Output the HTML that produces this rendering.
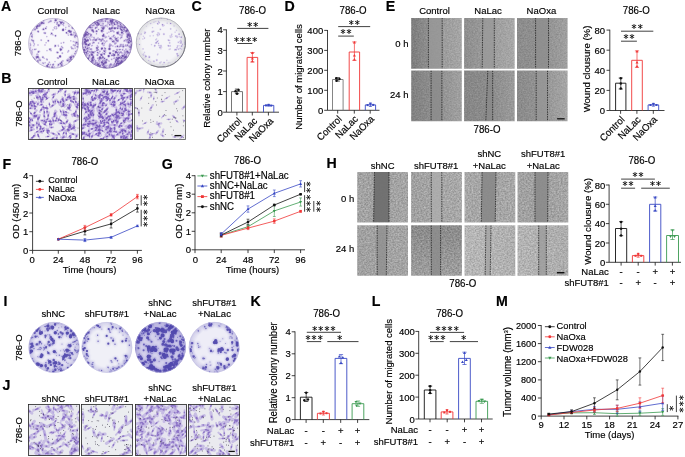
<!DOCTYPE html><html><head><meta charset="utf-8"><title>Figure</title><style>text{fill:#000;stroke:#000;stroke-width:.16px}html,body{margin:0;padding:0;background:#fff}svg{display:block}</style></head><body>
<svg width="685" height="457" viewBox="0 0 685 457" font-family='"Liberation Sans", sans-serif' font-size="9.5" fill="none" stroke="#111" stroke-width=".8">
<defs>
<filter id="b" x="-5%" y="-5%" width="110%" height="110%"><feGaussianBlur stdDeviation=".4"/></filter>
<filter id="b6" x="-5%" y="-5%" width="110%" height="110%"><feGaussianBlur stdDeviation=".6"/></filter>
<filter id="b8" x="-5%" y="-5%" width="110%" height="110%"><feGaussianBlur stdDeviation=".8"/></filter>
<filter id="b3" x="-30%" y="-30%" width="160%" height="160%"><feGaussianBlur stdDeviation="3"/></filter>
<filter id="gn" x="0" y="0" width="100%" height="100%" color-interpolation-filters="sRGB"><feTurbulence type="fractalNoise" baseFrequency=".61 .73" numOctaves="2" seed="4"/><feColorMatrix values="1 0 0 0 0 1 0 0 0 0 1 0 0 0 0 0 0 0 0 1" result="n"/><feComposite in="SourceGraphic" in2="n" operator="arithmetic" k1="0" k2="1" k3=".17" k4="-.085"/></filter>
<filter id="gn2" x="0" y="0" width="100%" height="100%" color-interpolation-filters="sRGB"><feTurbulence type="fractalNoise" baseFrequency=".57 .69" numOctaves="2" seed="9"/><feColorMatrix values="1 0 0 0 0 1 0 0 0 0 1 0 0 0 0 0 0 0 0 1" result="n"/><feComposite in="SourceGraphic" in2="n" operator="arithmetic" k1="0" k2="1" k3=".3" k4="-.15"/></filter>
</defs>
<rect width="685" height="457" fill="#fff" stroke="none"/>
<g>
<text transform="translate(1.1 11.3)scale(1 1.02)" font-weight="bold" font-size="14.2">A</text>
<text transform="translate(52.7 14.3)scale(1 1.04)" text-anchor="middle">Control</text>
<text transform="translate(106.3 14.3)scale(1 1.04)" text-anchor="middle">NaLac</text>
<text transform="translate(160.1 14.3)scale(1 1.04)" text-anchor="middle">NaOxa</text>
<text transform="translate(21.4 43)rotate(-90)scale(1 1.04)" text-anchor="middle">786-O</text>
<radialGradient id="pg11"><stop offset="0.75" stop-color="#f8f7fb"/><stop offset="1" stop-color="#ece8f4"/></radialGradient>
<clipPath id="pc11"><circle cx="53.5" cy="43.3" r="25.1"/></clipPath>
<circle cx="53.5" cy="43.3" r="25.1" fill="url(#pg11)" stroke="none"/>
<g clip-path="url(#pc11)" stroke-linecap="round">
<g filter="url(#b6)" stroke="#b9a6de" opacity="0.45">
<path d="M45.1 62.7h0M62.6 30.3h0M63.4 29.7h0M54.6 22.4h0M56.6 27h0M71.8 48.6h0M34.7 28.7h0M35.5 28.9h0M38 45h0M69.3 31.8h0M32.9 30.2h0M75.4 53.2h0M39.7 58.1h0M37.1 57.1h0M38.5 58.7h0M57.9 65.8h0M58.2 45.3h0M58.4 46.2h0M67.8 52h0M36.9 54.6h0M38.1 54.9h0M37.2 54h0M76.5 35.3h0M68.1 58.8h0M42.5 29.4h0M43.4 28.5h0M33.6 42.7h0M32.3 34.7h0M75 41.9h0M68.4 35.2h0M67.9 33.7h0M46.4 59.1h0M47.2 59.4h0M65.6 29.4h0M59.7 56.7h0M73.7 57.4h0M73 57.3h0M72.8 56.5h0M46.5 26.9h0M32.1 36.1h0M55 26.7h0M54.2 27.6h0M54.4 28.4h0M53 29.9h0M42.7 63h0M39.3 26.4h0M39.4 26h0M39.7 24.9h0M39.6 25.6h0M60.1 48.6h0M60.7 48.3h0M61 49.3h0M60.8 24.6h0M41 22.6h0M43.1 22.6h0M38.3 31.7h0M38.5 32h0M68.3 60.5h0M77.6 36.6h0M44.1 58.3h0M29.6 52.4h0M61.1 64.5h0M62 65.7h0M60.7 66.2h0M36.2 56.8h0M32.2 37.6h0M75.2 45.6h0M74.5 45.8h0M45.4 67.4h0M71.9 55.4h0M30.8 50.7h0M54.8 46.5h0M73.7 44.9h0M73.3 45.1h0M67.9 31.3h0M68.8 31.1h0M61.8 65.5h0M61.4 65.8h0M61.8 67.6h0M62.7 66.3h0M73.3 41.5h0M59.4 63.7h0M63.6 25.6h0M70.5 61.8h0M69.3 59.7h0M78.6 43.9h0M77.6 43.8h0M54.3 66.8h0M53.9 67.7h0M32.5 49.7h0M31.7 51h0M70.8 40.8h0M48.3 63.9h0M62 61.7h0M62.3 62.9h0M45.2 33.1h0M73.2 28.6h0M71.3 59h0M70.8 60.2h0M52.3 66.8h0M52.7 67.1h0M69 62.4h0M72.6 48.4h0M73.2 48.7h0M75.1 48.1h0M77.3 43.9h0M75.7 43.7h0M75.9 43.7h0M74.9 36.1h0M75.1 37.4h0M74.5 37.1h0M77.2 46.4h0M37.1 56.2h0M51 34.4h0M52.3 34.2h0M53 34.8h0M68.3 23.7h0M56.7 28.3h0M56.1 28.8h0M52.5 65.1h0M53.6 64.1h0M74.7 53.7h0M39.6 51.4h0M55.7 19.2h0M57.2 18.9h0M36.4 26.9h0M55 61.6h0M33.9 45.7h0M34.4 44.1h0M34.3 43.9h0M62.6 64.1h0M62.5 65.4h0M65.8 27.5h0M30.7 45h0M46.8 36.6h0M30.4 45.7h0M30.6 44.6h0M30.2 43.4h0M76.8 50.4h0M75.8 51.6h0M75.7 51.5h0M75.8 51.5h0M61 22.2h0M41 24.4h0M41.5 23.7h0M40.5 23.8h0M69.2 60.2h0M76.9 46.6h0M55.2 20.4h0M31.6 39.8h0M35.2 59.5h0M34.5 59.4h0M33.7 59.2h0M30.4 47.9h0M30 49.3h0M29.2 49.6h0M51.8 67.3h0M57.4 57.6h0M47 50.6h0M60.3 64.3h0M70.3 60.5h0M36 49.2h0M33 29.7h0M70.9 56.7h0M69.9 57.7h0M38.9 60.6h0M38.1 62.2h0M38.3 62.3h0M39.5 65.7h0M73.8 34.1h0M75.1 32.9h0M76 33.5h0M45 45h0M46.1 42.7h0M61.2 43.2h0M61.7 49.6h0M62.8 47.8h0M48.5 22.4h0" stroke-width="1.8"/>
<path d="M51 50.6h0M50.2 49.8h0M50.8 49h0M56.9 24.2h0M57 22.8h0M63.3 29.2h0M58.7 26.3h0M71.9 48.3h0M69.8 32.1h0M69 61.7h0M37.1 61.3h0M39.3 59.8h0M38.3 57.3h0M37 57.4h0M66.5 32.8h0M68.6 50.9h0M43.7 20.8h0M43.4 20.7h0M67.9 60h0M69 26.2h0M32 36.4h0M31.5 36.3h0M32 36.1h0M69.5 57.3h0M47.1 59.7h0M36.8 26.6h0M75.7 34.4h0M43.4 63.3h0M60.4 50.4h0M49.3 62.3h0M36.3 26.4h0M31.9 53.9h0M40.6 23.8h0M40.2 25.6h0M61.7 64.7h0M77.7 46.7h0M78.3 46.7h0M79.2 47.8h0M36.3 56.5h0M37.8 56.9h0M74 32.6h0M75.1 45.2h0M48.9 66.6h0M32 52.2h0M55.4 46h0M70.8 31h0M39.1 25.8h0M36.4 58.2h0M36.3 57.6h0M41.2 40.2h0M72.9 35h0M63 24.5h0M69.4 62.1h0M69.4 61.6h0M68.9 60h0M40 24.8h0M61.5 65.7h0M61.5 64.7h0M50.3 64.7h0M62.9 60.9h0M44.2 32.9h0M63.7 42.6h0M72.7 27.5h0M72 27.7h0M57.4 22.4h0M57.4 23.8h0M70.7 61.4h0M52.8 67.5h0M52.7 67.3h0M71.3 47.2h0M33.4 57.5h0M33.9 58.8h0M39.5 25.8h0M38.5 51.6h0M56.9 52.4h0M55.9 20.5h0M61.7 46.7h0M60.7 21.6h0M67.1 60.1h0M59.4 21.5h0M32 40.1h0M32.3 40.5h0M58.4 58.1h0M57.8 58.1h0M74.9 53.7h0M61.7 61.7h0M49.2 67.2h0M78.1 44.5h0M62.3 53.2h0M70.3 59.7h0M35.1 49.5h0M34.7 49.4h0M62.3 47.7h0M49.5 21.8h0M36.5 57.4h0" stroke-width="2.2"/>
<path d="M49.8 49.3h0M35 29.6h0M69.8 31.8h0M37.8 60.9h0M43.7 23.2h0M66.5 32.8h0M75.4 35.6h0M43.6 29.4h0M45.7 28.4h0M37.1 28h0M55.5 35.8h0M71.8 59.7h0M60.6 22.8h0M42.2 22.6h0M38.1 31.4h0M77 36h0M36.6 27h0M42.9 57.2h0M58.5 64.7h0M63.6 23.1h0M39.1 24.1h0M78 46.9h0M50.8 21.1h0M48.3 40.8h0M55.3 45.7h0M73.3 56.2h0M31.2 32.9h0M77 42.5h0M36.5 28.1h0M40.2 60.1h0M48.2 64.4h0M45.1 33.1h0M72.7 28h0M70.8 58.4h0M76.3 42.5h0M74.9 36.1h0M51.6 33.4h0M53.1 64.8h0M38.4 51.9h0M57.7 52.5h0M67.4 60.6h0M52 67.3h0M61.4 62.8h0M62.2 22.3h0M33.3 40.9h0M34.2 59.3h0M70.5 58.7h0M60.5 63.5h0" stroke-width="2.7"/>
<path d="M63.1 29.9h0M58.8 25.3h0M70.6 31.7h0M60.1 56.4h0M71 57.3h0M71.2 34.5h0M41.9 23h0M37.7 57h0M47.2 66.1h0M69.1 31h0M30.5 33.4h0M37.8 26h0M55.7 20.3h0M61.2 22.8h0M60.8 49.5h0" stroke-width="3.4"/>
</g><g filter="url(#b)" stroke="#58379c" opacity="0.8">
<path d="M45.1 62.7h0M62.6 30.3h0M63.4 29.7h0M54.6 22.4h0M56.6 27h0M71.8 48.6h0M34.7 28.7h0M35.5 28.9h0M38 45h0M69.3 31.8h0M32.9 30.2h0M75.4 53.2h0M39.7 58.1h0M37.1 57.1h0M38.5 58.7h0M57.9 65.8h0M58.2 45.3h0M58.4 46.2h0M67.8 52h0M36.9 54.6h0M38.1 54.9h0M37.2 54h0M76.5 35.3h0M68.1 58.8h0M42.5 29.4h0M43.4 28.5h0M33.6 42.7h0M32.3 34.7h0M75 41.9h0M68.4 35.2h0M67.9 33.7h0M46.4 59.1h0M47.2 59.4h0M65.6 29.4h0M59.7 56.7h0M73.7 57.4h0M73 57.3h0M72.8 56.5h0M46.5 26.9h0M32.1 36.1h0M55 26.7h0M54.2 27.6h0M54.4 28.4h0M53 29.9h0M42.7 63h0M39.3 26.4h0M39.4 26h0M39.7 24.9h0M39.6 25.6h0M60.1 48.6h0M60.7 48.3h0M61 49.3h0M60.8 24.6h0M41 22.6h0M43.1 22.6h0M38.3 31.7h0M38.5 32h0M68.3 60.5h0M77.6 36.6h0M44.1 58.3h0M29.6 52.4h0M61.1 64.5h0M62 65.7h0M60.7 66.2h0M36.2 56.8h0M32.2 37.6h0M75.2 45.6h0M74.5 45.8h0M45.4 67.4h0M71.9 55.4h0M30.8 50.7h0M54.8 46.5h0M73.7 44.9h0M73.3 45.1h0M67.9 31.3h0M68.8 31.1h0M61.8 65.5h0M61.4 65.8h0M61.8 67.6h0M62.7 66.3h0M73.3 41.5h0M59.4 63.7h0M63.6 25.6h0M70.5 61.8h0M69.3 59.7h0M78.6 43.9h0M77.6 43.8h0M54.3 66.8h0M53.9 67.7h0M32.5 49.7h0M31.7 51h0M70.8 40.8h0M48.3 63.9h0M62 61.7h0M62.3 62.9h0M45.2 33.1h0M73.2 28.6h0M71.3 59h0M70.8 60.2h0M52.3 66.8h0M52.7 67.1h0M69 62.4h0M72.6 48.4h0M73.2 48.7h0M75.1 48.1h0M77.3 43.9h0M75.7 43.7h0M75.9 43.7h0M74.9 36.1h0M75.1 37.4h0M74.5 37.1h0M77.2 46.4h0M37.1 56.2h0M51 34.4h0M52.3 34.2h0M53 34.8h0M68.3 23.7h0M56.7 28.3h0M56.1 28.8h0M52.5 65.1h0M53.6 64.1h0M74.7 53.7h0M39.6 51.4h0M55.7 19.2h0M57.2 18.9h0M36.4 26.9h0M55 61.6h0M33.9 45.7h0M34.4 44.1h0M34.3 43.9h0M62.6 64.1h0M62.5 65.4h0M65.8 27.5h0M30.7 45h0M46.8 36.6h0M30.4 45.7h0M30.6 44.6h0M30.2 43.4h0M76.8 50.4h0M75.8 51.6h0M75.7 51.5h0M75.8 51.5h0M61 22.2h0M41 24.4h0M41.5 23.7h0M40.5 23.8h0M69.2 60.2h0M76.9 46.6h0M55.2 20.4h0M31.6 39.8h0M35.2 59.5h0M34.5 59.4h0M33.7 59.2h0M30.4 47.9h0M30 49.3h0M29.2 49.6h0M51.8 67.3h0M57.4 57.6h0M47 50.6h0M60.3 64.3h0M70.3 60.5h0M36 49.2h0M33 29.7h0M70.9 56.7h0M69.9 57.7h0M38.9 60.6h0M38.1 62.2h0M38.3 62.3h0M39.5 65.7h0M73.8 34.1h0M75.1 32.9h0M76 33.5h0M45 45h0M46.1 42.7h0M61.2 43.2h0M61.7 49.6h0M62.8 47.8h0M48.5 22.4h0" stroke-width="0.5" stroke-opacity="0.7"/>
<path d="M51 50.6h0M50.2 49.8h0M50.8 49h0M56.9 24.2h0M57 22.8h0M63.3 29.2h0M58.7 26.3h0M71.9 48.3h0M69.8 32.1h0M69 61.7h0M37.1 61.3h0M39.3 59.8h0M38.3 57.3h0M37 57.4h0M66.5 32.8h0M68.6 50.9h0M43.7 20.8h0M43.4 20.7h0M67.9 60h0M69 26.2h0M32 36.4h0M31.5 36.3h0M32 36.1h0M69.5 57.3h0M47.1 59.7h0M36.8 26.6h0M75.7 34.4h0M43.4 63.3h0M60.4 50.4h0M49.3 62.3h0M36.3 26.4h0M31.9 53.9h0M40.6 23.8h0M40.2 25.6h0M61.7 64.7h0M77.7 46.7h0M78.3 46.7h0M79.2 47.8h0M36.3 56.5h0M37.8 56.9h0M74 32.6h0M75.1 45.2h0M48.9 66.6h0M32 52.2h0M55.4 46h0M70.8 31h0M39.1 25.8h0M36.4 58.2h0M36.3 57.6h0M41.2 40.2h0M72.9 35h0M63 24.5h0M69.4 62.1h0M69.4 61.6h0M68.9 60h0M40 24.8h0M61.5 65.7h0M61.5 64.7h0M50.3 64.7h0M62.9 60.9h0M44.2 32.9h0M63.7 42.6h0M72.7 27.5h0M72 27.7h0M57.4 22.4h0M57.4 23.8h0M70.7 61.4h0M52.8 67.5h0M52.7 67.3h0M71.3 47.2h0M33.4 57.5h0M33.9 58.8h0M39.5 25.8h0M38.5 51.6h0M56.9 52.4h0M55.9 20.5h0M61.7 46.7h0M60.7 21.6h0M67.1 60.1h0M59.4 21.5h0M32 40.1h0M32.3 40.5h0M58.4 58.1h0M57.8 58.1h0M74.9 53.7h0M61.7 61.7h0M49.2 67.2h0M78.1 44.5h0M62.3 53.2h0M70.3 59.7h0M35.1 49.5h0M34.7 49.4h0M62.3 47.7h0M49.5 21.8h0M36.5 57.4h0" stroke-width="0.9" stroke-opacity="0.7"/>
<path d="M49.8 49.3h0M35 29.6h0M69.8 31.8h0M37.8 60.9h0M43.7 23.2h0M66.5 32.8h0M75.4 35.6h0M43.6 29.4h0M45.7 28.4h0M37.1 28h0M55.5 35.8h0M71.8 59.7h0M60.6 22.8h0M42.2 22.6h0M38.1 31.4h0M77 36h0M36.6 27h0M42.9 57.2h0M58.5 64.7h0M63.6 23.1h0M39.1 24.1h0M78 46.9h0M50.8 21.1h0M48.3 40.8h0M55.3 45.7h0M73.3 56.2h0M31.2 32.9h0M77 42.5h0M36.5 28.1h0M40.2 60.1h0M48.2 64.4h0M45.1 33.1h0M72.7 28h0M70.8 58.4h0M76.3 42.5h0M74.9 36.1h0M51.6 33.4h0M53.1 64.8h0M38.4 51.9h0M57.7 52.5h0M67.4 60.6h0M52 67.3h0M61.4 62.8h0M62.2 22.3h0M33.3 40.9h0M34.2 59.3h0M70.5 58.7h0M60.5 63.5h0" stroke-width="1.4" stroke-opacity="0.9"/>
<path d="M63.1 29.9h0M58.8 25.3h0M70.6 31.7h0M60.1 56.4h0M71 57.3h0M71.2 34.5h0M41.9 23h0M37.7 57h0M47.2 66.1h0M69.1 31h0M30.5 33.4h0M37.8 26h0M55.7 20.3h0M61.2 22.8h0M60.8 49.5h0" stroke-width="2.1" stroke-opacity="1"/>
</g></g>
<circle cx="53.5" cy="43.3" r="24.9" stroke="#a79dc2" stroke-width="0.6"/>
<radialGradient id="pg12"><stop offset="0.75" stop-color="#f3f0f9"/><stop offset="1" stop-color="#dcd3ec"/></radialGradient>
<clipPath id="pc12"><circle cx="107.1" cy="43.3" r="25.1"/></clipPath>
<circle cx="107.1" cy="43.3" r="25.1" fill="url(#pg12)" stroke="none"/>
<g clip-path="url(#pc12)" stroke-linecap="round">
<g filter="url(#b6)" stroke="#b9a6de" opacity="0.45">
<path d="M96.9 25.7h0M98.3 20.8h0M99.8 21.9h0M100.9 20.2h0M126.1 57.2h0M125.9 56.7h0M126.1 56.4h0M101.4 57.8h0M129.4 46.9h0M83.6 49.4h0M82.7 46.2h0M123.4 33.7h0M122 34.9h0M82.5 42.7h0M105.5 63.1h0M105.8 63.6h0M98.3 23.2h0M100 39.7h0M119.7 52.3h0M87 37.9h0M94 60h0M102.1 40h0M103 39.8h0M87.7 46.8h0M99.4 63.9h0M119.2 46.9h0M130.5 48.2h0M129.8 49.7h0M110.1 38.3h0M101.9 19.7h0M97.6 64.9h0M98.1 65h0M97.3 65h0M116.6 57.8h0M115.4 46.7h0M93.9 25.1h0M127.8 41.7h0M105.5 52.4h0M125.3 51.1h0M95.6 23.4h0M96.7 24.3h0M93.3 56.5h0M104.6 50.2h0M105.8 50.8h0M122.9 60.6h0M122.6 59.2h0M121.1 58.9h0M91.9 29.7h0M93.1 30.3h0M92.7 29.6h0M86.4 40.6h0M86.7 40.7h0M125.2 60.7h0M128.6 37.3h0M128.9 37h0M87.3 50.6h0M86.5 52.4h0M86.6 52.1h0M90.3 36.4h0M90.5 35.5h0M90.5 35.3h0M110 43.8h0M130.6 42.8h0M86.9 45.9h0M120.1 19.9h0M121 20.4h0M121.3 52.4h0M105.1 37.8h0M105.5 37.5h0M106.6 37h0M126.7 33.9h0M127.1 34.2h0M106.9 41h0M83.5 52.9h0M91.7 59.3h0M96.8 62.7h0M85.2 46.2h0M117.1 24.1h0M110.9 39.4h0M123.3 61.8h0M131.7 44.2h0M131.1 45h0M131.2 45.3h0M111.1 19.8h0M90.6 27.3h0M92.3 45.4h0M113.5 58.4h0M122.6 49.8h0M120.7 27.7h0M91.7 53.7h0M91.9 54.3h0M129.7 46.5h0M129.1 45.7h0M128.6 46.3h0M129.8 47.3h0M130.3 36.3h0M112.2 39.6h0M103 44.7h0M103.3 45.6h0M104.3 45.1h0M96.9 64.9h0M107.7 26.8h0M119.1 21.8h0M119.4 21.7h0M119.8 23h0M121 57.2h0M107.7 22.1h0M118.5 27.1h0M130 34.4h0M112.3 23.8h0M113.5 23.2h0M115.9 40.5h0M116.2 40.8h0M116.2 65h0M101.3 21.5h0M112.1 30.8h0M111.7 29.5h0M120.2 45.6h0M121.6 44.5h0M122.6 45.1h0M92.5 62.2h0M90.3 62.1h0M96.6 30.8h0M127.1 42h0M97.6 58.5h0M97.9 58.1h0M118.7 31.5h0M91.3 59h0M96.1 64.2h0M95.7 63.9h0M96 63.3h0M94.9 65h0M101.1 21.6h0M101.4 20.1h0M101.7 19.4h0M93.9 52.8h0M93.6 51.8h0M129.1 52.8h0M129.9 52.7h0M99.6 56.8h0M100.6 57.2h0M129.7 38.4h0M94 22.2h0M87.9 28h0M87.5 28.3h0M115.2 62.1h0M89.3 27.5h0M103.8 62.5h0M104.5 63.4h0M104.5 62.9h0M118.6 65h0M99.9 65.4h0M100.4 66.2h0M110.6 21.5h0M111.3 21.9h0M131 37.9h0M132.7 37.8h0M132.5 38.8h0M119.8 57.7h0M120.5 56.3h0M118.3 65.1h0M118.6 65.1h0M110.7 31.3h0M117.7 54.5h0M117.3 55.2h0M110.5 46.1h0M111.5 39.9h0M85.7 46.4h0M115.3 39.4h0M116.4 41.1h0M89 26.6h0M117.6 65.9h0M103.1 63.5h0M102.8 62.4h0M103 65.2h0M127 45.8h0M96.9 22.3h0M95.8 23.1h0M94.6 22.2h0M121.9 25.6h0M118.9 25.8h0M95.7 40.4h0M110.2 23.2h0M105 60.6h0M105.7 61.7h0M123.3 47.6h0M110.7 44.9h0M109.4 45.1h0M107.2 33.2h0M108.9 32.2h0M122.8 26.7h0M121.4 25.5h0M113.5 28.4h0M95.9 62.9h0M96.2 64.1h0M122 45.2h0M123.3 44.5h0M101.5 31.6h0M84.5 41.5h0M86.2 40.6h0M85.2 41.2h0M88.2 41.7h0M121.7 37h0M95.4 24h0M95.1 23.7h0M95.2 61.7h0M95.8 62.7h0M102 61.8h0M100.3 41h0M104.8 50.5h0M104.2 50.7h0M103.6 51.3h0M103.6 50.5h0M115.3 37.2h0M96.5 48.8h0M116 43.3h0M114.8 43h0M114.7 43.4h0M115 44.3h0M92.4 53.8h0M109.1 29.3h0M117.6 55.6h0M87.4 58.1h0M89.1 57.4h0M119.5 26.7h0M119.9 26.1h0M118.6 23.2h0M109.1 61.2h0M106.1 66.7h0M103 28.8h0M107.1 25.1h0M108.4 23.1h0M111.3 21.6h0M90.9 53.7h0M93.6 60.5h0M130.4 52.4h0M114.2 35.4h0M106.9 65.5h0M98.6 24.9h0M95.8 60.9h0M114 65.9h0M114.6 64.9h0M108 23.7h0M103.5 53.7h0M102.7 52.9h0M112.2 36.7h0M125.5 57.1h0M126.4 57.4h0M118.7 32.7h0M117 32.5h0M90.4 28.7h0M90 49.1h0M125.1 27.5h0M129.2 36h0M128 35.4h0M130.4 34.6h0M117.2 27.9h0M129.3 33.7h0M99.3 57.8h0M119.8 62.5h0M120.7 27.9h0M90.5 51.7h0M90.2 52.5h0M120.8 62.7h0M97.3 45.6h0M121.7 60.2h0M86.3 39.8h0M87.4 33.1h0M125.8 40.4h0M125.7 39.5h0M122.4 33.1h0M122.8 31.7h0M114.2 37.4h0M91.6 49.8h0M90.7 48.8h0M126.5 54.6h0M120.5 61.3h0M118.8 62.2h0M117.9 63.7h0M92.5 27.5h0M131.5 47.3h0M120 63.3h0M91.8 28.1h0M85.6 44h0M85.5 44.2h0M96.3 27.6h0M121.7 27.1h0M121.8 26.7h0M119 25.7h0M108.8 36.3h0M92.2 62.1h0M106.7 68.3h0M120.4 38.5h0M124.3 58.2h0M123.6 25.1h0M124 25.6h0M123.7 24.5h0M98 37.9h0M100.6 25.5h0M100.8 25.5h0M102.2 26.2h0M127.9 33.7h0M127.8 34.4h0M95.1 22.3h0M107.3 18.3h0M116.4 22.5h0M117.9 23.9h0M117.5 23.7h0M117.2 22.8h0M84.7 53.5h0M92.2 57.5h0M130.6 41.5h0M120.3 34.9h0M118 37.5h0M117.4 38.7h0M121.7 56.6h0M100.1 62.1h0M99.1 61.5h0M104.5 43.4h0M105.5 42.1h0M104.2 41h0M104 40.7h0M126.8 50.6h0M117.1 23.2h0M117.4 24.1h0M106.2 59.6h0M108.1 60.6h0M113.3 67.8h0M105.3 50.7h0M120.9 25.1h0M97 23.2h0M127.9 36.7h0M123.9 27.2h0M118.6 51.9h0M121.8 60.4h0M124.2 60h0M115.1 53.1h0M115.5 53.2h0M116.7 51.8h0M109.8 20.1h0M105.9 18.7h0M106.8 18.9h0M113.1 50.8h0M114.5 50.9h0M113.6 50.7h0M96 31.6h0M110.7 31.1h0M111.1 31h0M97.2 26.7h0M97 27.7h0M100 60.4h0M118.4 61.3h0M130.6 36h0M131.3 35.6h0M91.6 29.9h0M117.2 57.1h0M117.3 58.6h0M103 56.6h0M85.3 43.9h0M104.1 66.6h0M104.5 68h0M83.2 37.5h0M82.8 36.9h0M82.3 35.9h0M90.5 25.3h0M108 19.5h0M117 52.8h0M113.6 40.6h0M106 26.2h0M96.5 33.7h0M96.4 33.8h0M122.1 33.9h0M97.8 49.6h0M119.2 64.7h0M126.3 53h0M116.2 58.3h0M115.9 58.3h0M116.6 64.2h0M116.2 66h0M116.3 38.5h0M99.7 23.7h0M118 21.9h0M85.3 38.9h0M87 52.5h0M86.7 53h0M82.8 41.6h0M93.7 58.1h0M112.8 46h0M102.9 57.8h0M129.6 37.6h0M129.7 38.1h0M103.9 25.9h0M84.2 34.7h0M103.9 61.4h0M87.8 45.5h0M85.5 49h0M91.8 22h0M103.5 31.1h0M88.3 37.2h0M129.2 36.2h0M129.2 35.8h0M127.8 36.1h0M121.6 58.8h0M122.8 58.4h0M86.8 34.3h0M86.5 34.3h0M112.5 22h0M110.7 22.5h0M86.7 29.5h0M89.7 38.4h0M89.9 39.1h0M112.4 25.3h0M112.3 27.2h0M84.7 38.2h0M83.6 40h0M82 38.6h0M83.3 37.7h0M97.8 18.2h0M124.1 41.3h0M124.5 40.5h0M85.9 32.4h0M86.6 31.9h0M86.1 32.1h0M93.5 62.3h0M92.9 61.8h0M92.4 60.8h0M95.4 28.4h0M91.5 45.8h0M109.1 66.2h0M87.1 34.2h0M127.7 30.5h0M101.9 54.3h0M112.4 28.7h0M112.2 28h0M125.5 58.3h0M126 57h0M128.1 31.9h0M128.5 30h0M127.3 30.4h0M120.8 29.3h0M84.6 40.9h0M85.7 41h0M116 42.6h0M106.1 41.3h0M95 24h0M104.2 63.7h0M104.3 63.1h0M93.2 40.9h0M92.4 40h0M102.2 23.9h0M103.3 23.9h0M116.6 40.5h0M116.4 40.6h0M118.7 58.4h0M120.2 58.4h0M112.1 25.6h0M113.3 25.8h0M113.7 54.2h0M115.4 43.5h0M130 42.7h0M130.6 41.5h0M87.9 39.7h0M85.6 40.4h0M84.9 41.7h0M91.9 36.9h0M89.8 36.9h0M85.5 54.1h0M85.1 54.5h0M105.3 65.5h0M98.5 25.2h0M98.6 25h0M105.2 20.7h0M97 65.7h0M97.2 66.4h0M97.3 66.4h0M97.6 65.7h0M96.3 39.6h0M106.2 61.4h0M120 23h0M126.1 41h0M115.4 52h0M99.2 64.1h0M99.5 67.1h0M126.1 31.4h0M125.3 31.4h0M113.4 64.9h0M113.1 66.2h0M88.8 51.2h0M111.2 23.9h0M111.3 24.5h0M103.3 61.2h0M103.2 59.6h0M89.4 55.4h0M117.5 45.7h0M126.6 57.3h0M123.2 57.6h0M89.8 34h0M84.6 50.3h0M117.4 33.9h0M93 31.6h0M98.9 66h0M88.9 56.1h0M89 57.1h0M87.8 34.6h0M124.3 50.6h0M88.7 49.2h0M126.1 46.1h0M125.6 45.9h0M86.8 49.1h0" stroke-width="1.8"/>
<path d="M99.9 21.6h0M126.2 55h0M109.8 48.3h0M109.4 47.1h0M109.7 46.9h0M130.3 47.6h0M103 67.6h0M83.3 47.6h0M92.4 25.7h0M105.2 62.4h0M97.9 22.8h0M101.6 40.7h0M86.4 37.4h0M99.2 63.1h0M114.6 58.1h0M115 37.8h0M96.1 22.2h0M95.2 23.4h0M119.2 46.5h0M130.5 49.1h0M109.9 38.8h0M118.2 59.6h0M124.3 57.1h0M93.7 25.4h0M95 51.5h0M97.3 25.3h0M92.7 43.1h0M104.6 47.9h0M112.9 67.2h0M124.7 60.2h0M90.8 35.2h0M102.9 65.2h0M102.1 63.6h0M101.6 64.2h0M131.2 39.6h0M131 38.2h0M109.3 46.1h0M109.9 44.7h0M94.2 59.3h0M94 37.5h0M94.2 38.8h0M94.2 39.9h0M129.8 40.6h0M125.8 55.8h0M124.2 56.1h0M121 23h0M120.5 20.4h0M104.9 36.4h0M117.8 57.5h0M126 32.3h0M84.9 52h0M112 27.4h0M96.6 47.6h0M111.4 22.2h0M122.7 49.7h0M124.2 55.3h0M91.2 54.7h0M102.5 35.8h0M102.8 36.3h0M120.9 29.5h0M121.7 29.1h0M120.1 23.1h0M109.9 65.9h0M108 22.1h0M118 28.3h0M130.5 41.3h0M114.7 24.3h0M117.9 39.9h0M114.4 64.9h0M100 20.5h0M112.9 30.7h0M120.4 44.7h0M105.8 25.6h0M91.2 61.5h0M89.5 62.5h0M89.3 55.2h0M87 55h0M86.7 54.1h0M88 53.4h0M127.4 29.4h0M85.8 35h0M102.8 19.9h0M102.9 21.6h0M100.7 19.5h0M126.5 28.1h0M131.5 40.1h0M99.9 57h0M100.8 58.8h0M129.3 39.2h0M129.1 38.7h0M83.7 43.9h0M115.5 62.4h0M90.6 26.9h0M102.9 61.1h0M84.9 36.2h0M100 65h0M99.8 65.8h0M111.2 21.9h0M121 56.9h0M115.3 66.5h0M110.5 29.6h0M89.9 26.9h0M89.8 25.7h0M91.1 25h0M116.2 64h0M98.8 53.2h0M99.9 51.4h0M113.9 40.8h0M89.6 51.9h0M116.3 39.6h0M116.3 40.5h0M102.5 27.3h0M113.9 31.7h0M103.6 64.5h0M117.8 41.5h0M102 25.5h0M116.7 58.1h0M94.9 22.6h0M116.4 63.1h0M95.2 40.3h0M96.3 39.5h0M109.9 22h0M105.5 60.2h0M106.4 60h0M122.6 46.6h0M110 45.6h0M111.2 45.2h0M98.6 43.1h0M95.3 63.1h0M101.7 58.6h0M118.5 60.9h0M113.9 56h0M102.2 31.7h0M102.7 30.6h0M122 53.1h0M87 40.6h0M86.4 41.3h0M95.5 23.7h0M95.4 60.9h0M97.2 62.7h0M106.3 61.9h0M92.8 55.3h0M93.1 56.6h0M118 54.8h0M119 55.9h0M101.4 48.9h0M102.2 29h0M110 22.8h0M93 61.2h0M129 52.6h0M98.6 29.5h0M97.8 55h0M97.1 55.1h0M97.4 55.1h0M104.5 54.2h0M118.5 33.8h0M117.3 33.1h0M111.7 59.4h0M127.8 35.1h0M116 27.9h0M119.4 49.7h0M131.1 46.7h0M117.7 62.4h0M91.2 52.6h0M86.5 34.3h0M86.1 35.2h0M108.6 49h0M125 30.7h0M124.8 30.8h0M91.5 49h0M124.7 54.8h0M126.6 56h0M118.4 63.8h0M111.6 28.2h0M95.4 28.4h0M110.8 20.5h0M103.8 67.3h0M121.7 37.6h0M121 37.4h0M125 58h0M124.2 24.3h0M101.4 27.7h0M105.5 18.8h0M128.1 34.7h0M105.7 18.9h0M131.5 41.4h0M109.7 65.1h0M93.8 39.6h0M98.7 60.2h0M106.5 68.3h0M113.4 36.2h0M113.7 35.7h0M114.8 66.3h0M116.4 63.4h0M128.4 52.5h0M127.8 39.3h0M119.1 49.6h0M120.3 49.5h0M123.3 31.6h0M119.5 53.1h0M118.6 63.2h0M84.8 35.4h0M127.8 35.2h0M123.7 60h0M110.5 21.4h0M110.8 19.9h0M106.6 19.1h0M113.2 51.1h0M96.4 31.4h0M96.3 31.1h0M111 31.2h0M117.7 60.9h0M117.1 60.7h0M101.5 49.3h0M114.4 63.5h0M113.1 53.5h0M92.2 30.4h0M116.4 57.5h0M109.6 67.6h0M103.3 57.3h0M109.3 48.5h0M128.4 35.1h0M127.2 35h0M103.5 68.7h0M97.1 38.9h0M116.1 52.1h0M97.9 49.7h0M98.3 49.8h0M117.7 63.7h0M117.1 63.3h0M125.4 53.1h0M117 65.3h0M118.9 61.2h0M116.1 38.8h0M82.9 39.2h0M84.3 39.8h0M84.6 38.1h0M119.3 61.1h0M85.4 43.4h0M86.7 53.4h0M84.5 41.9h0M93.6 56h0M129 38.4h0M130 38.2h0M128.7 38.6h0M103.5 26.8h0M104.6 27h0M92.8 23.3h0M92.8 22.3h0M99.3 65.7h0M100.4 65.5h0M123.1 58.5h0M86.9 36h0M101.3 41h0M113.9 27.8h0M112.4 27.2h0M115.9 24.5h0M98.2 20.7h0M124.3 40.6h0M83.3 49.4h0M82.5 50.4h0M110 66.5h0M85.8 33.6h0M87.6 34.3h0M128 30.6h0M111.6 28.6h0M121.9 35.8h0M128 32.9h0M128.9 30.4h0M122.5 30.3h0M121.7 29.8h0M121.2 30h0M85.3 36.7h0M83.9 34.9h0M103.2 64.5h0M103.1 63.8h0M103.1 23.8h0M119.9 61h0M121 62.9h0M120.3 63.5h0M120.6 58.7h0M90.6 39.9h0M130.1 41.4h0M91.3 34.7h0M91.3 35.2h0M84 54.4h0M85.9 56h0M104.8 59.9h0M88.1 44.9h0M119.3 65.5h0M116.4 52.4h0M117.1 52.7h0M99.4 66.1h0M125.7 31h0M113.2 65.1h0M112 22.8h0M111.3 23.1h0M102.4 60.6h0M104.1 60.7h0M89.9 56.8h0M89.4 55.9h0M90 55.3h0M117.4 46.6h0M126.8 56.9h0M90.7 34.3h0M93.1 52.3h0M85.6 50.4h0M84.1 50.9h0M93.4 65.5h0M119.9 34.7h0M96.7 24.7h0M103.6 34.3h0M96.1 65.3h0M125.1 52.1h0M124.3 52.1h0M125.9 49.3h0M125.8 45.1h0M89.1 47.7h0M90.6 49.4h0" stroke-width="2.2"/>
<path d="M115.7 61.5h0M99.2 39.3h0M131.6 45.9h0M130.4 46.9h0M102.7 39.1h0M87.7 48.3h0M120.8 46.1h0M110.2 38.3h0M111 38.4h0M98.2 64.9h0M124 29.8h0M124.2 58.1h0M122.2 55.4h0M116 21.5h0M93.8 42.6h0M105.2 48.8h0M125.5 59.9h0M87.6 51.3h0M129.4 40.2h0M95.6 39.9h0M120.8 52.1h0M118.2 58.3h0M128.1 34.3h0M84.8 52.3h0M98.8 66.5h0M97.9 47.1h0M96.8 47.9h0M97.2 48.4h0M111.3 21.8h0M125.8 56.9h0M131.1 40.9h0M130 36.5h0M128.5 35.6h0M127.1 36.3h0M104.6 51.5h0M114.3 23.8h0M116.3 38.7h0M102.7 65.1h0M84.8 34.7h0M102.2 43.8h0M102.7 43.2h0M99.1 58.1h0M92.1 58.4h0M92.9 58h0M101.9 19.9h0M93.2 52.5h0M93.6 52.6h0M120.5 24.7h0M111.9 23.7h0M82 43.9h0M80.4 43.7h0M94.3 22.3h0M89.3 27h0M89.7 25.1h0M118.5 54.8h0M116.8 63.7h0M97.6 52.6h0M121.3 29.7h0M115.1 66.6h0M115.5 66.6h0M102 62.6h0M127.5 45.1h0M117.6 28.3h0M122 27h0M120.8 26.9h0M96.3 40.1h0M109.7 24.7h0M89.8 43.9h0M100.7 58.1h0M123.6 46.2h0M117.6 61.2h0M92.3 55.1h0M103.2 27.8h0M92 60.6h0M91.8 61.3h0M104.3 53.8h0M88.4 58.3h0M86 32.8h0M118 26h0M99.5 59h0M117.9 61.5h0M117.8 63h0M123 27.8h0M120.3 28.6h0M121.4 62.6h0M122.3 61.9h0M121.7 57.7h0M121.3 57.8h0M86.2 34.5h0M98.7 66.4h0M122 30.2h0M124.3 54.1h0M120.9 62.3h0M131.3 45h0M90.8 27.4h0M112 28.3h0M95.9 27.6h0M120.4 26.9h0M127.1 40h0M92 63h0M104.5 67.3h0M105.8 17.1h0M110.9 64.3h0M110.9 64.9h0M117.3 22.8h0M106.8 59.7h0M117.8 40.8h0M97.1 25h0M128.7 39.9h0M117 49.9h0M110.8 20.7h0M96.8 31.3h0M93.5 31.8h0M102.5 57h0M102.9 57.7h0M127.9 35.8h0M103.5 68.7h0M117.7 52.9h0M113.9 41.7h0M112.6 41.5h0M97 50.3h0M85.2 43.9h0M86.3 52.5h0M85.6 42.3h0M127.4 37.3h0M104 28h0M84.3 35.6h0M84.4 36.4h0M104.5 58.4h0M99.8 66.3h0M114.5 24.4h0M87.8 34.9h0M115.7 39h0M114 22.6h0M101 39.7h0M127.9 53.1h0M98.1 20.3h0M86 32h0M113.9 55h0M112.2 55.2h0M112 55.4h0M101.1 54.4h0M111.5 28.2h0M125.3 57.1h0M123.9 29.1h0M89 27.2h0M86.9 40.7h0M115.8 39h0M104.1 66h0M105.5 21.1h0M103.4 67.1h0M85.5 47.2h0M118.7 64.5h0M117.4 46.4h0M124.8 57.3h0M92.2 52.3h0M92 51.8h0M94.3 64.3h0M112.2 67.4h0M113.3 67.9h0M113.2 68.4h0M103.6 34.7h0M87.5 32.5h0M88.7 33.8h0M86.9 48.9h0" stroke-width="2.7"/>
<path d="M112.7 19.9h0M105.3 62.2h0M110 53.2h0M117.8 58.7h0M122.9 56.1h0M121.7 61.4h0M124.8 27.5h0M128.7 42.4h0M119.1 57.7h0M83.9 53h0M110.8 20.9h0M125.4 57.1h0M91.8 54.6h0M130.4 35.5h0M117.6 32.9h0M103.6 63.9h0M92.5 60h0M109.8 28.6h0M97.4 22.6h0M100.2 57.6h0M127.3 51.7h0M88.6 45h0M101.8 30.8h0M108.7 56.1h0M87.8 40.2h0M102 62.2h0M103.1 28.8h0M98.7 24.3h0M128.7 34.5h0M85.2 39.5h0M121.9 32.5h0M88 58.9h0M127.5 29.6h0M86.2 44.2h0M93.1 57.4h0M102 48.5h0M105 67.6h0M118.5 63.7h0M107 18.5h0M92.6 30.5h0M109.6 49h0M85.7 34h0M116.2 60h0M116.4 65.2h0M98 64.4h0M112.2 21.8h0M84.7 42.4h0M114.9 28.2h0M114.3 55h0M86.3 41h0M101.5 55h0M85.3 35h0M120.3 63h0M98.5 24.2h0M105.8 62.5h0M115.9 52.1h0M99.3 67.6h0M126.7 30.9h0M84.1 49.9h0M103.3 35.7h0" stroke-width="3.4"/>
</g><g filter="url(#b)" stroke="#58379c" opacity="0.8">
<path d="M96.9 25.7h0M98.3 20.8h0M99.8 21.9h0M100.9 20.2h0M126.1 57.2h0M125.9 56.7h0M126.1 56.4h0M101.4 57.8h0M129.4 46.9h0M83.6 49.4h0M82.7 46.2h0M123.4 33.7h0M122 34.9h0M82.5 42.7h0M105.5 63.1h0M105.8 63.6h0M98.3 23.2h0M100 39.7h0M119.7 52.3h0M87 37.9h0M94 60h0M102.1 40h0M103 39.8h0M87.7 46.8h0M99.4 63.9h0M119.2 46.9h0M130.5 48.2h0M129.8 49.7h0M110.1 38.3h0M101.9 19.7h0M97.6 64.9h0M98.1 65h0M97.3 65h0M116.6 57.8h0M115.4 46.7h0M93.9 25.1h0M127.8 41.7h0M105.5 52.4h0M125.3 51.1h0M95.6 23.4h0M96.7 24.3h0M93.3 56.5h0M104.6 50.2h0M105.8 50.8h0M122.9 60.6h0M122.6 59.2h0M121.1 58.9h0M91.9 29.7h0M93.1 30.3h0M92.7 29.6h0M86.4 40.6h0M86.7 40.7h0M125.2 60.7h0M128.6 37.3h0M128.9 37h0M87.3 50.6h0M86.5 52.4h0M86.6 52.1h0M90.3 36.4h0M90.5 35.5h0M90.5 35.3h0M110 43.8h0M130.6 42.8h0M86.9 45.9h0M120.1 19.9h0M121 20.4h0M121.3 52.4h0M105.1 37.8h0M105.5 37.5h0M106.6 37h0M126.7 33.9h0M127.1 34.2h0M106.9 41h0M83.5 52.9h0M91.7 59.3h0M96.8 62.7h0M85.2 46.2h0M117.1 24.1h0M110.9 39.4h0M123.3 61.8h0M131.7 44.2h0M131.1 45h0M131.2 45.3h0M111.1 19.8h0M90.6 27.3h0M92.3 45.4h0M113.5 58.4h0M122.6 49.8h0M120.7 27.7h0M91.7 53.7h0M91.9 54.3h0M129.7 46.5h0M129.1 45.7h0M128.6 46.3h0M129.8 47.3h0M130.3 36.3h0M112.2 39.6h0M103 44.7h0M103.3 45.6h0M104.3 45.1h0M96.9 64.9h0M107.7 26.8h0M119.1 21.8h0M119.4 21.7h0M119.8 23h0M121 57.2h0M107.7 22.1h0M118.5 27.1h0M130 34.4h0M112.3 23.8h0M113.5 23.2h0M115.9 40.5h0M116.2 40.8h0M116.2 65h0M101.3 21.5h0M112.1 30.8h0M111.7 29.5h0M120.2 45.6h0M121.6 44.5h0M122.6 45.1h0M92.5 62.2h0M90.3 62.1h0M96.6 30.8h0M127.1 42h0M97.6 58.5h0M97.9 58.1h0M118.7 31.5h0M91.3 59h0M96.1 64.2h0M95.7 63.9h0M96 63.3h0M94.9 65h0M101.1 21.6h0M101.4 20.1h0M101.7 19.4h0M93.9 52.8h0M93.6 51.8h0M129.1 52.8h0M129.9 52.7h0M99.6 56.8h0M100.6 57.2h0M129.7 38.4h0M94 22.2h0M87.9 28h0M87.5 28.3h0M115.2 62.1h0M89.3 27.5h0M103.8 62.5h0M104.5 63.4h0M104.5 62.9h0M118.6 65h0M99.9 65.4h0M100.4 66.2h0M110.6 21.5h0M111.3 21.9h0M131 37.9h0M132.7 37.8h0M132.5 38.8h0M119.8 57.7h0M120.5 56.3h0M118.3 65.1h0M118.6 65.1h0M110.7 31.3h0M117.7 54.5h0M117.3 55.2h0M110.5 46.1h0M111.5 39.9h0M85.7 46.4h0M115.3 39.4h0M116.4 41.1h0M89 26.6h0M117.6 65.9h0M103.1 63.5h0M102.8 62.4h0M103 65.2h0M127 45.8h0M96.9 22.3h0M95.8 23.1h0M94.6 22.2h0M121.9 25.6h0M118.9 25.8h0M95.7 40.4h0M110.2 23.2h0M105 60.6h0M105.7 61.7h0M123.3 47.6h0M110.7 44.9h0M109.4 45.1h0M107.2 33.2h0M108.9 32.2h0M122.8 26.7h0M121.4 25.5h0M113.5 28.4h0M95.9 62.9h0M96.2 64.1h0M122 45.2h0M123.3 44.5h0M101.5 31.6h0M84.5 41.5h0M86.2 40.6h0M85.2 41.2h0M88.2 41.7h0M121.7 37h0M95.4 24h0M95.1 23.7h0M95.2 61.7h0M95.8 62.7h0M102 61.8h0M100.3 41h0M104.8 50.5h0M104.2 50.7h0M103.6 51.3h0M103.6 50.5h0M115.3 37.2h0M96.5 48.8h0M116 43.3h0M114.8 43h0M114.7 43.4h0M115 44.3h0M92.4 53.8h0M109.1 29.3h0M117.6 55.6h0M87.4 58.1h0M89.1 57.4h0M119.5 26.7h0M119.9 26.1h0M118.6 23.2h0M109.1 61.2h0M106.1 66.7h0M103 28.8h0M107.1 25.1h0M108.4 23.1h0M111.3 21.6h0M90.9 53.7h0M93.6 60.5h0M130.4 52.4h0M114.2 35.4h0M106.9 65.5h0M98.6 24.9h0M95.8 60.9h0M114 65.9h0M114.6 64.9h0M108 23.7h0M103.5 53.7h0M102.7 52.9h0M112.2 36.7h0M125.5 57.1h0M126.4 57.4h0M118.7 32.7h0M117 32.5h0M90.4 28.7h0M90 49.1h0M125.1 27.5h0M129.2 36h0M128 35.4h0M130.4 34.6h0M117.2 27.9h0M129.3 33.7h0M99.3 57.8h0M119.8 62.5h0M120.7 27.9h0M90.5 51.7h0M90.2 52.5h0M120.8 62.7h0M97.3 45.6h0M121.7 60.2h0M86.3 39.8h0M87.4 33.1h0M125.8 40.4h0M125.7 39.5h0M122.4 33.1h0M122.8 31.7h0M114.2 37.4h0M91.6 49.8h0M90.7 48.8h0M126.5 54.6h0M120.5 61.3h0M118.8 62.2h0M117.9 63.7h0M92.5 27.5h0M131.5 47.3h0M120 63.3h0M91.8 28.1h0M85.6 44h0M85.5 44.2h0M96.3 27.6h0M121.7 27.1h0M121.8 26.7h0M119 25.7h0M108.8 36.3h0M92.2 62.1h0M106.7 68.3h0M120.4 38.5h0M124.3 58.2h0M123.6 25.1h0M124 25.6h0M123.7 24.5h0M98 37.9h0M100.6 25.5h0M100.8 25.5h0M102.2 26.2h0M127.9 33.7h0M127.8 34.4h0M95.1 22.3h0M107.3 18.3h0M116.4 22.5h0M117.9 23.9h0M117.5 23.7h0M117.2 22.8h0M84.7 53.5h0M92.2 57.5h0M130.6 41.5h0M120.3 34.9h0M118 37.5h0M117.4 38.7h0M121.7 56.6h0M100.1 62.1h0M99.1 61.5h0M104.5 43.4h0M105.5 42.1h0M104.2 41h0M104 40.7h0M126.8 50.6h0M117.1 23.2h0M117.4 24.1h0M106.2 59.6h0M108.1 60.6h0M113.3 67.8h0M105.3 50.7h0M120.9 25.1h0M97 23.2h0M127.9 36.7h0M123.9 27.2h0M118.6 51.9h0M121.8 60.4h0M124.2 60h0M115.1 53.1h0M115.5 53.2h0M116.7 51.8h0M109.8 20.1h0M105.9 18.7h0M106.8 18.9h0M113.1 50.8h0M114.5 50.9h0M113.6 50.7h0M96 31.6h0M110.7 31.1h0M111.1 31h0M97.2 26.7h0M97 27.7h0M100 60.4h0M118.4 61.3h0M130.6 36h0M131.3 35.6h0M91.6 29.9h0M117.2 57.1h0M117.3 58.6h0M103 56.6h0M85.3 43.9h0M104.1 66.6h0M104.5 68h0M83.2 37.5h0M82.8 36.9h0M82.3 35.9h0M90.5 25.3h0M108 19.5h0M117 52.8h0M113.6 40.6h0M106 26.2h0M96.5 33.7h0M96.4 33.8h0M122.1 33.9h0M97.8 49.6h0M119.2 64.7h0M126.3 53h0M116.2 58.3h0M115.9 58.3h0M116.6 64.2h0M116.2 66h0M116.3 38.5h0M99.7 23.7h0M118 21.9h0M85.3 38.9h0M87 52.5h0M86.7 53h0M82.8 41.6h0M93.7 58.1h0M112.8 46h0M102.9 57.8h0M129.6 37.6h0M129.7 38.1h0M103.9 25.9h0M84.2 34.7h0M103.9 61.4h0M87.8 45.5h0M85.5 49h0M91.8 22h0M103.5 31.1h0M88.3 37.2h0M129.2 36.2h0M129.2 35.8h0M127.8 36.1h0M121.6 58.8h0M122.8 58.4h0M86.8 34.3h0M86.5 34.3h0M112.5 22h0M110.7 22.5h0M86.7 29.5h0M89.7 38.4h0M89.9 39.1h0M112.4 25.3h0M112.3 27.2h0M84.7 38.2h0M83.6 40h0M82 38.6h0M83.3 37.7h0M97.8 18.2h0M124.1 41.3h0M124.5 40.5h0M85.9 32.4h0M86.6 31.9h0M86.1 32.1h0M93.5 62.3h0M92.9 61.8h0M92.4 60.8h0M95.4 28.4h0M91.5 45.8h0M109.1 66.2h0M87.1 34.2h0M127.7 30.5h0M101.9 54.3h0M112.4 28.7h0M112.2 28h0M125.5 58.3h0M126 57h0M128.1 31.9h0M128.5 30h0M127.3 30.4h0M120.8 29.3h0M84.6 40.9h0M85.7 41h0M116 42.6h0M106.1 41.3h0M95 24h0M104.2 63.7h0M104.3 63.1h0M93.2 40.9h0M92.4 40h0M102.2 23.9h0M103.3 23.9h0M116.6 40.5h0M116.4 40.6h0M118.7 58.4h0M120.2 58.4h0M112.1 25.6h0M113.3 25.8h0M113.7 54.2h0M115.4 43.5h0M130 42.7h0M130.6 41.5h0M87.9 39.7h0M85.6 40.4h0M84.9 41.7h0M91.9 36.9h0M89.8 36.9h0M85.5 54.1h0M85.1 54.5h0M105.3 65.5h0M98.5 25.2h0M98.6 25h0M105.2 20.7h0M97 65.7h0M97.2 66.4h0M97.3 66.4h0M97.6 65.7h0M96.3 39.6h0M106.2 61.4h0M120 23h0M126.1 41h0M115.4 52h0M99.2 64.1h0M99.5 67.1h0M126.1 31.4h0M125.3 31.4h0M113.4 64.9h0M113.1 66.2h0M88.8 51.2h0M111.2 23.9h0M111.3 24.5h0M103.3 61.2h0M103.2 59.6h0M89.4 55.4h0M117.5 45.7h0M126.6 57.3h0M123.2 57.6h0M89.8 34h0M84.6 50.3h0M117.4 33.9h0M93 31.6h0M98.9 66h0M88.9 56.1h0M89 57.1h0M87.8 34.6h0M124.3 50.6h0M88.7 49.2h0M126.1 46.1h0M125.6 45.9h0M86.8 49.1h0" stroke-width="0.5" stroke-opacity="0.7"/>
<path d="M99.9 21.6h0M126.2 55h0M109.8 48.3h0M109.4 47.1h0M109.7 46.9h0M130.3 47.6h0M103 67.6h0M83.3 47.6h0M92.4 25.7h0M105.2 62.4h0M97.9 22.8h0M101.6 40.7h0M86.4 37.4h0M99.2 63.1h0M114.6 58.1h0M115 37.8h0M96.1 22.2h0M95.2 23.4h0M119.2 46.5h0M130.5 49.1h0M109.9 38.8h0M118.2 59.6h0M124.3 57.1h0M93.7 25.4h0M95 51.5h0M97.3 25.3h0M92.7 43.1h0M104.6 47.9h0M112.9 67.2h0M124.7 60.2h0M90.8 35.2h0M102.9 65.2h0M102.1 63.6h0M101.6 64.2h0M131.2 39.6h0M131 38.2h0M109.3 46.1h0M109.9 44.7h0M94.2 59.3h0M94 37.5h0M94.2 38.8h0M94.2 39.9h0M129.8 40.6h0M125.8 55.8h0M124.2 56.1h0M121 23h0M120.5 20.4h0M104.9 36.4h0M117.8 57.5h0M126 32.3h0M84.9 52h0M112 27.4h0M96.6 47.6h0M111.4 22.2h0M122.7 49.7h0M124.2 55.3h0M91.2 54.7h0M102.5 35.8h0M102.8 36.3h0M120.9 29.5h0M121.7 29.1h0M120.1 23.1h0M109.9 65.9h0M108 22.1h0M118 28.3h0M130.5 41.3h0M114.7 24.3h0M117.9 39.9h0M114.4 64.9h0M100 20.5h0M112.9 30.7h0M120.4 44.7h0M105.8 25.6h0M91.2 61.5h0M89.5 62.5h0M89.3 55.2h0M87 55h0M86.7 54.1h0M88 53.4h0M127.4 29.4h0M85.8 35h0M102.8 19.9h0M102.9 21.6h0M100.7 19.5h0M126.5 28.1h0M131.5 40.1h0M99.9 57h0M100.8 58.8h0M129.3 39.2h0M129.1 38.7h0M83.7 43.9h0M115.5 62.4h0M90.6 26.9h0M102.9 61.1h0M84.9 36.2h0M100 65h0M99.8 65.8h0M111.2 21.9h0M121 56.9h0M115.3 66.5h0M110.5 29.6h0M89.9 26.9h0M89.8 25.7h0M91.1 25h0M116.2 64h0M98.8 53.2h0M99.9 51.4h0M113.9 40.8h0M89.6 51.9h0M116.3 39.6h0M116.3 40.5h0M102.5 27.3h0M113.9 31.7h0M103.6 64.5h0M117.8 41.5h0M102 25.5h0M116.7 58.1h0M94.9 22.6h0M116.4 63.1h0M95.2 40.3h0M96.3 39.5h0M109.9 22h0M105.5 60.2h0M106.4 60h0M122.6 46.6h0M110 45.6h0M111.2 45.2h0M98.6 43.1h0M95.3 63.1h0M101.7 58.6h0M118.5 60.9h0M113.9 56h0M102.2 31.7h0M102.7 30.6h0M122 53.1h0M87 40.6h0M86.4 41.3h0M95.5 23.7h0M95.4 60.9h0M97.2 62.7h0M106.3 61.9h0M92.8 55.3h0M93.1 56.6h0M118 54.8h0M119 55.9h0M101.4 48.9h0M102.2 29h0M110 22.8h0M93 61.2h0M129 52.6h0M98.6 29.5h0M97.8 55h0M97.1 55.1h0M97.4 55.1h0M104.5 54.2h0M118.5 33.8h0M117.3 33.1h0M111.7 59.4h0M127.8 35.1h0M116 27.9h0M119.4 49.7h0M131.1 46.7h0M117.7 62.4h0M91.2 52.6h0M86.5 34.3h0M86.1 35.2h0M108.6 49h0M125 30.7h0M124.8 30.8h0M91.5 49h0M124.7 54.8h0M126.6 56h0M118.4 63.8h0M111.6 28.2h0M95.4 28.4h0M110.8 20.5h0M103.8 67.3h0M121.7 37.6h0M121 37.4h0M125 58h0M124.2 24.3h0M101.4 27.7h0M105.5 18.8h0M128.1 34.7h0M105.7 18.9h0M131.5 41.4h0M109.7 65.1h0M93.8 39.6h0M98.7 60.2h0M106.5 68.3h0M113.4 36.2h0M113.7 35.7h0M114.8 66.3h0M116.4 63.4h0M128.4 52.5h0M127.8 39.3h0M119.1 49.6h0M120.3 49.5h0M123.3 31.6h0M119.5 53.1h0M118.6 63.2h0M84.8 35.4h0M127.8 35.2h0M123.7 60h0M110.5 21.4h0M110.8 19.9h0M106.6 19.1h0M113.2 51.1h0M96.4 31.4h0M96.3 31.1h0M111 31.2h0M117.7 60.9h0M117.1 60.7h0M101.5 49.3h0M114.4 63.5h0M113.1 53.5h0M92.2 30.4h0M116.4 57.5h0M109.6 67.6h0M103.3 57.3h0M109.3 48.5h0M128.4 35.1h0M127.2 35h0M103.5 68.7h0M97.1 38.9h0M116.1 52.1h0M97.9 49.7h0M98.3 49.8h0M117.7 63.7h0M117.1 63.3h0M125.4 53.1h0M117 65.3h0M118.9 61.2h0M116.1 38.8h0M82.9 39.2h0M84.3 39.8h0M84.6 38.1h0M119.3 61.1h0M85.4 43.4h0M86.7 53.4h0M84.5 41.9h0M93.6 56h0M129 38.4h0M130 38.2h0M128.7 38.6h0M103.5 26.8h0M104.6 27h0M92.8 23.3h0M92.8 22.3h0M99.3 65.7h0M100.4 65.5h0M123.1 58.5h0M86.9 36h0M101.3 41h0M113.9 27.8h0M112.4 27.2h0M115.9 24.5h0M98.2 20.7h0M124.3 40.6h0M83.3 49.4h0M82.5 50.4h0M110 66.5h0M85.8 33.6h0M87.6 34.3h0M128 30.6h0M111.6 28.6h0M121.9 35.8h0M128 32.9h0M128.9 30.4h0M122.5 30.3h0M121.7 29.8h0M121.2 30h0M85.3 36.7h0M83.9 34.9h0M103.2 64.5h0M103.1 63.8h0M103.1 23.8h0M119.9 61h0M121 62.9h0M120.3 63.5h0M120.6 58.7h0M90.6 39.9h0M130.1 41.4h0M91.3 34.7h0M91.3 35.2h0M84 54.4h0M85.9 56h0M104.8 59.9h0M88.1 44.9h0M119.3 65.5h0M116.4 52.4h0M117.1 52.7h0M99.4 66.1h0M125.7 31h0M113.2 65.1h0M112 22.8h0M111.3 23.1h0M102.4 60.6h0M104.1 60.7h0M89.9 56.8h0M89.4 55.9h0M90 55.3h0M117.4 46.6h0M126.8 56.9h0M90.7 34.3h0M93.1 52.3h0M85.6 50.4h0M84.1 50.9h0M93.4 65.5h0M119.9 34.7h0M96.7 24.7h0M103.6 34.3h0M96.1 65.3h0M125.1 52.1h0M124.3 52.1h0M125.9 49.3h0M125.8 45.1h0M89.1 47.7h0M90.6 49.4h0" stroke-width="0.9" stroke-opacity="0.7"/>
<path d="M115.7 61.5h0M99.2 39.3h0M131.6 45.9h0M130.4 46.9h0M102.7 39.1h0M87.7 48.3h0M120.8 46.1h0M110.2 38.3h0M111 38.4h0M98.2 64.9h0M124 29.8h0M124.2 58.1h0M122.2 55.4h0M116 21.5h0M93.8 42.6h0M105.2 48.8h0M125.5 59.9h0M87.6 51.3h0M129.4 40.2h0M95.6 39.9h0M120.8 52.1h0M118.2 58.3h0M128.1 34.3h0M84.8 52.3h0M98.8 66.5h0M97.9 47.1h0M96.8 47.9h0M97.2 48.4h0M111.3 21.8h0M125.8 56.9h0M131.1 40.9h0M130 36.5h0M128.5 35.6h0M127.1 36.3h0M104.6 51.5h0M114.3 23.8h0M116.3 38.7h0M102.7 65.1h0M84.8 34.7h0M102.2 43.8h0M102.7 43.2h0M99.1 58.1h0M92.1 58.4h0M92.9 58h0M101.9 19.9h0M93.2 52.5h0M93.6 52.6h0M120.5 24.7h0M111.9 23.7h0M82 43.9h0M80.4 43.7h0M94.3 22.3h0M89.3 27h0M89.7 25.1h0M118.5 54.8h0M116.8 63.7h0M97.6 52.6h0M121.3 29.7h0M115.1 66.6h0M115.5 66.6h0M102 62.6h0M127.5 45.1h0M117.6 28.3h0M122 27h0M120.8 26.9h0M96.3 40.1h0M109.7 24.7h0M89.8 43.9h0M100.7 58.1h0M123.6 46.2h0M117.6 61.2h0M92.3 55.1h0M103.2 27.8h0M92 60.6h0M91.8 61.3h0M104.3 53.8h0M88.4 58.3h0M86 32.8h0M118 26h0M99.5 59h0M117.9 61.5h0M117.8 63h0M123 27.8h0M120.3 28.6h0M121.4 62.6h0M122.3 61.9h0M121.7 57.7h0M121.3 57.8h0M86.2 34.5h0M98.7 66.4h0M122 30.2h0M124.3 54.1h0M120.9 62.3h0M131.3 45h0M90.8 27.4h0M112 28.3h0M95.9 27.6h0M120.4 26.9h0M127.1 40h0M92 63h0M104.5 67.3h0M105.8 17.1h0M110.9 64.3h0M110.9 64.9h0M117.3 22.8h0M106.8 59.7h0M117.8 40.8h0M97.1 25h0M128.7 39.9h0M117 49.9h0M110.8 20.7h0M96.8 31.3h0M93.5 31.8h0M102.5 57h0M102.9 57.7h0M127.9 35.8h0M103.5 68.7h0M117.7 52.9h0M113.9 41.7h0M112.6 41.5h0M97 50.3h0M85.2 43.9h0M86.3 52.5h0M85.6 42.3h0M127.4 37.3h0M104 28h0M84.3 35.6h0M84.4 36.4h0M104.5 58.4h0M99.8 66.3h0M114.5 24.4h0M87.8 34.9h0M115.7 39h0M114 22.6h0M101 39.7h0M127.9 53.1h0M98.1 20.3h0M86 32h0M113.9 55h0M112.2 55.2h0M112 55.4h0M101.1 54.4h0M111.5 28.2h0M125.3 57.1h0M123.9 29.1h0M89 27.2h0M86.9 40.7h0M115.8 39h0M104.1 66h0M105.5 21.1h0M103.4 67.1h0M85.5 47.2h0M118.7 64.5h0M117.4 46.4h0M124.8 57.3h0M92.2 52.3h0M92 51.8h0M94.3 64.3h0M112.2 67.4h0M113.3 67.9h0M113.2 68.4h0M103.6 34.7h0M87.5 32.5h0M88.7 33.8h0M86.9 48.9h0" stroke-width="1.4" stroke-opacity="0.9"/>
<path d="M112.7 19.9h0M105.3 62.2h0M110 53.2h0M117.8 58.7h0M122.9 56.1h0M121.7 61.4h0M124.8 27.5h0M128.7 42.4h0M119.1 57.7h0M83.9 53h0M110.8 20.9h0M125.4 57.1h0M91.8 54.6h0M130.4 35.5h0M117.6 32.9h0M103.6 63.9h0M92.5 60h0M109.8 28.6h0M97.4 22.6h0M100.2 57.6h0M127.3 51.7h0M88.6 45h0M101.8 30.8h0M108.7 56.1h0M87.8 40.2h0M102 62.2h0M103.1 28.8h0M98.7 24.3h0M128.7 34.5h0M85.2 39.5h0M121.9 32.5h0M88 58.9h0M127.5 29.6h0M86.2 44.2h0M93.1 57.4h0M102 48.5h0M105 67.6h0M118.5 63.7h0M107 18.5h0M92.6 30.5h0M109.6 49h0M85.7 34h0M116.2 60h0M116.4 65.2h0M98 64.4h0M112.2 21.8h0M84.7 42.4h0M114.9 28.2h0M114.3 55h0M86.3 41h0M101.5 55h0M85.3 35h0M120.3 63h0M98.5 24.2h0M105.8 62.5h0M115.9 52.1h0M99.3 67.6h0M126.7 30.9h0M84.1 49.9h0M103.3 35.7h0" stroke-width="2.1" stroke-opacity="1"/>
</g></g>
<circle cx="107.1" cy="43.3" r="24.8" stroke="#8572ae" stroke-width="0.7"/>
<radialGradient id="pg13"><stop offset="0.75" stop-color="#f5f5f8"/><stop offset="1" stop-color="#dcdce0"/></radialGradient>
<clipPath id="pc13"><circle cx="160.9" cy="42.6" r="24.9"/></clipPath>
<circle cx="160.9" cy="42.6" r="24.9" fill="url(#pg13)" stroke="none"/>
<g clip-path="url(#pc13)" stroke-linecap="round">
<g filter="url(#b6)" stroke="#b9a6de" opacity="0.25">
<path d="M174.3 24h0M164.1 62.7h0M180.3 41h0M179.8 41.4h0M180.8 40.2h0M181.1 40.9h0M162.9 64.7h0M145.3 55.5h0M143.5 55.2h0M159 22.4h0M148.8 57.4h0M149 56.3h0M153.9 22.1h0M154.9 21.5h0M137 39.3h0M134.6 39.3h0M152.6 27.6h0M150.1 35.9h0M184.3 48.3h0M180.2 43.1h0M175.4 62.1h0M152.3 65.2h0M151.7 65.9h0M148.6 60.6h0M148.8 61h0M168.3 63.1h0M156.6 38.9h0M156 39.6h0M155.8 39.8h0M159.3 33.4h0M153.9 60.9h0M154.3 61.5h0M153.6 61.4h0M177 37.6h0M142.1 54.6h0M162.6 25.7h0M185.3 43.4h0M181.3 46.1h0M182.1 46h0M181.6 45.6h0M155.7 42.9h0M151.5 44.6h0M163.7 25h0M164.1 25.4h0M163.1 26.1h0M145 57.6h0M155.8 21h0M160.9 48.7h0M138.5 38.2h0M138.9 38.1h0M139.1 38.4h0M139.2 38.9h0M168.9 46.1h0M177.4 54.6h0M177.7 55.7h0M180.5 57.1h0M180.6 57.1h0M180.6 57.6h0M158.7 45.2h0M159 45.7h0M161.1 46.5h0M161.7 47.1h0M167.2 23.2h0M174.7 50.2h0M181.5 49.2h0M143.4 36.3h0M175.1 32.2h0M177 48.9h0M176.2 36.1h0M177.3 37.3h0M160.4 46.2h0M159.7 45.9h0M161.1 61.9h0M149.6 62.7h0M150.1 63h0M148.7 64.3h0M153.3 35.7h0M138.4 33.8h0M137.2 33.9h0M176.3 49.9h0M137.9 44h0M135.7 44h0M179.2 36.7h0M144.5 32.2h0M183.7 43.8h0M152.4 32.1h0M152.3 31.3h0M169.7 40.4h0M170.2 49h0M169.2 49.4h0M172 36.6h0M170.9 37.3h0M170.2 37h0M170.1 35.9h0M176.4 30.4h0M147.3 22.5h0M157.6 35.7h0M158.1 35.6h0M142.9 39h0M144.6 52.3h0M143.7 54h0M171 22.8h0M157.5 54.8h0M157.9 54.1h0M185.6 43.4h0M171.6 34.3h0M171.9 34.3h0M171.6 35.5h0M166.9 60.3h0M174.1 25.9h0M158.2 40.6h0M154.6 46.3h0M182.8 45h0M143 48.9h0M143.1 48.9h0M169.9 63.1h0M179 45.7h0M146.4 25.9h0M143.7 60.2h0" stroke-width="1.8"/>
<path d="M164.1 62.5h0M181.2 41.7h0M178.3 42.3h0M167.5 19.3h0M141 34.1h0M139.4 33.6h0M138.7 33.2h0M158.6 21.1h0M159.1 22.8h0M157.6 23.5h0M153.3 21.5h0M159.2 18.9h0M151.9 65.9h0M169.7 42.9h0M159.2 34.6h0M158.1 33h0M157.9 24h0M181.5 46.3h0M158.6 43.4h0M155.8 42.9h0M181.3 56h0M182 57.3h0M163.7 66.8h0M163.5 66.3h0M170.1 45.9h0M168.6 45.9h0M168.2 45.6h0M160.3 29.4h0M180.1 48.4h0M177.3 53.8h0M176.9 53.8h0M183.3 48.9h0M170.7 28.9h0M178.5 49.2h0M177.1 47.6h0M177.6 46.1h0M175.7 36.1h0M177 36.3h0M161 45.6h0M160 62.8h0M150.3 62.3h0M177.8 56h0M178.5 56.1h0M138.2 33.6h0M138.2 33.8h0M139.5 44.5h0M134.9 44.1h0M144.8 33.4h0M145.3 32.4h0M152.2 31.9h0M153.7 31.3h0M150.7 23.3h0M157.2 34.6h0M144.4 38.1h0M179.3 56.6h0M178.1 55.5h0M175.1 49.5h0M171.1 22.8h0M175.6 62h0M168.3 40.1h0M168.9 40.5h0M184.3 44.3h0M156.4 42.9h0M156.4 42.6h0M161.3 18.2h0M154.8 45.7h0M154.9 45.6h0" stroke-width="2.2"/>
<path d="M149.5 57.1h0M181 42.8h0M163.9 34.1h0M162.5 24.7h0M179.1 34.2h0M181.3 37.2h0M160 47.6h0M145.9 56.4h0M175.9 49.7h0M156.8 60.1h0M170.6 23.3h0M185.3 41.9h0M184.7 42.9h0M157.3 41.6h0M183 44.3h0M142.9 59.1h0" stroke-width="2.6"/>
</g><g filter="url(#b)" stroke="#6a4ab6" opacity="0.6">
<path d="M174.3 24h0M164.1 62.7h0M180.3 41h0M179.8 41.4h0M180.8 40.2h0M181.1 40.9h0M162.9 64.7h0M145.3 55.5h0M143.5 55.2h0M159 22.4h0M148.8 57.4h0M149 56.3h0M153.9 22.1h0M154.9 21.5h0M137 39.3h0M134.6 39.3h0M152.6 27.6h0M150.1 35.9h0M184.3 48.3h0M180.2 43.1h0M175.4 62.1h0M152.3 65.2h0M151.7 65.9h0M148.6 60.6h0M148.8 61h0M168.3 63.1h0M156.6 38.9h0M156 39.6h0M155.8 39.8h0M159.3 33.4h0M153.9 60.9h0M154.3 61.5h0M153.6 61.4h0M177 37.6h0M142.1 54.6h0M162.6 25.7h0M185.3 43.4h0M181.3 46.1h0M182.1 46h0M181.6 45.6h0M155.7 42.9h0M151.5 44.6h0M163.7 25h0M164.1 25.4h0M163.1 26.1h0M145 57.6h0M155.8 21h0M160.9 48.7h0M138.5 38.2h0M138.9 38.1h0M139.1 38.4h0M139.2 38.9h0M168.9 46.1h0M177.4 54.6h0M177.7 55.7h0M180.5 57.1h0M180.6 57.1h0M180.6 57.6h0M158.7 45.2h0M159 45.7h0M161.1 46.5h0M161.7 47.1h0M167.2 23.2h0M174.7 50.2h0M181.5 49.2h0M143.4 36.3h0M175.1 32.2h0M177 48.9h0M176.2 36.1h0M177.3 37.3h0M160.4 46.2h0M159.7 45.9h0M161.1 61.9h0M149.6 62.7h0M150.1 63h0M148.7 64.3h0M153.3 35.7h0M138.4 33.8h0M137.2 33.9h0M176.3 49.9h0M137.9 44h0M135.7 44h0M179.2 36.7h0M144.5 32.2h0M183.7 43.8h0M152.4 32.1h0M152.3 31.3h0M169.7 40.4h0M170.2 49h0M169.2 49.4h0M172 36.6h0M170.9 37.3h0M170.2 37h0M170.1 35.9h0M176.4 30.4h0M147.3 22.5h0M157.6 35.7h0M158.1 35.6h0M142.9 39h0M144.6 52.3h0M143.7 54h0M171 22.8h0M157.5 54.8h0M157.9 54.1h0M185.6 43.4h0M171.6 34.3h0M171.9 34.3h0M171.6 35.5h0M166.9 60.3h0M174.1 25.9h0M158.2 40.6h0M154.6 46.3h0M182.8 45h0M143 48.9h0M143.1 48.9h0M169.9 63.1h0M179 45.7h0M146.4 25.9h0M143.7 60.2h0" stroke-width="0.5" stroke-opacity="0.7"/>
<path d="M164.1 62.5h0M181.2 41.7h0M178.3 42.3h0M167.5 19.3h0M141 34.1h0M139.4 33.6h0M138.7 33.2h0M158.6 21.1h0M159.1 22.8h0M157.6 23.5h0M153.3 21.5h0M159.2 18.9h0M151.9 65.9h0M169.7 42.9h0M159.2 34.6h0M158.1 33h0M157.9 24h0M181.5 46.3h0M158.6 43.4h0M155.8 42.9h0M181.3 56h0M182 57.3h0M163.7 66.8h0M163.5 66.3h0M170.1 45.9h0M168.6 45.9h0M168.2 45.6h0M160.3 29.4h0M180.1 48.4h0M177.3 53.8h0M176.9 53.8h0M183.3 48.9h0M170.7 28.9h0M178.5 49.2h0M177.1 47.6h0M177.6 46.1h0M175.7 36.1h0M177 36.3h0M161 45.6h0M160 62.8h0M150.3 62.3h0M177.8 56h0M178.5 56.1h0M138.2 33.6h0M138.2 33.8h0M139.5 44.5h0M134.9 44.1h0M144.8 33.4h0M145.3 32.4h0M152.2 31.9h0M153.7 31.3h0M150.7 23.3h0M157.2 34.6h0M144.4 38.1h0M179.3 56.6h0M178.1 55.5h0M175.1 49.5h0M171.1 22.8h0M175.6 62h0M168.3 40.1h0M168.9 40.5h0M184.3 44.3h0M156.4 42.9h0M156.4 42.6h0M161.3 18.2h0M154.8 45.7h0M154.9 45.6h0" stroke-width="0.9" stroke-opacity="0.9"/>
<path d="M149.5 57.1h0M181 42.8h0M163.9 34.1h0M162.5 24.7h0M179.1 34.2h0M181.3 37.2h0M160 47.6h0M145.9 56.4h0M175.9 49.7h0M156.8 60.1h0M170.6 23.3h0M185.3 41.9h0M184.7 42.9h0M157.3 41.6h0M183 44.3h0M142.9 59.1h0" stroke-width="1.3" stroke-opacity="1"/>
</g></g>
<circle cx="160.9" cy="42.6" r="24.6" stroke="#a8a8b0" stroke-width="0.7"/>
<circle cx="160.9" cy="42.6" r="22.9" stroke="#e2e2e6" stroke-width="1.4"/>
<path d="M182.5 30.8A24.6 24.6 0 0 1 150.7 65" stroke="#77777f" stroke-width="1"/>
<text transform="translate(1.2 82.8)scale(1 1.02)" font-weight="bold" font-size="14.2">B</text>
<text transform="translate(52.2 84.8)scale(1 1.04)" text-anchor="middle">Control</text>
<text transform="translate(105.8 84.8)scale(1 1.04)" text-anchor="middle">NaLac</text>
<text transform="translate(159.5 84.8)scale(1 1.04)" text-anchor="middle">NaOxa</text>
<text transform="translate(21.6 113.5)rotate(-90)scale(1 1.04)" text-anchor="middle">786-O</text>
<clipPath id="mc21"><rect x="28.5" y="88.5" width="51" height="51"/></clipPath>
<rect x="28.5" y="88.5" width="51" height="51" fill="#efeef3" stroke="none"/>
<g clip-path="url(#mc21)" stroke-linecap="round" filter="url(#b6)">
<path d="M55 115.9l-0.8 -3.3M57.4 93.5l1.9 -2.8M66.5 135.6l-0.6 -4.9M75.3 113.9l1 -4.6M36 92.3l4.1 -3.8M30 95.5l-0.2 -4.5M60.1 135.2l-3 -3.3M70.4 96.3l5.5 0.9M29.6 102.6l3.1 -1.9M29.9 104l4.3 3.4M79.5 117l-4.2 -3.4M33.9 117.6l2.1 -3.2M38 100l-2.1 -4.2M70.3 128.8l5.4 -1.5M60.4 91.8l-0.4 -4.6M40.5 93.1l-1 -4.1M70.4 127.4l-0.5 -4M76.4 94.7l2.5 -3.7M64.8 103.7l-3 -5.4M69.6 139.3l1.9 -3.2M35.3 118l1.2 -2.6M63.9 111.1l4.9 2M45.7 136.8l4.3 -0.7M67.8 137.9l4 -3.5M44.6 114.7l-0.7 -6M68.6 132l0.6 -3.2M32.4 137.8l2.8 -3.7M64 115l3.3 0.5M34.5 133.2l4.5 -2.7M46.1 94.6l1.7 -3.8M65.5 122.9l2.6 -2.3M41.4 128.5l-2.5 -5.2M62.7 135.1l2.3 -5M61.4 107.1l4.2 -2.9M30.4 127.8l-1.6 -4.6M78.1 109.5l-1.2 -3.8M61.8 113.9l-1.8 -4.2M51.9 99.3l3.2 -4.7M33.1 116.7l2.2 -2M45.5 124.9l0.7 -5.1M42.4 96l3.7 -3.5M49.1 134.6l-3 -4M45.2 99.9l3.7 -2.5M38.1 136.4l-0.1 -2.6M64.5 130.6l-2.8 -5.3M48.4 108.5l-6.3 -1.2M34.8 109.7l0.7 -3M49.8 126.3l2.9 -3M34.4 109.5l-0.1 -6.4M46.9 125.9l-4.9 -3.2M47 98.6l-2.3 -3.1M39.2 105.4l3.6 -1.1M68.8 126.4l1.4 -2.2M58.4 118.7l5.1 3.8M45.1 120.2l3.8 -1.6M49.7 106.2l-0.4 -3.5M33.3 116.9l2.2 -2.4M42 133.4l2.6 -4.4M73.8 95.9l1.8 -5.2M55.9 140.6l1.8 -5.3M49.5 126l0.8 -5.2M47.5 109.4l-1.1 -3.7M49.4 132.4l-1.3 -4.2M63.3 101.1l-1.1 -4.4M55.5 103.1l-0.5 -3.7M46.9 120.9l5.2 1M69.9 110.4l-3.5 -5M67.1 126.3l3.3 1.6M34.4 105.3l-2.7 -5.7M79.6 106.2l-2.9 -1.7M68 107.2l3 3.3M58 121.9l2.1 -5.8M71.6 102.8l-1.3 -3.7M60.7 91.8l2.3 -4.1M65.1 96.6l0.1 -2.6M54 123.7l-1.5 -5.7M40.1 139.2l-2.7 -5.3M36.9 106.8l-3.5 -1.1M67.4 98.4l5.8 -1.1M74.7 104l-3 -3.8M29.4 111.4l2.5 3.3M43.5 91.1l-1 -3.3M71.2 126.9l-2.4 -3.2M32.7 121.1l-1.2 -2.5M71.7 114.7l4.4 -2.3" stroke="#b5a2dc" stroke-width="1.3" opacity="0.65"/>
<path d="M37.2 125.3l-0.5 -3.3M52.4 95l2.9 -1.3M74.1 129.8l0 -5.6M32.8 115.2l3.9 -4.8M47.2 113.5l-0.1 -4M68.9 98.8l-4.5 2M38.8 98.8l-2.2 -3.2M31 90.9l5.4 1.9M61.5 122.1l3.7 1.8M69.3 129.8l3.9 -1.4M44.7 117.5l-1 -3.5M60.9 137.4l5.1 -0.5M39.9 111.8l3.5 -5.3M31.9 93.7l2.9 -0.9M30.3 128.4l2.9 -1.9M28.8 108.4l3.7 -0.1M52.4 118.3l3.4 -3.5M77 106.8l1.7 -5M30 130.8l3.5 -1.5M31.4 95l1.9 -5.4M75.1 130.5l-2.4 -4.6M59.5 123.1l3.5 0.4M40 132.3l3 -1.5M42.9 99l-0.1 -3.3M30.2 120.7l0.6 -2.4M38.9 132.1l2.2 -5.4M26.8 117.3l5.2 1.8M29.2 130.8l4.7 -1.5M68.7 107.5l1.3 -3.5M30 92.8l4.2 -1.8M39.7 92.1l5.1 -1.2M54.2 121.2l2.9 -1.4M77.4 116.9l-5.6 -2.4M75.7 138l1.8 -3.5M66.5 123l1 -3M70.7 99.4l5.6 -0.8M68.9 108.7l2.2 -3.5M61.6 100.5l1.6 -2.5M72.6 116.1l3.2 -2.8M54 103.3l-1.1 -2.4M68.8 128.7l1.2 -5.3M48.8 91.1l-0.5 -4.8M48.3 132.5l-1.7 -3.7M66.1 130.8l4.6 -3.6M43.9 122.3l0.6 -3M62.1 105.5l2.3 -3.8M35.4 92.9l0.5 -3M29.7 123.7l-0.5 -4.8M38.1 93l2.9 -4.1M38.7 125.9l0.4 -3.4M37.9 120.6l2 -5.4M29.5 105.8l-1.1 -3.8M51.4 132.8l5 2.4M73.1 92.1l5.3 1M28.8 104.6l4.8 -3M44.6 123.9l2.1 -2.7M66.1 117.9l-0.1 -4.9M50.6 107.2l4.7 -3.8M59.7 104.8l1.4 -4.7M70.2 133.3l5.6 1.5M62.2 114.7l4.2 0M50.2 127.5l2.9 -0.2M77.2 108l-1.9 -3.1M70.8 100l-2.6 -5.3M37.1 128.7l0 -2.9M43.2 101.9l-3.7 -4.6M77.5 91.6l3.6 2.4M37.9 123.1l0.3 -6.4M34.3 125.4l-3 -0.9M37.4 104.9l1.3 -2.5M64.7 106.6l-2.4 -4M76.9 104.3l-2.2 -4.7M41.7 104.5l-1 -5.9M32.5 104.8l3.8 -2.7M43.6 109.4l-0.4 -3.3M74 121.9l4.1 -2.6M62.2 139l1.8 -3.4M65.9 98.8l3.9 -2.9M30.4 139l4.8 -3.4M38.2 120.4l-0.4 -4.1M46.6 96.5l-1.8 -4.3M30.9 126.3l3.8 -1.4M59.4 131.2l5.1 -2.2M40.7 130.4l3.3 -2.6M33.6 117.9l4 -3.1M54 116.5l1.3 -6M42.5 100.6l0.1 -3.2M60 104.9l-3.5 -5.4M56.8 121.2l-0.3 -5.3M40.9 120.6l2.7 0M47.9 118l0.9 -5.6M62.6 130.1l2.6 -3.5M41.2 98.5l-3.2 -3.9M54.5 114.4l2 -2.9M42.3 92.2l-0.9 -3.3M44.2 97.6l0.6 -2.5M69.2 98.8l0.2 -4.6M51.2 122.9l-1 -2.9M31.4 107.1l1.1 -3M64.7 116l-1.6 -5.5M68.3 130.2l2.9 -5.2M50.5 139.6l4.3 -2.1M66.9 109.4l3.8 -3.6M28.2 122.7l2.6 -1.3M64.5 93.7l1.4 -3" stroke="#b5a2dc" stroke-width="2.1" opacity="0.65"/>
<path d="M36.9 123.6l-0.1 -0.5M54.7 114.7l-0.1 -0.5M58.5 91.8l0.3 -0.5M66.2 133.8l-0.1 -0.8M53.3 94.6l0.5 -0.2M75.7 112l0.2 -0.7M38.3 90.2l0.7 -0.6M74.1 127.1l0 -0.9M34.3 113.3l0.6 -0.8M47.1 112l0 -0.6M29.9 93.5l0 -0.7M66.9 99.7l-0.7 0.3M38 97.6l-0.4 -0.5M33.1 91.6l0.9 0.3M63.6 123.1l0.6 0.3M59.1 134.1l-0.5 -0.5M73.3 96.8l0.9 0.1M30.6 102l0.5 -0.3M31.4 105.2l0.7 0.6M78.1 115.9l-0.7 -0.5M71.3 129l0.6 -0.2M44.4 116.5l-0.2 -0.6M63.2 137.2l0.8 -0.1M40.9 110.2l0.6 -0.8M33.2 93.3l0.5 -0.1M34.6 116.5l0.3 -0.5M37 98l-0.3 -0.7M72.6 128.1l0.9 -0.2M31.3 127.7l0.5 -0.3M30.1 108.3l0.6 0M54.1 116.5l0.5 -0.6M77.7 104.6l0.3 -0.8M31.1 130.3l0.6 -0.2M32.2 92.8l0.3 -0.9M60.2 90l-0.1 -0.7M40 91.1l-0.2 -0.7M70.2 125.6l-0.1 -0.6M77.6 92.9l0.4 -0.6M74 128.3l-0.4 -0.7M63.5 101.3l-0.5 -0.9M70.4 138l0.3 -0.5M36 116.6l0.2 -0.4M65.7 111.8l0.8 0.3M60.8 123.2l0.6 0.1M41 131.8l0.5 -0.2M47.6 136.5l0.7 -0.1M42.8 98.1l0 -0.5M69.5 136.5l0.6 -0.6M30.4 120l0.1 -0.4M44.4 112.8l-0.1 -1M68.8 130.6l0.1 -0.5M40.1 129.2l0.4 -0.9M28.5 117.9l0.8 0.3M31.1 130.2l0.7 -0.2M69.4 105.6l0.2 -0.6M31.4 92.3l0.7 -0.3M41.3 91.7l0.8 -0.2M33.7 136.1l0.4 -0.6M65.2 115.2l0.5 0.1M55.4 120.7l0.5 -0.2M36.8 131.9l0.7 -0.4M75.2 116l-0.9 -0.4M76.4 136.4l0.3 -0.6M67 121.7l0.2 -0.5M73.7 99l0.9 -0.1M46.9 93l0.3 -0.6M69.6 107.8l0.4 -0.6M62.3 99.4l0.3 -0.4M74.2 114.7l0.5 -0.4M66.5 122l0.4 -0.4M53.5 102.2l-0.2 -0.4M69.3 126.7l0.2 -0.8M48.7 89.5l-0.1 -0.8M40.6 127l-0.4 -0.8M47.5 130.8l-0.3 -0.6M63.5 133.4l0.4 -0.8M67.4 129.7l0.7 -0.6M44.1 121.3l0.1 -0.5M62.9 104.2l0.4 -0.6M62.8 106.1l0.7 -0.5M35.7 91.5l0.1 -0.5M29.7 125.8l-0.3 -0.7M77.6 107.6l-0.2 -0.6M60.9 111.8l-0.3 -0.7M29.6 122.3l-0.1 -0.8M53.1 97.5l0.5 -0.8M39 91.6l0.5 -0.7M34.2 115.8l0.4 -0.3M38.8 124.9l0.1 -0.6M38.8 118.1l0.3 -0.9M29.2 104.8l-0.2 -0.6M53 133.5l0.8 0.4M74.8 92.4l0.8 0.2M45.9 122.3l0.1 -0.8M30.3 103.7l0.8 -0.5M43.6 94.8l0.6 -0.6M47.8 132.9l-0.5 -0.6M46.6 98.9l0.6 -0.4M38 135l0 -0.4M45.5 122.8l0.3 -0.4M66.1 115.6l0 -0.8M52.1 106l0.8 -0.6M63 127.5l-0.4 -0.9M45.9 108l-1 -0.2M60.4 102.4l0.2 -0.8M72.5 134l0.9 0.2M63.7 114.7l0.7 0M35 108.8l0.1 -0.5M51.3 127.5l0.5 0M51.2 124.8l0.5 -0.5M34.4 106.6l0 -1M45.1 124.7l-0.8 -0.5M76.7 107.2l-0.3 -0.5M46.4 97.7l-0.4 -0.5M69.6 97.6l-0.4 -0.8M37.1 127.7l0 -0.5M41.4 99.6l-0.6 -0.7M41.1 104.8l0.6 -0.2M79.3 92.8l0.6 0.4M38 119.6l0 -1M33.4 125.1l-0.5 -0.1M69.3 125.8l0.2 -0.4M60.6 120.4l0.8 0.6M47 119.4l0.6 -0.3M37.8 104.2l0.2 -0.4M49.5 104.7l-0.1 -0.6M34.1 116l0.4 -0.4M43.4 131.2l0.4 -0.7M63.6 104.7l-0.4 -0.6M76 102.3l-0.3 -0.8M74.5 93.7l0.3 -0.8M41.2 101.9l-0.2 -0.9M34.1 103.7l0.6 -0.4M56.6 138.5l0.3 -0.9M49.7 124.5l0.1 -0.8M43.4 107.5l-0.1 -0.5M75.1 121.2l0.7 -0.4M47.2 108.4l-0.2 -0.6M62.8 137.8l0.3 -0.5M67.7 97.4l0.6 -0.5M31.9 137.9l0.8 -0.5M49 131.1l-0.2 -0.7M38 118.9l-0.1 -0.7M63 99.8l-0.2 -0.7M45.8 94.7l-0.3 -0.7M33 125.5l0.6 -0.2M55.3 101.7l-0.1 -0.6M62 130.1l0.8 -0.4M49 121.3l0.8 0.2M42.5 128.9l0.5 -0.4M68.6 108.5l-0.6 -0.8M68.9 127.2l0.5 0.3M33.1 102.4l-0.4 -0.9M78.1 105.3l-0.5 -0.3M35.9 116.2l0.6 -0.5M54.4 114.6l0.2 -1M69 108.3l0.5 0.5M42.6 99.7l0 -0.5M58.6 120.2l0.3 -0.9M58.3 102.4l-0.6 -0.9M71.1 101.3l-0.2 -0.6M62 89.5l0.4 -0.7M56.7 118.8l0 -0.9M41.9 120.6l0.4 0M65.2 95.2l0 -0.4M48.2 116l0.1 -0.9M63.5 128.9l0.4 -0.6M53.3 121l-0.2 -0.9M40.2 97.2l-0.5 -0.6M55.2 113.5l0.3 -0.5M41.8 90.7l-0.1 -0.5M38.7 136.4l-0.4 -0.8M35.7 106.4l-0.6 -0.2M69.9 97.9l0.9 -0.2M73.3 102.2l-0.5 -0.6M44.5 96.5l0.1 -0.4M69.3 96.8l0 -0.7M50.8 121.6l-0.2 -0.5M30.8 113.2l0.4 0.5M43 89.5l-0.2 -0.5M31.8 105.9l0.2 -0.5M63.8 112.9l-0.3 -0.9M69.9 125.2l-0.4 -0.5M69.9 127.3l0.5 -0.8M52.3 138.7l0.7 -0.3M68.6 107.7l0.6 -0.6M29.1 122.2l0.4 -0.2M65.2 92l0.2 -0.5M32.4 120.4l-0.2 -0.4M73.8 113.6l0.7 -0.4" stroke="#6a4ab4" stroke-width="1.5" opacity="0.8"/>
</g>
<path d="M73.7 99.2h0M67.7 131.1h0M78.1 117.2h0M61.1 106.4h0M67.8 104.7h0M60.1 120.2h0M78 128.1h0M34.2 98.2h0" stroke="#2a2438" stroke-width="0.75" stroke-linecap="round" opacity=".8"/>
<rect x="28.5" y="88.5" width="51" height="51" stroke="#222" stroke-width=".8"/>
<clipPath id="mc22"><rect x="81.5" y="88.5" width="51" height="51"/></clipPath>
<rect x="81.5" y="88.5" width="51" height="51" fill="#e9e6f2" stroke="none"/>
<g clip-path="url(#mc22)" stroke-linecap="round" filter="url(#b6)">
<path d="M130.7 94.1l-0.7 3.2M112.6 138.7l-1 -5.2M128.5 116.6l0.4 -4.6M101.4 123.5l4.4 -1.4M90.9 124.9l1.8 -2M100.5 99.3l-3.2 -4.2M83.2 139.4l1 -3.2M89.6 103.6l2.1 -1.9M97.8 125.6l2.6 0.7M83.5 101.1l-0.7 -4.4M117.2 113.7l1.8 -3.1M87.3 135l4.5 -2.3M111.4 93.3l1.8 -5.3M121.5 136.2l1.9 -4.3M121.8 139.1l2.7 -1.8M120 109.8l0.7 -3.1M93.2 118.1l0.6 -6.3M122.2 132l0.8 -2.8M81.4 105.3l2.6 -1.3M90.8 115.7l-0.6 -5.7M124.7 138.7l3.1 -2.5M106.2 100.7l3 -2.2M131 131.2l2.4 -1.7M98.7 104.1l2.3 -2.1M100.4 117.7l2.8 -1.5M108.8 133.1l2.2 -5.2M114.2 116.5l4.2 2.5M101.6 130.5l-4.1 -2.6M121.1 96.7l0 -3.4M115.3 102.9l-1.4 -2.1M89.5 137.9l0.2 -2.9M89.4 94.8l2.2 -4M81.6 107.2l4.1 -2.3M126.4 114.7l4.6 -0.3M128.7 113.5l-0.6 -4M124.4 111.1l1.5 -5.5M111.4 90.6l5.8 0M84.5 114.1l2.3 -3.3M93.5 135.7l4.7 -2.8M121.6 115.8l2.4 -1M125.4 132.3l-0.2 -3M92.8 109l0.7 -5.1M104.2 112.4l3.8 -4.1M90.8 99.2l2.9 -5.5M105.5 117.1l1.7 2.4M81.6 127.4l-0.1 -4.4M89.6 116l-2.3 -2.5M111 91.8l0.1 -4M122.6 93.1l2.8 0.8M125.1 106.9l0.6 -3.5M105.4 141.1l2.5 -3.4M118 119.5l-0.9 -3.9M118.5 127.6l2.7 -4.5M125.1 111.2l1.3 -4.2M91.8 100.8l0.8 -2.7M129.9 128.8l2.1 -4M93 108.7l0.1 -3.7M89.7 110.8l-3.2 -3.3M114.2 130.6l1.4 -4.1M89.2 136.8l0.5 -5M115 140.6l-2 -5M114.4 131.3l0.1 -6.4M85.1 139.4l-2.6 -1.2M130.5 99.5l0.7 -5.2M122.1 93.8l3.8 -0.1M107 104.6l-5.5 -2.6M101.4 122.7l-1.2 -2.6M98.2 115.1l2.2 -4.3M129.8 139.4l4 -0.7M125.7 134.5l4.6 -0.8M126 128.8l5.6 -3.3M113.4 113.3l5.6 -1.9M121.7 104.4l-1.3 -2.1M116.7 115.4l-1.1 -2.9M116.1 93.1l3.5 -4.4M105.6 106.2l1.4 -2.3M126 141.3l-1.6 -4.9M117.4 101.1l3 -2.7M121.3 96.8l2.7 -2.5M131.5 104.7l1.9 -6.1M121.9 140.3l-1.7 -5.3M120.7 138.7l2.8 -4.6M109.8 125.3l-2.9 -4.5M91.5 116.9l-2.1 -5.1M92.7 100.7l2.7 -4.3M116.1 120.2l2.3 -6M128.9 115.1l5.3 -2.3M102.7 106.1l0 -4M93.1 126l-0.2 -2.8M128.4 91.4l-4.2 -2.8M89.3 107.5l1.9 -4.5M101.5 127.4l4.1 -2.9M86.8 108l1.2 -2.8M98.5 90.1l-4.2 -1.2M94.2 106.6l1.8 -2.8M101.4 135.2l-2.5 -3.7M110.7 99.8l1.9 -3.2M88 113.2l1.4 5.2M112.7 122.2l2.1 -2.9M81.7 95.7l3.5 -3.7M104.6 132.3l-3.4 -2.4M81.8 135.4l2.3 -3.1M122.6 111.4l6.2 -2M99.9 138.7l2.6 -0.1M97.4 127.7l5.8 -2.6M94.4 106.6l1.1 -3.8M88.7 110.1l-0.8 -5.2M128.5 126.8l3.8 -0.1M126.6 90.7l1.4 -2.9M102 140l3.5 -4.3M100.5 136.4l-4.6 -1.3M81.8 110.7l1.2 -5M100.9 95.2l2.8 0.8M83.4 125.7l4.5 -2.5M114.4 132l3.7 0.1M131.2 141.5l1.6 -5.1M131.3 104.9l-0.7 -3.3M104.9 96.9l3.2 -0.3M110.5 136l-2.5 -3.7M117 126.2l-0.3 -5.9M88.4 91.1l5.9 -0.6M90.8 120.1l5.8 0.3M114.7 136.8l4.5 -4M112.3 98.9l0.3 -3.7M111.4 132.3l5.3 -1.5M102.5 118.2l-1.8 -1.9M113.3 116l-1.7 -2.2M99.6 118.4l1.3 -3.3M122 102.1l1.6 -4.2M82.7 133.9l-0.8 -2.4M111 139.8l2.9 -5.3M128.8 92.4l-3.6 -2M112.8 123.8l-2.4 -4.4M80.7 105.8l1.9 -2.1M131.6 136.8l-0.9 -3M115.5 122.1l1 -4.1M107.2 132.2l5.4 -1.6M90 113.5l3.7 -5.1M95.8 92.7l1.7 -4.7M95.3 128.6l3.5 -3M93.7 92.3l1.1 -2.5M105.2 99.1l2.8 -2M105.9 95.8l3.5 -2.4M125.8 122.5l-1.5 -3M123 103.7l3.7 -4.5M108.3 127.7l0.4 -2.6M96.8 96.8l-2 -2.8M103.2 99.8l-3.4 -1.6M120.6 99.1l3.1 -2.4M111.9 139.3l2.8 -5M129.6 99.2l3.1 0.7M120.1 124l3.3 -1.8M103.1 90l1.6 -2.8M90.7 139.6l2.4 -6.1M88.6 105.8l-0.9 -3.2M98.4 96.2l2.1 -1.9M124.6 133l2.2 -4.7M124.3 89.3l3.3 -0.1M86 110.5l-3.5 -4.4M105.1 94.4l3.4 -0.9M127.6 117.2l2.7 -4.5M82.1 129.1l2.3 -2.3M89.2 126.4l-0.3 -4M99.1 116.4l1.4 -5.3M103.7 119.8l-1.9 -5.3M90.7 101.2l3.9 -1.8M84.8 136.3l5.5 -1.4M125.5 90.5l-0.7 -3.8M94 125.3l4.5 -0.1M97.5 115l2.9 3M110.1 117.9l-3.3 -3.4M109.4 102.2l1.2 -3.7M126.7 98.6l1.8 -2.8M120.5 127.9l-2.2 -1.9M106.5 130.9l2.8 -5.4M97.6 99.6l4.3 -4.9M105.8 121.1l2.2 -5.4" stroke="#b5a2dc" stroke-width="1.3" opacity="0.65"/>
<path d="M97.7 134.9l2.8 -2M113 105.1l-2.9 -1.4M126.7 128.1l5.3 -0.3M129.5 107.1l1.5 -5.4M88.4 131.9l0.7 -2.6M128.6 106l-0.8 -3.6M102.2 112.3l-5.2 -3.6M84.8 134.2l3.2 0M96.9 108.6l2.6 -3.8M126.5 113.1l4 -2.3M120.1 115.3l-1.3 -5.3M122.5 131.1l-2.1 -1.5M130.9 133.1l1.8 -2.9M97.9 134.3l2.2 -3.4M106.4 100.8l2.5 -5.3M126.5 119.9l-1.9 -1.8M104.9 137.2l4.7 -1.8M130.8 139.2l0.5 -5.4M114.2 106.1l1.1 -2.5M106.9 95.1l0.7 -6.1M111.2 92l4.8 -2M91.3 114.7l2.6 -4.3M127.6 120.8l1.7 -5M86.9 125.4l2.3 1.3M104.4 125.7l0.1 -3.2M87 94.9l1.5 -5.6M114.5 107l-2 -2.8M103.3 98l2.8 -2.2M112.3 106.3l2.8 -4.3M86.6 105.1l2.4 -3.1M83.1 103.6l4 0.9M89.7 93.7l-0.2 -4.7M87 121.3l1.9 -4.8M100.4 102.7l2 -3.1M94.1 128.2l2.5 -1.2M120.8 112l2.3 -5M123.3 115.6l-0.2 -4.6M101.5 115.6l-3.9 -4.9M114.6 118.7l3.5 -5.4M100 112.4l3.4 -5.1M89.7 93.4l-3.2 -1.9M129.6 128.9l2.4 -5.5M92.6 116.1l-2.2 -2.6M90.4 114.2l1 -5.6M113.9 122l3.9 -3.1M104.8 127.5l4.7 -1.5M84.5 90.4l3.4 -1.6M132.3 132.9l-1 -4.6M84.9 119.4l3.5 -3.9M103.5 99.5l-0.2 -4.5M103.1 122.7l2.3 -4M105.4 130.3l1.4 -2.2M129.1 121.5l5.3 -2.3M119.5 92.9l1.8 -4.7M105.7 134.4l3.2 -3.2M108.3 123.2l0.6 -5M98.6 107.7l2.9 -0.5M130.1 93.1l1.5 -2.4M121.5 98.4l5.9 -1.5M122.2 136.2l5.7 -0.6M125.8 90.8l3.6 0.6M121.9 105l6.3 -1.2M89.1 129.8l5.3 -1.7M108.3 118.6l3.7 0.8M109.4 116.4l2.6 -1.2M99.6 95.8l2 -3.1M106.6 127.6l3 -2.6M82.4 104.4l1 -2.9M80.1 129.4l4.5 -1.9M113.9 117l-0.8 -2.5M85.7 92l3.6 -3.4M85.2 124.2l1.2 -5.6M93.4 109.5l0.2 -5.1M127.1 125.7l5.1 -0.9M83.7 119.5l1.8 -2.7M123.8 123.8l-0.3 -6.1M89.5 125.1l-3.4 -2.6M118.2 134.8l3.7 -4.4M125.8 139.7l2.3 -1M99.2 133.4l0.7 -6.1M117.5 123.5l0.4 -3.6M101.6 104.6l-1.6 -5.2M116.6 113.3l-0.3 -6M104.8 116.3l3 -4.3M111.5 124.7l3.1 -5.4M86.7 111.6l-1.9 -4.7M122.4 132.6l-0.1 -2.5M131.7 128.8l0.8 -2.8M82.7 126.2l2.7 -4.1M130 92.5l3.2 -4.7M93.2 131.7l5 -3.2M126.7 132.3l-4.5 -3.6M86.1 123.1l-0.3 -5.5M106 111.6l1.7 -3.9M118.9 118.8l-0.3 -4M102.4 112.9l4.4 -1.9M86.9 112.1l5 -2.9M103.7 93.6l1.8 -4.7M87.5 122.1l3.3 -0.8M100 126.9l-0.4 -2.5M110.4 129.1l-0.7 -2.6M111.8 125.1l5.1 -0.3M105.8 123.4l2.3 -2.1M93.6 100.1l3.7 -3.3M86.1 106.2l-0.5 -2.9M92.2 108.4l-1.8 -5.9M82.7 93.1l6.3 0.8M102 118.9l2.2 -2.2M111.1 102.6l3.2 -1.1M123.5 91.5l2 -4.7M114.8 103.6l-0.7 -2.9M120.3 113.2l2.7 0M125.4 126.4l5.4 0.8M103.3 113.1l3.2 -3.9M107.4 129.6l6.1 -1.2M129.5 98.3l3 -3.3M105.5 96.8l4.8 2.6M123.6 112.8l0.7 -2.5M100.3 105.9l4.2 -1M99.1 118.5l2.9 -5.7M111.7 93.2l3.9 -4.3M124 138l2.6 -0.6M87.6 110.7l2.3 1.2M98.4 122.8l4.8 0.2M93.5 124.8l3.6 -3.2M129.9 96.6l3.5 -4.5M104.7 93.9l-3 -4.6M86.9 92.3l-1.3 -2.5M129.4 93.5l1.1 -6.3M113 100.6l3.4 -5.1M109.6 133.9l2.3 -4.5M83 132.4l3.3 0.4M119.2 132.4l5 -3.6M119.5 105.4l2.8 -3M81.1 131.6l4.4 3.1M97.4 131.4l3.1 -4.2M97.3 129.6l-2 -4.4M88 124.9l5.3 -3.6M116.7 118.7l4.5 -1.1M97.8 132.5l4.4 -4.2M123.7 118.5l6 -0.6M92.9 125.8l1 -3.7M116.4 114.6l-3.3 -0.3M93.9 125.5l2.1 -3.6M119.9 126.3l2.6 -0.6M96.1 124.1l-0.2 -2.7M101.6 122.6l1.8 -2.7M89.5 119.4l0.8 -4.3M129.7 134l-1.1 -2.9M120.5 105.5l3.5 -3.8M107.4 122.1l3.2 -4.7M86.4 94l-0.4 -2.5M130.9 90.2l3.1 1.6" stroke="#b5a2dc" stroke-width="2.1" opacity="0.65"/>
<path d="M130.4 95.5l-0.1 0.5M98.8 134.1l0.4 -0.3M112.1 135.9l-0.2 -0.8M111.7 104.4l-0.5 -0.2M128.5 128l0.8 -0.1M130.2 104.6l0.2 -0.9M88.6 131.2l0.1 -0.4M128.7 114.5l0.1 -0.7M128.3 104.4l-0.1 -0.6M103.9 122.7l0.7 -0.2M100.2 110.9l-0.8 -0.6M86 134.2l0.5 0M98.1 106.9l0.4 -0.6M91.8 123.8l0.3 -0.3M128.7 111.8l0.6 -0.4M119.6 113.3l-0.2 -0.8M121.6 130.4l-0.3 -0.2M99.4 97.9l-0.5 -0.7M83.7 137.7l0.2 -0.5M90.4 102.9l0.3 -0.3M99.1 126l0.4 0.1M83.2 98.9l-0.1 -0.7M118.1 112.3l0.3 -0.5M89.2 134l0.7 -0.4M112.2 90.9l0.3 -0.8M131.4 132.2l0.3 -0.5M98.6 133.2l0.3 -0.5M122.5 133.9l0.3 -0.7M107.6 98.2l0.4 -0.8M123.3 138.1l0.4 -0.3M120.3 108.6l0.1 -0.5M93.5 115.3l0.1 -1M125.6 119.1l-0.3 -0.3M122.5 131.1l0.1 -0.4M106.6 136.6l0.7 -0.3M131 136.5l0.1 -0.9M114.6 105.2l0.2 -0.4M82.4 104.8l0.4 -0.2M90.5 113.2l-0.1 -0.9M126.4 137.3l0.5 -0.4M107.1 100.1l0.5 -0.4M132.2 130.3l0.4 -0.3M107.2 92.6l0.1 -1M113.5 91l0.8 -0.3M99.9 103.1l0.4 -0.3M92 113.6l0.4 -0.7M128.2 119l0.3 -0.8M101.9 116.8l0.4 -0.2M109.7 130.8l0.4 -0.8M116 117.6l0.7 0.4M100 129.5l-0.7 -0.4M87.7 125.9l0.4 0.2M121.1 95.4l0 -0.5M114.6 101.8l-0.2 -0.3M89.5 136.7l0 -0.5M90.3 93.2l0.3 -0.6M104.5 124.8l0 -0.5M87.9 91.8l0.2 -0.9M113.7 105.9l-0.3 -0.4M83.8 105.9l0.7 -0.4M129 114.6l0.7 0M128.4 111.7l-0.1 -0.6M124.9 109.1l0.2 -0.9M114.4 90.6l0.9 0M104.7 96.9l0.4 -0.3M113.4 104.7l0.4 -0.7M85.8 112.3l0.4 -0.5M96 134.2l0.7 -0.5M122.4 115.4l0.4 -0.2M125.3 131.4l0 -0.5M93.2 106.3l0.1 -0.8M105.5 111l0.6 -0.6M87.4 104l0.4 -0.5M84.4 103.9l0.6 0.1M91.7 97.6l0.5 -0.9M106.3 118.3l0.3 0.4M81.6 125.5l0 -0.7M89 115.3l-0.4 -0.4M89.6 92.1l0 -0.8M87.8 119.3l0.3 -0.8M111.1 90.2l0 -0.6M124.1 93.5l0.5 0.1M101.5 101.1l0.3 -0.5M125.3 105.8l0.1 -0.6M95.6 127.5l0.4 -0.2M122 109.6l0.4 -0.8M106.3 139.8l0.4 -0.5M123.2 114.2l0 -0.7M99.8 113.5l-0.6 -0.8M116.2 116.2l0.6 -0.9M101.9 109.6l0.5 -0.8M117.6 117.7l-0.1 -0.6M119.5 125.9l0.4 -0.7M125.6 109.9l0.2 -0.7M92.2 99.5l0.1 -0.4M131 126.7l0.3 -0.6M88.5 92.7l-0.5 -0.3M130.8 126.1l0.4 -0.9M91.8 115.2l-0.3 -0.4M90.8 112.1l0.2 -0.9M93 107.3l0 -0.6M115.7 120.5l0.6 -0.5M88.4 109.4l-0.5 -0.5M114.6 129.4l0.2 -0.6M106.4 127l0.7 -0.2M85.8 89.8l0.5 -0.3M132 131.2l-0.2 -0.7M89.4 134.9l0.1 -0.8M86.2 117.9l0.6 -0.6M114.1 138.2l-0.3 -0.8M114.4 128.6l0 -1M83.9 138.9l-0.4 -0.2M103.4 97.9l0 -0.7M104.4 120.6l0.4 -0.6M130.8 96.8l0.1 -0.8M106 129.4l0.2 -0.4M123.6 93.8l0.6 0M131.9 120.3l0.9 -0.4M104.1 103.2l-0.9 -0.4M120 91.6l0.3 -0.8M100.7 121.3l-0.2 -0.4M99.1 113.4l0.4 -0.7M107.4 132.7l0.5 -0.5M108.6 120.5l0.1 -0.8M131 139.2l0.6 -0.1M127.2 134.2l0.7 -0.1M128.1 127.5l0.9 -0.5M99.6 107.5l0.5 -0.1M116.2 112.3l0.9 -0.3M121 103.4l-0.2 -0.3M130.9 91.9l0.2 -0.4M123.4 97.9l1 -0.2M123.7 136.1l0.9 -0.1M116.1 113.9l-0.2 -0.5M127.3 91.1l0.6 0.1M117.5 91.3l0.6 -0.7M106 105.5l0.2 -0.4M123.9 104.6l1 -0.2M125.4 139.6l-0.3 -0.8M118.5 100.1l0.5 -0.4M122 96.1l0.4 -0.4M91.6 129l0.9 -0.3M132.4 101.7l0.3 -1M121.1 137.8l-0.3 -0.8M121.6 137.3l0.4 -0.7M109.5 118.9l0.6 0.1M110.2 116l0.4 -0.2M108.5 123.4l-0.5 -0.7M90.6 114.8l-0.3 -0.8M94.1 98.5l0.4 -0.7M100.2 95l0.3 -0.5M117.3 117.1l0.4 -1M131.3 114l0.8 -0.4M107.5 126.8l0.5 -0.4M102.7 103.9l0 -0.6M82.9 103l0.2 -0.5M82.5 128.3l0.7 -0.3M93 124.5l0 -0.4M113.5 115.6l-0.1 -0.4M87.2 90.6l0.6 -0.5M85.8 121.3l0.2 -0.9M93.5 106.8l0 -0.8M128.9 125.4l0.8 -0.1M84.3 118.5l0.3 -0.4M126.6 90.2l-0.7 -0.4M123.7 121.4l-0.1 -1M88.4 124.2l-0.5 -0.4M119.9 132.8l0.6 -0.7M90.1 105.4l0.3 -0.7M126.8 139.2l0.4 -0.2M103.1 126.3l0.7 -0.5M99.5 130.8l0.1 -1M117.7 121.9l0.1 -0.6M87.2 107l0.2 -0.4M96.9 89.6l-0.7 -0.2M95.2 105.1l0.3 -0.4M100.1 133.3l-0.4 -0.6M111.5 98.4l0.3 -0.5M100.7 101.8l-0.3 -0.8M88.6 115.5l0.2 0.8M113.5 121.2l0.3 -0.5M83.4 93.9l0.6 -0.6M102.7 131l-0.6 -0.4M116.4 110.6l0 -1M82.5 134.3l0.4 -0.5M106.2 114.3l0.5 -0.7M125.4 110.6l1 -0.3M100.9 138.7l0.4 0M99 127l0.9 -0.4M113.2 121.7l0.5 -0.9M94.8 105.4l0.2 -0.6M88.4 108.3l-0.1 -0.8M85.7 109.4l-0.3 -0.8M122.3 131.6l0 -0.4M131.9 128l0.1 -0.4M83.5 125l0.4 -0.7M130.2 126.7l0.6 0M131 91.1l0.5 -0.8M127.2 89.4l0.2 -0.5M103 138.7l0.6 -0.7M95.4 130.3l0.8 -0.5M124.7 130.7l-0.7 -0.6M85.9 120.1l-0.1 -0.9M98.7 135.8l-0.7 -0.2M106.9 109.4l0.3 -0.6M118.7 116.6l0 -0.6M82.4 108l0.2 -0.8M101.9 95.4l0.4 0.1M85 124.8l0.7 -0.4M104 112.2l0.7 -0.3M115.9 132.1l0.6 0M131.7 139.8l0.3 -0.8M88.7 111l0.8 -0.5M104.4 91.9l0.3 -0.8M131 103.5l-0.1 -0.5M106 96.8l0.5 0M89.3 121.6l0.5 -0.1M99.8 125.6l-0.1 -0.4M109.6 134.7l-0.4 -0.6M110.3 128.4l-0.1 -0.4M114.2 125l0.8 0M116.9 122.9l0 -0.9M91.5 90.7l0.9 -0.1M106.8 122.5l0.4 -0.3M92.8 120.2l0.9 0M95.1 98.8l0.6 -0.5M117 134.7l0.7 -0.6M85.9 105.4l-0.1 -0.5M112.5 97l0.1 -0.6M91.4 105.5l-0.3 -0.9M114 131.5l0.8 -0.2M101.7 117.3l-0.3 -0.3M85 93.4l1 0.1M112.5 114.9l-0.3 -0.4M102.7 118.3l0.4 -0.4M100.1 117.3l0.2 -0.5M122.8 99.9l0.3 -0.7M82.3 132.9l-0.1 -0.4M112.6 102.1l0.5 -0.2M112.6 136.9l0.5 -0.8M127.3 91.5l-0.6 -0.3M124.7 88.8l0.3 -0.8M114.5 102.3l-0.1 -0.5M112.1 122.4l-0.4 -0.7M81.5 104.9l0.3 -0.3M121.5 113.2l0.4 0M128 126.8l0.9 0.1M131.1 135.1l-0.1 -0.5M115.9 120.8l0.2 -0.7M104.9 111.1l0.5 -0.6M110.6 129l1 -0.2M130.6 97.1l0.5 -0.5M108 98.2l0.8 0.4M109.4 131.6l0.9 -0.3M91.6 111.3l0.6 -0.8M96.5 90.8l0.3 -0.7M123.9 111.7l0.1 -0.4M97.2 127l0.6 -0.5M102.3 105.5l0.7 -0.2M94.2 91l0.2 -0.4M100.5 115.7l0.5 -0.9M113 91.7l0.6 -0.7M125.4 137.6l0.4 -0.1M88.2 111l0.4 0.2M106.2 98.4l0.5 -0.3M100.7 122.9l0.8 0M94.8 123.7l0.6 -0.5M131.5 94.6l0.6 -0.7M103.7 92.3l-0.5 -0.7M107.7 94.6l0.6 -0.4M86.5 91.5l-0.2 -0.4M125 120.9l-0.2 -0.5M129.8 91l0.2 -1M124.3 102l0.6 -0.7M108.4 126.8l0.1 -0.4M114.2 98.8l0.5 -0.8M110.7 131.8l0.4 -0.7M84 132.5l0.5 0.1M121.8 130.5l0.8 -0.6M95.8 95.4l-0.3 -0.4M120.5 104.4l0.4 -0.5M101.9 99.2l-0.5 -0.3M121.6 98.3l0.5 -0.4M83.5 133.3l0.7 0.5M113.5 136.6l0.5 -0.8M130.6 99.5l0.5 0.1M98.2 130.3l0.5 -0.7M121 123.5l0.5 -0.3M103.8 88.8l0.3 -0.4M96.7 128.2l-0.3 -0.7M91.8 136.9l0.4 -1M88.3 104.9l-0.2 -0.5M89.6 123.8l0.8 -0.6M119.2 118.1l0.7 -0.2M99.4 131l0.7 -0.7M126.2 118.2l1 -0.1M99.1 95.6l0.3 -0.3M93.3 124.4l0.2 -0.6M125.3 131.7l0.4 -0.8M126 89.2l0.5 0M115.2 114.5l-0.5 0M94.9 123.8l0.3 -0.6M84.7 108.8l-0.6 -0.7M121.3 126l0.4 -0.1M96 122.7l0 -0.4M102.5 121.3l0.3 -0.4M106.3 94l0.5 -0.1M128.6 115.5l0.4 -0.7M89.8 118l0.1 -0.7M129.2 132.6l-0.2 -0.5M82.7 128.4l0.4 -0.4M89 124.2l-0.1 -0.6M122.4 103.3l0.6 -0.6M108.7 120.1l0.5 -0.8M99.8 114l0.2 -0.8M103.2 118.3l-0.3 -0.8M92.6 100.3l0.6 -0.3M87.5 135.6l0.9 -0.2M125.3 89.1l-0.1 -0.6M96.5 125.3l0.7 0M98.8 116.3l0.5 0.5M109.1 116.9l-0.5 -0.5M109.9 100.6l0.2 -0.6M127.3 97.6l0.3 -0.4M86.2 92.7l-0.1 -0.4M119.3 126.9l-0.3 -0.3M107.9 128.2l0.4 -0.9M132.4 91l0.5 0.3M99.2 97.8l0.7 -0.8M107 118.2l0.3 -0.9" stroke="#6a4ab4" stroke-width="1.5" opacity="0.8"/>
</g>
<path d="M98.4 106.9h0M131.1 105.4h0M106.7 92.9h0M121.7 115h0M124.7 122.5h0M102.8 92h0M99.6 113.3h0M101.2 111.6h0" stroke="#2a2438" stroke-width="0.75" stroke-linecap="round" opacity=".8"/>
<rect x="81.5" y="88.5" width="51" height="51" stroke="#222" stroke-width=".8"/>
<clipPath id="mc23"><rect x="134.5" y="88.5" width="51" height="51"/></clipPath>
<rect x="134.5" y="88.5" width="51" height="51" fill="#f0f0f1" stroke="none"/>
<g clip-path="url(#mc23)" stroke-linecap="round" filter="url(#b6)">
<path d="M179.7 138.3l4 -2.8M140.1 100.2l2 -3.8M164.8 99.3l4.8 -3.1M178.3 136.9l-5.5 0M153.5 99.7l0.4 -2.8M180.5 138.6l3.2 -3.3M149.4 134.6l5.1 -1.2M178.1 122.3l-2.6 -2.3M161.6 117.7l3.1 -3.1M131.9 107.4l5.6 0.7M143 124.2l3.7 -1.9M147.1 132.9l5.2 2.9M167 119.4l3.7 -0.2M161 101.9l3.5 -0.8M147.3 134l1.4 -4.1M183 120l3.2 1.7M174.8 94.4l4.8 -2.6M143.5 91.9l0.6 -4.9" stroke="#b5a2dc" stroke-width="1.3" opacity="0.55"/>
<path d="M134.7 94.9l2.2 -4M137.7 130.9l-0.5 -4.8M182.4 108.8l3.2 -3.5M139 115.4l-0.3 -5.4M137.8 90.9l3.5 -0.9M149.9 109.8l2.9 -4.8M137.4 129.1l5.2 -1.2M163.5 136.4l-2.5 -2M156.7 92.4l-1.9 -5.4M174.1 102.4l3.6 -2.1M174.8 118l-1.9 -2.2M162.6 132.8l0.8 -3.4M156.7 123.9l4.6 -0.5M149.3 139.5l1.1 -4M155.9 133.6l2.3 -2.7M147.9 92.3l3.2 0.4M159.9 127.2l-2.9 -5M151 96.8l0.4 -2.8" stroke="#b5a2dc" stroke-width="2.1" opacity="0.55"/>
<path d="M181.4 137.1l0.6 -0.5M141 98.6l0.3 -0.6M135.5 93.4l0.3 -0.6M137.5 128.6l-0.1 -0.8M183.6 107.5l0.5 -0.6M138.9 113.2l0 -0.9M166.3 98.4l0.8 -0.5M139.6 90.5l0.6 -0.1M150.9 108.1l0.5 -0.8M139.1 128.7l0.8 -0.2M162.8 135.8l-0.4 -0.3M155.6 89.4l-0.3 -0.9M175.2 136.9l-0.9 0M153.7 98.8l0.1 -0.4M181.9 137.2l0.5 -0.5M175.6 101.6l0.6 -0.3M151.9 134l0.8 -0.2M177.1 121.4l-0.4 -0.4M174.1 117.2l-0.3 -0.4M162.9 131.8l0.1 -0.5M163.1 116.2l0.5 -0.5M134.9 107.8l0.9 0.1M144.8 123.3l0.6 -0.3M158.7 123.7l0.7 -0.1M149.7 134.3l0.8 0.5M168.4 119.4l0.6 0M149.8 137.8l0.2 -0.6M162.2 101.7l0.6 -0.1M147.9 132.2l0.2 -0.7M156.7 132.7l0.4 -0.4M184 120.5l0.5 0.3M177.1 93.2l0.8 -0.4M149.6 92.5l0.5 0.1M143.8 89.5l0.1 -0.8M158.6 124.9l-0.5 -0.8M151.1 95.8l0.1 -0.5" stroke="#6a4ab4" stroke-width="1.5" opacity="0.5"/>
</g>
<path d="M156.4 105h0M165.9 115.6h0M177.6 110.9h0M153.2 121.4h0M172 134.8h0M150.8 132.9h0M183.6 137.6h0M141.8 108.1h0M173.4 130.2h0M137.4 108.9h0M171 126.7h0M161.7 99.8h0M155.4 92.4h0M151 110.4h0M175.8 118.4h0M155.8 101.6h0M150.9 122.4h0M157.3 98h0M175.8 117.7h0M182.9 115.8h0M166 110.5h0M165.3 134.5h0M183.6 121.9h0M156.6 92.6h0M176.7 108.7h0M154.2 92.3h0M137.2 108.6h0M183.3 125.8h0M170.2 122.3h0M148.9 97.8h0M165 92.6h0M164.3 114.7h0M162.1 95.4h0M138.8 112.7h0M142.6 120.9h0M150.7 119.9h0M172.3 119.2h0M161.5 99.2h0M152.5 137.4h0M148.7 103.4h0M159.7 116.3h0M174.2 104h0M182.7 90.6h0M174.2 117.4h0M179.7 97h0" stroke="#2a2438" stroke-width="0.75" stroke-linecap="round" opacity=".8"/>
<rect x="134.5" y="88.5" width="51" height="51" stroke="#555" stroke-width=".8"/>
<path d="M174.5 135.6L181.4 135.6" stroke-width="1.3"/>
<text transform="translate(385.8 11.3)scale(1 1.02)" font-weight="bold" font-size="14.2">E</text>
<text transform="translate(434.5 14)scale(1 1.04)" text-anchor="middle">Control</text>
<text transform="translate(488 14)scale(1 1.04)" text-anchor="middle">NaLac</text>
<text transform="translate(541.4 14)scale(1 1.04)" text-anchor="middle">NaOxa</text>
<text transform="translate(408.5 47)scale(1 1.04)" text-anchor="end">0 h</text>
<text transform="translate(408.5 97.8)scale(1 1.04)" text-anchor="end">24 h</text>
<text transform="translate(487 132.7)scale(1 1.04)" text-anchor="middle" font-size="9.7">786-O</text>
<linearGradient id="wg1" x1="0" y1="0" x2="1" y2="0">
<stop offset="0" stop-color="#7c7c7c"/>
<stop offset="0.5" stop-color="#989898"/>
<stop offset="1" stop-color="#a6a6a6"/>
</linearGradient>
<g filter="url(#gn)"><rect x="411" y="17" width="51" height="52" fill="url(#wg1)" stroke="none"/></g>
<path d="M428.4 17.9L442.2 17.9L442.2 68.7L428.4 68.7z" fill="#979797" opacity="0.8" stroke="none"/>
<path d="M428.4 17.9L428.4 68.7M442.2 17.9L442.2 68.7" stroke="#0a0a0a" stroke-width=".65" stroke-dasharray="1.5 .9"/>
<path fill-rule="evenodd" d="M410 16H463V70H410zM411.2 17.9H461.8V68.7H411.2z" fill="#fff" stroke="none"/>
<linearGradient id="wg2" x1="0" y1="0" x2="1" y2="0">
<stop offset="0" stop-color="#8e8e8e"/>
<stop offset="0.5" stop-color="#9c9c9c"/>
<stop offset="1" stop-color="#a8a8a8"/>
</linearGradient>
<g filter="url(#gn)"><rect x="464" y="17" width="51" height="52" fill="url(#wg2)" stroke="none"/></g>
<path d="M482.8 17.9L494.3 17.9L494.3 68.7L482.2 68.7z" fill="#9a9a9a" opacity="0.8" stroke="none"/>
<path d="M482.8 17.9L482.2 68.7M494.3 17.9L494.3 68.7" stroke="#0a0a0a" stroke-width=".65" stroke-dasharray="1.5 .9"/>
<path fill-rule="evenodd" d="M463 16H516V70H463zM464.1 17.9H514.7V68.7H464.1z" fill="#fff" stroke="none"/>
<linearGradient id="wg3" x1="0" y1="0" x2="1" y2="0">
<stop offset="0" stop-color="#8c8c8c"/>
<stop offset="0.5" stop-color="#909090"/>
<stop offset="1" stop-color="#a0a0a0"/>
</linearGradient>
<g filter="url(#gn)"><rect x="517" y="17" width="51" height="52" fill="url(#wg3)" stroke="none"/></g>
<path d="M535.6 17.9L548.5 17.9L548.5 68.7L535.6 68.7z" fill="#8e8e8e" opacity="0.8" stroke="none"/>
<path d="M535.6 17.9L535.6 68.7M548.5 17.9L548.5 68.7" stroke="#0a0a0a" stroke-width=".65" stroke-dasharray="1.5 .9"/>
<path fill-rule="evenodd" d="M516 16H569V70H516zM517 17.9H567.6V68.7H517z" fill="#fff" stroke="none"/>
<linearGradient id="wg4" x1="0" y1="0" x2="1" y2="0">
<stop offset="0" stop-color="#808080"/>
<stop offset="0.5" stop-color="#909090"/>
<stop offset="1" stop-color="#a0a0a0"/>
</linearGradient>
<g filter="url(#gn)"><rect x="411" y="70" width="51" height="52" fill="url(#wg4)" stroke="none"/></g>
<path d="M431.1 70.5L441.9 70.5L441.9 121.3L431.1 121.3z" fill="#8c8c8c" opacity="0.8" stroke="none"/>
<path d="M431.1 70.5L431.1 121.3M441.9 70.5L441.9 121.3" stroke="#0a0a0a" stroke-width=".65" stroke-dasharray="1.5 .9"/>
<path fill-rule="evenodd" d="M410 69H463V123H410zM411.2 70.5H461.8V121.3H411.2z" fill="#fff" stroke="none"/>
<linearGradient id="wg5" x1="0" y1="0" x2="1" y2="0">
<stop offset="0" stop-color="#868686"/>
<stop offset="0.5" stop-color="#8c8c8c"/>
<stop offset="1" stop-color="#9a9a9a"/>
</linearGradient>
<g filter="url(#gn)"><rect x="464" y="70" width="51" height="52" fill="url(#wg5)" stroke="none"/></g>
<path d="M487.8 70.5L492.7 70.5L492.7 121.3L485.8 121.3z" fill="#8a8a8a" opacity="0.8" stroke="none"/>
<path d="M487.8 70.5L485.8 121.3M492.7 70.5L492.7 121.3" stroke="#0a0a0a" stroke-width=".65" stroke-dasharray="1.5 .9"/>
<path fill-rule="evenodd" d="M463 69H516V123H463zM464.1 70.5H514.7V121.3H464.1z" fill="#fff" stroke="none"/>
<linearGradient id="wg6" x1="0" y1="0" x2="1" y2="0">
<stop offset="0" stop-color="#8a8a8a"/>
<stop offset="0.5" stop-color="#949494"/>
<stop offset="1" stop-color="#a6a6a6"/>
</linearGradient>
<g filter="url(#gn)"><rect x="517" y="70" width="51" height="52" fill="url(#wg6)" stroke="none"/></g>
<path d="M536.2 70.5L547.5 70.5L547.5 121.3L536.2 121.3z" fill="#969696" opacity="0.8" stroke="none"/>
<path d="M536.2 70.5L536.2 121.3M547.5 70.5L547.5 121.3" stroke="#0a0a0a" stroke-width=".65" stroke-dasharray="1.5 .9"/>
<path fill-rule="evenodd" d="M516 69H569V123H516zM517 70.5H567.6V121.3H517z" fill="#fff" stroke="none"/>
<path d="M557.1 118.8L564.7 118.8" stroke-width="1.3"/>
<text transform="translate(326.6 167.9)scale(1 1.02)" font-weight="bold" font-size="14.2">H</text>
<text transform="translate(382.7 169.4)scale(1 1.04)" text-anchor="middle">shNC</text>
<text transform="translate(436.2 169.4)scale(1 1.04)" text-anchor="middle">shFUT8#1</text>
<text transform="translate(489.3 156.8)scale(1 1.04)" text-anchor="middle">shNC</text>
<text transform="translate(489.3 169.4)scale(1 1.04)" text-anchor="middle">+NaLac</text>
<text transform="translate(543.2 156.8)scale(1 1.04)" text-anchor="middle">shFUT8#1</text>
<text transform="translate(543.2 169.4)scale(1 1.04)" text-anchor="middle">+NaLac</text>
<text transform="translate(354.2 201.6)scale(1 1.04)" text-anchor="end">0 h</text>
<text transform="translate(354.2 251.7)scale(1 1.04)" text-anchor="end">24 h</text>
<text transform="translate(462.8 287.2)scale(1 1.04)" text-anchor="middle" font-size="9.7">786-O</text>
<linearGradient id="wg11" x1="0" y1="0" x2="1" y2="0">
<stop offset="0" stop-color="#a4a4a4"/>
<stop offset="0.5" stop-color="#a0a0a0"/>
<stop offset="1" stop-color="#a6a6a6"/>
</linearGradient>
<g filter="url(#gn2)"><rect x="357" y="172" width="51" height="51" fill="url(#wg11)" stroke="none"/></g>
<path d="M374.4 172.1L389 172.1L389 222.6L373.6 222.6z" fill="#6f6f6f" opacity="0.95" stroke="none"/>
<path d="M374.4 172.1L373.6 222.6M389 172.1L389 222.6" stroke="#0a0a0a" stroke-width=".65" stroke-dasharray="1.5 .9"/>
<path fill-rule="evenodd" d="M356 171H409V224H356zM357.2 172.1H408V222.6H357.2z" fill="#fff" stroke="none"/>
<linearGradient id="wg12" x1="0" y1="0" x2="1" y2="0">
<stop offset="0" stop-color="#a0a0a0"/>
<stop offset="0.5" stop-color="#a6a6a6"/>
<stop offset="1" stop-color="#a8a8a8"/>
</linearGradient>
<g filter="url(#gn2)"><rect x="411" y="172" width="51" height="51" fill="url(#wg12)" stroke="none"/></g>
<path d="M431.3 172.1L441.8 172.1L441.8 222.6L431.3 222.6z" fill="#acacac" opacity="0.8" stroke="none"/>
<path d="M431.3 172.1L431.3 222.6M441.8 172.1L441.8 222.6" stroke="#0a0a0a" stroke-width=".65" stroke-dasharray="1.5 .9"/>
<path fill-rule="evenodd" d="M410 171H463V224H410zM411.1 172.1H461.9V222.6H411.1z" fill="#fff" stroke="none"/>
<linearGradient id="wg13" x1="0" y1="0" x2="1" y2="0">
<stop offset="0" stop-color="#a8a8a8"/>
<stop offset="0.5" stop-color="#a4a4a4"/>
<stop offset="1" stop-color="#a8a8a8"/>
</linearGradient>
<g filter="url(#gn2)"><rect x="464" y="172" width="52" height="51" fill="url(#wg13)" stroke="none"/></g>
<path d="M482.1 172.1L496 172.1L495.2 222.6L481.3 222.6z" fill="#888" opacity="0.9" stroke="none"/>
<path d="M482.1 172.1L481.3 222.6M496 172.1L495.2 222.6" stroke="#0a0a0a" stroke-width=".65" stroke-dasharray="1.5 .9"/>
<path fill-rule="evenodd" d="M463 171H517V224H463zM464.5 172.1H515.3V222.6H464.5z" fill="#fff" stroke="none"/>
<linearGradient id="wg14" x1="0" y1="0" x2="1" y2="0">
<stop offset="0" stop-color="#a2a2a2"/>
<stop offset="0.5" stop-color="#a0a0a0"/>
<stop offset="1" stop-color="#a6a6a6"/>
</linearGradient>
<g filter="url(#gn2)"><rect x="517" y="172" width="52" height="51" fill="url(#wg14)" stroke="none"/></g>
<path d="M535 172.1L548 172.1L547.6 222.6L535 222.6z" fill="#8b8b8b" opacity="0.9" stroke="none"/>
<path d="M535 172.1L535 222.6M548 172.1L547.6 222.6" stroke="#0a0a0a" stroke-width=".65" stroke-dasharray="1.5 .9"/>
<path fill-rule="evenodd" d="M516 171H570V224H516zM517.5 172.1H568.3V222.6H517.5z" fill="#fff" stroke="none"/>
<linearGradient id="wg15" x1="0" y1="0" x2="1" y2="0">
<stop offset="0" stop-color="#a0a0a0"/>
<stop offset="0.5" stop-color="#a2a2a2"/>
<stop offset="1" stop-color="#a4a4a4"/>
</linearGradient>
<g filter="url(#gn2)"><rect x="357" y="225" width="51" height="51" fill="url(#wg15)" stroke="none"/></g>
<path d="M377.2 225.3L387 225.3L386.3 275.8L377.2 275.8z" fill="#909090" opacity="0.8" stroke="none"/>
<path d="M377.2 225.3L377.2 275.8M387 225.3L386.3 275.8" stroke="#0a0a0a" stroke-width=".65" stroke-dasharray="1.5 .9"/>
<path fill-rule="evenodd" d="M356 224H409V277H356zM357.2 225.3H408V275.8H357.2z" fill="#fff" stroke="none"/>
<linearGradient id="wg16" x1="0" y1="0" x2="0" y2="1">
<stop offset="0" stop-color="#8a8a8a"/>
<stop offset="1" stop-color="#9e9e9e"/>
</linearGradient>
<g filter="url(#gn2)"><rect x="411" y="225" width="51" height="51" fill="url(#wg16)" stroke="none"/></g>
<path d="M431.3 225.3L440.6 225.3L440.6 275.8L431.3 275.8z" fill="#8c8c8c" opacity="0.8" stroke="none"/>
<path d="M431.3 225.3L431.3 275.8M440.6 225.3L440.6 275.8" stroke="#0a0a0a" stroke-width=".65" stroke-dasharray="1.5 .9"/>
<path fill-rule="evenodd" d="M410 224H463V277H410zM411.1 225.3H461.9V275.8H411.1z" fill="#fff" stroke="none"/>
<linearGradient id="wg17" x1="0" y1="0" x2="1" y2="0">
<stop offset="0" stop-color="#b6b6b6"/>
<stop offset="0.5" stop-color="#b4b4b4"/>
<stop offset="1" stop-color="#aeaeae"/>
</linearGradient>
<g filter="url(#gn2)"><rect x="464" y="225" width="52" height="51" fill="url(#wg17)" stroke="none"/></g>
<path d="M485.9 225.3L491 225.3L490.2 275.8L485.2 275.8z" fill="#a4a4a4" opacity="0.8" stroke="none"/>
<path d="M485.9 225.3L485.2 275.8M491 225.3L490.2 275.8" stroke="#0a0a0a" stroke-width=".65" stroke-dasharray="1.5 .9"/>
<path fill-rule="evenodd" d="M463 224H517V277H463zM464.5 225.3H515.3V275.8H464.5z" fill="#fff" stroke="none"/>
<linearGradient id="wg18" x1="0" y1="0" x2="1" y2="0">
<stop offset="0" stop-color="#b4b4b4"/>
<stop offset="0.5" stop-color="#b0b0b0"/>
<stop offset="1" stop-color="#acacac"/>
</linearGradient>
<g filter="url(#gn2)"><rect x="517" y="225" width="52" height="51" fill="url(#wg18)" stroke="none"/></g>
<path d="M538.7 225.3L546.3 225.3L546.3 275.8L538.7 275.8z" fill="#9c9c9c" opacity="0.8" stroke="none"/>
<path d="M538.7 225.3L538.7 275.8M546.3 225.3L546.3 275.8" stroke="#0a0a0a" stroke-width=".65" stroke-dasharray="1.5 .9"/>
<path fill-rule="evenodd" d="M516 224H570V277H516zM517.5 225.3H568.3V275.8H517.5z" fill="#fff" stroke="none"/>
<path d="M556.9 272.7L564.4 272.7" stroke-width="1.5"/>
<text transform="translate(3.5 305.6)scale(1 1.02)" font-weight="bold" font-size="14.2">I</text>
<text transform="translate(53.3 316.7)scale(1 1.04)" text-anchor="middle">shNC</text>
<text transform="translate(106.9 316.7)scale(1 1.04)" text-anchor="middle">shFUT8#1</text>
<text transform="translate(160.1 305.5)scale(1 1.04)" text-anchor="middle">shNC</text>
<text transform="translate(160.1 316.7)scale(1 1.04)" text-anchor="middle">+NaLac</text>
<text transform="translate(214.4 305.5)scale(1 1.04)" text-anchor="middle">shFUT8#1</text>
<text transform="translate(214.4 316.7)scale(1 1.04)" text-anchor="middle">+NaLac</text>
<text transform="translate(21.6 347.6)rotate(-90)scale(1 1.04)" text-anchor="middle">786-O</text>
<radialGradient id="pg31"><stop offset="0.75" stop-color="#eeedf7"/><stop offset="1" stop-color="#cbc8e6"/></radialGradient>
<clipPath id="pc31"><circle cx="54" cy="347.4" r="25.4"/></clipPath>
<circle cx="54" cy="347.4" r="25.4" fill="url(#pg31)" stroke="none"/>
<g clip-path="url(#pc31)" stroke-linecap="round">
<g filter="url(#b8)" stroke="#8a83d0" opacity="0.45">
<path d="M44.8 326.5h0M44.8 345.3h0M57.3 368.5h0M52.5 343.5h0M53.1 342.2h0M52.7 343.7h0M31.3 338.4h0M28.8 340.5h0M29.2 342.2h0M28.7 341.5h0M56.5 355.6h0M70.8 365.8h0M38.1 345h0M36.3 364h0M38.9 357h0M37.6 356.7h0M65.4 349.8h0M64.4 351.4h0M64.4 350.9h0M63.4 349.9h0M49.8 371.6h0M40.3 349.7h0M47.1 368.4h0M46.6 366.7h0M46.3 368.2h0M45.6 367.6h0M44.2 365.7h0M68.4 345.9h0M37.3 349.5h0M40.3 349.2h0M41.4 348.7h0M59.9 366.5h0M66.6 336h0M38.8 327.8h0M36.2 329h0M52.5 371.8h0M62.1 335.7h0M41 342.4h0M52.6 325.9h0M78.7 344.4h0M78.6 344.8h0M33.1 360.4h0M56.7 323h0M57.8 321.8h0M41 355.3h0M42.5 355.4h0M33.4 348.6h0M56.5 362h0M38.6 337.2h0M55.2 351.4h0M67.9 350h0M66.2 350h0M58.3 334.1h0M31.7 337.1h0M60.7 350.8h0M64.3 357.5h0M64.8 353.3h0M76.1 333.6h0M75.7 333.6h0M68.8 357.7h0M50.2 362.9h0M55.1 370.8h0M39.9 330.9h0M49.3 345.2h0M64.5 353.5h0M29.2 349.6h0M54.9 368.4h0M49.8 354.1h0M75.7 340.9h0M74.7 341.7h0M68.2 358.5h0M58.1 323.4h0M59.7 322.5h0M77.4 340.3h0M36.7 364.3h0M67.5 330.2h0M64.8 329.7h0M65.8 329.2h0M64.9 330.4h0M68.6 332.7h0M43.7 350.2h0M61.5 356.3h0M45.6 337.7h0M73.7 337.2h0M74.5 337.3h0M53.3 371.4h0M54.7 371.2h0M53 369.4h0M39.1 365.4h0M60.1 336.4h0M61.4 337.6h0M43.5 347.4h0M41.5 347.9h0M77.5 351.3h0M74.9 350.4h0M50.4 339.2h0M49.5 338.4h0M32.9 337.4h0M28.4 336.4h0M56.3 366.5h0M35.8 331.1h0M52.1 344.6h0M62.7 360.2h0M61.8 323.7h0M68 368.4h0M69 369.5h0M68.2 370h0M40.1 367h0M39.9 327.3h0M40.8 331.6h0M40 329.8h0M60.9 365.1h0M46.1 370.4h0M53 344.1h0M52.2 345.1h0M76 351h0M31.3 360.1h0M70.3 345.1h0M70.9 343.8h0M57.8 368h0M59.2 367.7h0M59.9 369h0M59.4 369.3h0M75.4 359.6h0M76.5 350.8h0M61.7 326.9h0M52 362h0M75.2 347.2h0M73.3 344.5h0M42.6 355.9h0M42.5 331.2h0M45 331h0M68.9 347.8h0M67.8 349.7h0M52.6 327.8h0M29.7 351.1h0M34.6 348.6h0M60.6 369.6h0M30.2 346.4h0M70.8 333.9h0M41.6 333.5h0M58.8 327.7h0M30.8 347.8h0M29.8 348.2h0M30.6 347.2h0M31.9 345.9h0M64.4 354.3h0M51.3 365.3h0M53.6 363.6h0M51.6 362.2h0M47.9 334.7h0M62 344.2h0M30.6 352.3h0M74 360.2h0M75.3 362.1h0M77.5 360.2h0M66.4 362.3h0M68 363.4h0M54.4 363h0M76.6 344.3h0M78 343.8h0" stroke-width="2.1"/>
<path d="M46.4 346.7h0M54.4 367h0M56.6 366.4h0M32.9 345.8h0M33.5 346.6h0M55.4 364.8h0M71 366h0M72.5 365.3h0M37.7 344h0M41.4 353.8h0M68.5 344.6h0M58.3 333.9h0M58.4 334.1h0M39 349.3h0M66.9 333.9h0M70.9 329.7h0M58.6 362.4h0M58.7 362h0M62.2 333.9h0M41.5 343.8h0M39.3 343.8h0M55 325.3h0M59.5 364.3h0M58.1 364.5h0M51.3 337.5h0M33.5 361.5h0M41.6 354.7h0M56.9 363.1h0M56.8 362.9h0M37.1 336.2h0M56.1 352.8h0M74.3 341.8h0M71.4 365.1h0M58.8 369.7h0M32 337.4h0M29.8 344h0M74.4 333.3h0M60.8 368.3h0M48.7 363.6h0M45.9 362.8h0M40 330.8h0M50.9 344.1h0M47.8 343.9h0M55.4 366.1h0M48.3 352.7h0M47.6 351.7h0M73 342.3h0M55 369.6h0M53.8 341.9h0M59.4 355.2h0M62.8 359.4h0M45.3 337.5h0M35.5 336.8h0M65.8 326.8h0M37.6 363h0M59.6 337.4h0M44.3 348.1h0M40.2 347.4h0M29.1 339.2h0M77 352.4h0M64.8 360.5h0M65 360h0M61.1 322.2h0M39.9 364.2h0M39.7 331.7h0M46.8 370.2h0M47.4 370.1h0M76.8 340.2h0M74.8 349.4h0M75.4 350.8h0M72.9 354.5h0M70.7 352.5h0M69.1 352.9h0M45.3 326.5h0M32.4 358.8h0M67.9 345.7h0M36.2 329.1h0M67 352.3h0M69.7 350.4h0M52.3 327.8h0M53 326.8h0M75.1 341.6h0M61.1 370.4h0M61.4 369.1h0M32.1 347h0M63.9 370.2h0M57.3 330.4h0M30.2 348h0M67.4 355.9h0M48.4 324h0M49.7 334.9h0M44.3 349.1h0M79.7 359.3h0M54.4 361.2h0M53.7 363.5h0M49.1 361.5h0M48.2 360.6h0M48.3 360.1h0" stroke-width="2.8"/>
<path d="M55.1 324.2h0M45.9 347.4h0M53.6 343h0M45.7 366.1h0M49.6 328.4h0M32.4 345.5h0M31.5 346.9h0M71.8 365.8h0M36.7 344.4h0M36.8 363.7h0M48 368.2h0M45.7 365.1h0M53.3 371.6h0M59.6 363.5h0M60.7 332.4h0M39.8 341.9h0M53.9 340.7h0M53 340.9h0M35.6 336.6h0M68.2 350.5h0M31.4 343.9h0M75.7 335.2h0M70.3 358.1h0M73.5 335h0M50.8 364.7h0M55.4 369.7h0M49.6 345.3h0M54.7 366h0M48.4 353.1h0M65.9 328.8h0M45.5 335.8h0M52.4 328.6h0M65.4 327.4h0M36.7 365h0M59.3 337.1h0M78.7 350.8h0M50.7 337h0M34.6 332.8h0M63.3 358.8h0M68 368h0M62.2 365.1h0M47.3 328.9h0M72 353.2h0M67.8 327.9h0M69.7 355.5h0M67.6 354.9h0M47.8 330.3h0M51.5 326.7h0M30.3 352.8h0M32.1 343.7h0M31.9 344.8h0M64.2 355.9h0M66.1 356.3h0M71.2 331h0M48.7 342h0M62.6 333.5h0M30.6 350.6h0M30.9 351.4h0M53.7 363.2h0M53.7 360h0" stroke-width="3.7"/>
<path d="M61.5 371.1h0M41.1 356.6h0M47.9 326.1h0M67.3 333.1h0M37.9 328.3h0M51.9 339.3h0M41.9 355.2h0M55.6 362.7h0M54.3 351.6h0M67 350.3h0M63.8 356.9h0M65.4 355.1h0M55.3 332.7h0M40.5 333.3h0M41.4 332.8h0M52.6 327.4h0M70.7 335.7h0M70.5 336.8h0M38.2 364.3h0M28.7 337.3h0M41.4 365.6h0M70 345.7h0M36.7 330.2h0M31.5 351.1h0M73.4 333.8h0M49.7 361.7h0" stroke-width="4.7"/>
</g><g filter="url(#b)" stroke="#3b30a2" opacity="0.8">
<path d="M44.8 326.5h0M44.8 345.3h0M57.3 368.5h0M52.5 343.5h0M53.1 342.2h0M52.7 343.7h0M31.3 338.4h0M28.8 340.5h0M29.2 342.2h0M28.7 341.5h0M56.5 355.6h0M70.8 365.8h0M38.1 345h0M36.3 364h0M38.9 357h0M37.6 356.7h0M65.4 349.8h0M64.4 351.4h0M64.4 350.9h0M63.4 349.9h0M49.8 371.6h0M40.3 349.7h0M47.1 368.4h0M46.6 366.7h0M46.3 368.2h0M45.6 367.6h0M44.2 365.7h0M68.4 345.9h0M37.3 349.5h0M40.3 349.2h0M41.4 348.7h0M59.9 366.5h0M66.6 336h0M38.8 327.8h0M36.2 329h0M52.5 371.8h0M62.1 335.7h0M41 342.4h0M52.6 325.9h0M78.7 344.4h0M78.6 344.8h0M33.1 360.4h0M56.7 323h0M57.8 321.8h0M41 355.3h0M42.5 355.4h0M33.4 348.6h0M56.5 362h0M38.6 337.2h0M55.2 351.4h0M67.9 350h0M66.2 350h0M58.3 334.1h0M31.7 337.1h0M60.7 350.8h0M64.3 357.5h0M64.8 353.3h0M76.1 333.6h0M75.7 333.6h0M68.8 357.7h0M50.2 362.9h0M55.1 370.8h0M39.9 330.9h0M49.3 345.2h0M64.5 353.5h0M29.2 349.6h0M54.9 368.4h0M49.8 354.1h0M75.7 340.9h0M74.7 341.7h0M68.2 358.5h0M58.1 323.4h0M59.7 322.5h0M77.4 340.3h0M36.7 364.3h0M67.5 330.2h0M64.8 329.7h0M65.8 329.2h0M64.9 330.4h0M68.6 332.7h0M43.7 350.2h0M61.5 356.3h0M45.6 337.7h0M73.7 337.2h0M74.5 337.3h0M53.3 371.4h0M54.7 371.2h0M53 369.4h0M39.1 365.4h0M60.1 336.4h0M61.4 337.6h0M43.5 347.4h0M41.5 347.9h0M77.5 351.3h0M74.9 350.4h0M50.4 339.2h0M49.5 338.4h0M32.9 337.4h0M28.4 336.4h0M56.3 366.5h0M35.8 331.1h0M52.1 344.6h0M62.7 360.2h0M61.8 323.7h0M68 368.4h0M69 369.5h0M68.2 370h0M40.1 367h0M39.9 327.3h0M40.8 331.6h0M40 329.8h0M60.9 365.1h0M46.1 370.4h0M53 344.1h0M52.2 345.1h0M76 351h0M31.3 360.1h0M70.3 345.1h0M70.9 343.8h0M57.8 368h0M59.2 367.7h0M59.9 369h0M59.4 369.3h0M75.4 359.6h0M76.5 350.8h0M61.7 326.9h0M52 362h0M75.2 347.2h0M73.3 344.5h0M42.6 355.9h0M42.5 331.2h0M45 331h0M68.9 347.8h0M67.8 349.7h0M52.6 327.8h0M29.7 351.1h0M34.6 348.6h0M60.6 369.6h0M30.2 346.4h0M70.8 333.9h0M41.6 333.5h0M58.8 327.7h0M30.8 347.8h0M29.8 348.2h0M30.6 347.2h0M31.9 345.9h0M64.4 354.3h0M51.3 365.3h0M53.6 363.6h0M51.6 362.2h0M47.9 334.7h0M62 344.2h0M30.6 352.3h0M74 360.2h0M75.3 362.1h0M77.5 360.2h0M66.4 362.3h0M68 363.4h0M54.4 363h0M76.6 344.3h0M78 343.8h0" stroke-width="0.8" stroke-opacity="0.7"/>
<path d="M46.4 346.7h0M54.4 367h0M56.6 366.4h0M32.9 345.8h0M33.5 346.6h0M55.4 364.8h0M71 366h0M72.5 365.3h0M37.7 344h0M41.4 353.8h0M68.5 344.6h0M58.3 333.9h0M58.4 334.1h0M39 349.3h0M66.9 333.9h0M70.9 329.7h0M58.6 362.4h0M58.7 362h0M62.2 333.9h0M41.5 343.8h0M39.3 343.8h0M55 325.3h0M59.5 364.3h0M58.1 364.5h0M51.3 337.5h0M33.5 361.5h0M41.6 354.7h0M56.9 363.1h0M56.8 362.9h0M37.1 336.2h0M56.1 352.8h0M74.3 341.8h0M71.4 365.1h0M58.8 369.7h0M32 337.4h0M29.8 344h0M74.4 333.3h0M60.8 368.3h0M48.7 363.6h0M45.9 362.8h0M40 330.8h0M50.9 344.1h0M47.8 343.9h0M55.4 366.1h0M48.3 352.7h0M47.6 351.7h0M73 342.3h0M55 369.6h0M53.8 341.9h0M59.4 355.2h0M62.8 359.4h0M45.3 337.5h0M35.5 336.8h0M65.8 326.8h0M37.6 363h0M59.6 337.4h0M44.3 348.1h0M40.2 347.4h0M29.1 339.2h0M77 352.4h0M64.8 360.5h0M65 360h0M61.1 322.2h0M39.9 364.2h0M39.7 331.7h0M46.8 370.2h0M47.4 370.1h0M76.8 340.2h0M74.8 349.4h0M75.4 350.8h0M72.9 354.5h0M70.7 352.5h0M69.1 352.9h0M45.3 326.5h0M32.4 358.8h0M67.9 345.7h0M36.2 329.1h0M67 352.3h0M69.7 350.4h0M52.3 327.8h0M53 326.8h0M75.1 341.6h0M61.1 370.4h0M61.4 369.1h0M32.1 347h0M63.9 370.2h0M57.3 330.4h0M30.2 348h0M67.4 355.9h0M48.4 324h0M49.7 334.9h0M44.3 349.1h0M79.7 359.3h0M54.4 361.2h0M53.7 363.5h0M49.1 361.5h0M48.2 360.6h0M48.3 360.1h0" stroke-width="1.5" stroke-opacity="0.7"/>
<path d="M55.1 324.2h0M45.9 347.4h0M53.6 343h0M45.7 366.1h0M49.6 328.4h0M32.4 345.5h0M31.5 346.9h0M71.8 365.8h0M36.7 344.4h0M36.8 363.7h0M48 368.2h0M45.7 365.1h0M53.3 371.6h0M59.6 363.5h0M60.7 332.4h0M39.8 341.9h0M53.9 340.7h0M53 340.9h0M35.6 336.6h0M68.2 350.5h0M31.4 343.9h0M75.7 335.2h0M70.3 358.1h0M73.5 335h0M50.8 364.7h0M55.4 369.7h0M49.6 345.3h0M54.7 366h0M48.4 353.1h0M65.9 328.8h0M45.5 335.8h0M52.4 328.6h0M65.4 327.4h0M36.7 365h0M59.3 337.1h0M78.7 350.8h0M50.7 337h0M34.6 332.8h0M63.3 358.8h0M68 368h0M62.2 365.1h0M47.3 328.9h0M72 353.2h0M67.8 327.9h0M69.7 355.5h0M67.6 354.9h0M47.8 330.3h0M51.5 326.7h0M30.3 352.8h0M32.1 343.7h0M31.9 344.8h0M64.2 355.9h0M66.1 356.3h0M71.2 331h0M48.7 342h0M62.6 333.5h0M30.6 350.6h0M30.9 351.4h0M53.7 363.2h0M53.7 360h0" stroke-width="2.4" stroke-opacity="0.9"/>
<path d="M61.5 371.1h0M41.1 356.6h0M47.9 326.1h0M67.3 333.1h0M37.9 328.3h0M51.9 339.3h0M41.9 355.2h0M55.6 362.7h0M54.3 351.6h0M67 350.3h0M63.8 356.9h0M65.4 355.1h0M55.3 332.7h0M40.5 333.3h0M41.4 332.8h0M52.6 327.4h0M70.7 335.7h0M70.5 336.8h0M38.2 364.3h0M28.7 337.3h0M41.4 365.6h0M70 345.7h0M36.7 330.2h0M31.5 351.1h0M73.4 333.8h0M49.7 361.7h0" stroke-width="3.4" stroke-opacity="1"/>
</g></g>
<circle cx="54" cy="347.4" r="25.1" stroke="#c2bfe2" stroke-width="0.6"/>
<radialGradient id="pg32"><stop offset="0.75" stop-color="#f0f0f7"/><stop offset="1" stop-color="#d2d0ea"/></radialGradient>
<clipPath id="pc32"><circle cx="106.9" cy="347.4" r="25.3"/></clipPath>
<circle cx="106.9" cy="347.4" r="25.3" fill="url(#pg32)" stroke="none"/>
<g clip-path="url(#pc32)" stroke-linecap="round">
<g filter="url(#b8)" stroke="#8a83d0" opacity="0.45">
<path d="M126.9 332.9h0M127.9 332.7h0M119.7 367.4h0M91.9 367.2h0M111.9 338.1h0M113.5 338.9h0M119 367.2h0M119 366.6h0M120.7 326.2h0M121.9 326.1h0M87.6 358.5h0M125.8 363.1h0M124.1 363h0M110.7 369.7h0M111.2 370.7h0M129.1 341h0M96.6 324.9h0M95.6 323.8h0M115 370.8h0M114.3 358.2h0M108.5 367.8h0M89.3 333.2h0M89.5 331.4h0M87.7 336.5h0M86.8 337.7h0M127.4 357.4h0M92.8 364.5h0M101.8 329.2h0M83.3 343.7h0M81.6 343.1h0M114.8 370.6h0M115.9 370.9h0M126.3 358.2h0M125.6 357.7h0M112.6 368.7h0M112.5 368.8h0M113.2 369.6h0M90.7 329.1h0M121.8 330.8h0M119.3 332.2h0M94 327.6h0M92.2 327.8h0M124.3 355.6h0M118.8 363.8h0M86.9 355.8h0M111.9 371.7h0M124.1 360.9h0M84.4 338.7h0M84.3 335.7h0M95.3 324.5h0M95.8 323.5h0M111.7 329.1h0M112.8 327.2h0M112.7 328.6h0M85.7 339.8h0M85.1 338.4h0M85.6 336.7h0M87.1 364.7h0M110.7 332.5h0M86.5 358.8h0M85.7 358h0M99.1 370.2h0M114.8 367.7h0M115.9 368.1h0M113 367h0M125.5 331.9h0M115.8 327.8h0M116.3 328.7h0M116.5 328.3h0M123 335.2h0M85.5 359.9h0M91.9 366.4h0M117.9 368.5h0M94.4 327.7h0M113 327.7h0M86.9 341.1h0M85.6 341h0M87.4 341.3h0M122.9 366.2h0" stroke-width="2.1"/>
<path d="M128.2 334.1h0M128.2 332.1h0M111 337.9h0M87.3 333.8h0M87.5 332.5h0M121.5 327.3h0M111.5 324.1h0M125.9 362.2h0M110 372h0M124.4 363.9h0M116.7 368.8h0M97.6 335.3h0M117.5 360.8h0M108 367.3h0M111.9 362.1h0M111.1 360.8h0M127.1 356.1h0M93 367h0M92.1 364.3h0M92.9 362.6h0M101.6 370.5h0M122.1 366h0M82.5 346.1h0M82.5 349.4h0M113.3 369.1h0M122.2 330.1h0M98.1 341.2h0M84 356.2h0M88.3 356.3h0M86.9 355.6h0M84.4 337.4h0M87.7 355.3h0M109.5 330.1h0M109.8 331.9h0M126.1 338.6h0M126.7 338.5h0M110.8 322.9h0M109.3 320.1h0M113.4 368.4h0M122.5 331.3h0M115 344.2h0M129.4 345.2h0M100.2 326.9h0M99.2 327.2h0M99.7 327.4h0M117.3 368.3h0M118.4 367.1h0" stroke-width="2.7"/>
<path d="M83.2 349.6h0M83.4 350h0M113.1 340.7h0M86 334.2h0M88.4 332.6h0M121.9 325.6h0M122.4 341.3h0M126.9 360.6h0M83.9 338.1h0M120.2 328.5h0M115.5 358.4h0M88.3 339h0M125.8 355.9h0M108.3 343.7h0M86.7 354h0M87 351.1h0M83.1 348.9h0M84.8 348.1h0M85 335.5h0M106.7 335.9h0M98.1 325.9h0M96.7 325.1h0M87.8 362.6h0M88.4 363h0M108.7 329h0M125.9 340.7h0M112.6 327h0M84.6 342.7h0" stroke-width="3.5"/>
</g><g filter="url(#b)" stroke="#3b30a2" opacity="0.8">
<path d="M126.9 332.9h0M127.9 332.7h0M119.7 367.4h0M91.9 367.2h0M111.9 338.1h0M113.5 338.9h0M119 367.2h0M119 366.6h0M120.7 326.2h0M121.9 326.1h0M87.6 358.5h0M125.8 363.1h0M124.1 363h0M110.7 369.7h0M111.2 370.7h0M129.1 341h0M96.6 324.9h0M95.6 323.8h0M115 370.8h0M114.3 358.2h0M108.5 367.8h0M89.3 333.2h0M89.5 331.4h0M87.7 336.5h0M86.8 337.7h0M127.4 357.4h0M92.8 364.5h0M101.8 329.2h0M83.3 343.7h0M81.6 343.1h0M114.8 370.6h0M115.9 370.9h0M126.3 358.2h0M125.6 357.7h0M112.6 368.7h0M112.5 368.8h0M113.2 369.6h0M90.7 329.1h0M121.8 330.8h0M119.3 332.2h0M94 327.6h0M92.2 327.8h0M124.3 355.6h0M118.8 363.8h0M86.9 355.8h0M111.9 371.7h0M124.1 360.9h0M84.4 338.7h0M84.3 335.7h0M95.3 324.5h0M95.8 323.5h0M111.7 329.1h0M112.8 327.2h0M112.7 328.6h0M85.7 339.8h0M85.1 338.4h0M85.6 336.7h0M87.1 364.7h0M110.7 332.5h0M86.5 358.8h0M85.7 358h0M99.1 370.2h0M114.8 367.7h0M115.9 368.1h0M113 367h0M125.5 331.9h0M115.8 327.8h0M116.3 328.7h0M116.5 328.3h0M123 335.2h0M85.5 359.9h0M91.9 366.4h0M117.9 368.5h0M94.4 327.7h0M113 327.7h0M86.9 341.1h0M85.6 341h0M87.4 341.3h0M122.9 366.2h0" stroke-width="0.8" stroke-opacity="0.7"/>
<path d="M128.2 334.1h0M128.2 332.1h0M111 337.9h0M87.3 333.8h0M87.5 332.5h0M121.5 327.3h0M111.5 324.1h0M125.9 362.2h0M110 372h0M124.4 363.9h0M116.7 368.8h0M97.6 335.3h0M117.5 360.8h0M108 367.3h0M111.9 362.1h0M111.1 360.8h0M127.1 356.1h0M93 367h0M92.1 364.3h0M92.9 362.6h0M101.6 370.5h0M122.1 366h0M82.5 346.1h0M82.5 349.4h0M113.3 369.1h0M122.2 330.1h0M98.1 341.2h0M84 356.2h0M88.3 356.3h0M86.9 355.6h0M84.4 337.4h0M87.7 355.3h0M109.5 330.1h0M109.8 331.9h0M126.1 338.6h0M126.7 338.5h0M110.8 322.9h0M109.3 320.1h0M113.4 368.4h0M122.5 331.3h0M115 344.2h0M129.4 345.2h0M100.2 326.9h0M99.2 327.2h0M99.7 327.4h0M117.3 368.3h0M118.4 367.1h0" stroke-width="1.4" stroke-opacity="0.8"/>
<path d="M83.2 349.6h0M83.4 350h0M113.1 340.7h0M86 334.2h0M88.4 332.6h0M121.9 325.6h0M122.4 341.3h0M126.9 360.6h0M83.9 338.1h0M120.2 328.5h0M115.5 358.4h0M88.3 339h0M125.8 355.9h0M108.3 343.7h0M86.7 354h0M87 351.1h0M83.1 348.9h0M84.8 348.1h0M85 335.5h0M106.7 335.9h0M98.1 325.9h0M96.7 325.1h0M87.8 362.6h0M88.4 363h0M108.7 329h0M125.9 340.7h0M112.6 327h0M84.6 342.7h0" stroke-width="2.2" stroke-opacity="1"/>
</g></g>
<circle cx="106.9" cy="347.4" r="25" stroke="#c8c6e4" stroke-width="0.6"/>
<radialGradient id="pg33"><stop offset="0.75" stop-color="#d6d3ed"/><stop offset="1" stop-color="#b4afdc"/></radialGradient>
<clipPath id="pc33"><circle cx="160.5" cy="347.3" r="25.4"/></clipPath>
<circle cx="160.5" cy="347.3" r="25.4" fill="url(#pg33)" stroke="none"/>
<g clip-path="url(#pc33)" stroke-linecap="round">
<g filter="url(#b8)" stroke="#8a83d0" opacity="0.55">
<path d="M169.3 368.1h0M169 367.7h0M150.9 325.4h0M175.5 362h0M165.8 350.8h0M166.1 351.7h0M177.4 330.6h0M180.6 351.8h0M183.4 351h0M183.1 350.7h0M158.1 348.4h0M172.7 333.9h0M170.4 352.9h0M149.4 334.1h0M138.9 354.5h0M145.2 361.2h0M146 361.4h0M135.6 348.3h0M183.6 342.6h0M141.5 356.4h0M170.8 356.3h0M150.1 367.5h0M149.8 367.9h0M148.5 367.5h0M170.2 336.7h0M171.4 339.4h0M171.4 364h0M157.5 329h0M150.2 369.1h0M145.9 371.3h0M158.1 339.6h0M155.7 336.3h0M150 332h0M148.5 368.5h0M157.1 332.6h0M178.3 356.8h0M177.9 356h0M141.6 333.4h0M142.8 331.3h0M161.8 327.2h0M162.8 330.6h0M138.1 347.5h0M150.1 340.2h0M144 330h0M142.8 331.2h0M142.1 334.8h0M159.4 354.4h0M139.6 354.1h0M140.2 355.8h0M140.9 356.6h0M175 332.2h0M152 353.5h0M150.6 352.7h0M159.1 361.4h0M157.1 333h0M170.8 336.4h0M161.7 328.5h0M161.3 332.1h0M139.6 338.6h0M162.5 352.8h0M139.4 339h0M142.9 363.6h0M182.5 348h0M135.7 345.7h0M142.4 330.6h0M139.7 332.2h0M179.9 355.4h0M144.6 335.3h0M172.7 341.9h0M152.9 324.8h0M180.1 342.5h0M174.8 366.4h0M152.4 350.6h0M184.6 345.8h0M148.7 328.3h0M148.5 328h0M172.6 335.5h0M164.1 339.3h0M179.2 330.8h0M140.7 337.4h0M156.1 346.3h0M155.8 347.7h0M167.4 355.7h0M166.6 323.2h0M162 356.1h0M173.9 365.3h0M145.4 329.5h0M180.1 358.7h0M177.5 337.4h0M154.8 358.3h0M155.4 360.3h0M167.7 349.7h0M174.6 361.8h0M166.3 342h0M166.3 344.4h0M163.5 366.4h0M151.1 331.3h0M150.4 332.5h0M164.8 325.4h0M165.3 326.9h0M147.6 348.8h0M171.2 346.8h0M172.4 345.5h0M171.8 346h0M169.7 326.1h0M173 325.5h0M148.2 363.3h0" stroke-width="2.3"/>
<path d="M168.8 328.9h0M166.1 367.3h0M149.8 325.5h0M182.6 348.2h0M181.5 345.5h0M180 344h0M143.6 350.2h0M172.7 352.4h0M175.7 329.6h0M175.7 333.8h0M161.9 358.3h0M161.1 357.2h0M181.4 349.2h0M163.8 371.4h0M172.8 333.5h0M173.5 332.7h0M169 345.7h0M150.4 356.2h0M145.1 362.1h0M145.1 361.5h0M178.6 360h0M136.9 342.6h0M140.3 356.2h0M141 359h0M169.8 329.6h0M140.3 356.7h0M137.7 357.2h0M148.6 339.6h0M170.8 336.8h0M139.3 340.7h0M156.1 327.9h0M155.7 328.1h0M157.3 328.3h0M165.5 366.2h0M165.5 367.3h0M166.4 330.6h0M164.7 330.5h0M139.2 337.5h0M139.5 335.3h0M175.1 361h0M180 341.2h0M182 339.6h0M180.3 336.2h0M173.2 361.8h0M151.5 341.7h0M159.6 322.9h0M170.6 366.5h0M183.3 337.2h0M158.9 331h0M179.1 356.3h0M145 331.8h0M163.4 329.4h0M138.5 348.2h0M156.6 369.4h0M169.2 345.8h0M143.4 333.2h0M175.2 329.1h0M172.9 333.6h0M183.5 340.3h0M162.8 328.4h0M142 338h0M164.5 351.4h0M147 368.2h0M143.4 364.4h0M144.3 364.2h0M184.2 346.5h0M183.6 347.6h0M184 349.5h0M141.1 330.2h0M139 335.1h0M169.1 330.6h0M170.1 328.9h0M176.5 340.8h0M176.3 328h0M170 367.6h0M171.3 368.1h0M171.8 368.4h0M171.2 370.3h0M163.4 370.3h0M164.3 369.6h0M173.9 366h0M146.4 362.3h0M167.2 326.2h0M168.2 325.5h0M146.2 346h0M147.7 356.5h0M143.9 329.2h0M144.1 329.5h0M164.6 339.1h0M183.4 329.5h0M182 329.6h0M176.1 365.1h0M175.5 367.5h0M152.2 361.7h0M148.6 351.8h0M139.8 335.9h0M138.2 338.5h0M160.1 338.1h0M160.6 338h0M166.2 363h0M155.9 346.8h0M167.8 356.5h0M143.9 344.6h0M145.5 330.4h0M175.1 359.3h0M173.3 337.5h0M179.1 358.8h0M167.5 329.6h0M164.7 329.8h0M163.9 329.5h0M180.2 343.6h0M182.4 353.5h0M172.7 359.4h0M142.8 363.1h0M165.8 368.3h0M148.4 333.9h0M174.2 346.1h0M179.4 354.7h0" stroke-width="3.3"/>
<path d="M173.2 353.3h0M175.9 331h0M178 349.6h0M155.6 350.3h0M175.2 331.1h0M141.5 358.6h0M160.1 371.1h0M170 346h0M167.6 345.7h0M181.5 358.4h0M182.7 355.9h0M138.4 337.1h0M172.1 356.9h0M138.5 357.2h0M172 336.1h0M140.9 339.6h0M146.4 369.9h0M147 371.3h0M164.6 367.3h0M163.9 331.4h0M165.6 331.7h0M138.6 337.6h0M143.2 363.4h0M151.9 369.2h0M147.3 331h0M148.6 329.7h0M157.1 331.5h0M172.3 332.4h0M179.3 356.3h0M147.6 337.8h0M149.9 359.7h0M182.7 349h0M155.4 369h0M155.1 369.3h0M163.2 331.4h0M156.7 371.2h0M160.2 353.3h0M177 349h0M176.9 347.8h0M165.4 370.6h0M158.1 333.8h0M171.4 335.2h0M136.4 340.9h0M184.7 339.6h0M140.7 338.5h0M165.7 355.5h0M147.6 368.5h0M138.4 342.3h0M148.3 333.8h0M139.4 338.4h0M166.5 351.1h0M169.4 327.9h0M172.4 341.7h0M180.7 342.2h0M152.7 348.4h0M166.9 325.6h0M148.5 349.7h0M157.8 370.4h0M166.3 370.5h0M170.6 338.6h0M172.9 334.4h0M148.3 359.8h0M144.4 329.3h0M162.9 344.2h0M163.7 341.6h0M173.5 364.7h0M151 362.1h0M160.5 338.1h0M166.7 355h0M175.3 363.1h0M176.6 363.4h0M168.8 340.9h0M173 335.8h0M181.2 345.3h0M165.7 344.9h0M154.8 330.6h0M154.2 330.6h0M157.2 330.4h0M177 360.8h0M154.3 360h0M172.6 326.2h0M172.4 325.8h0" stroke-width="4.4"/>
<path d="M169.9 369.6h0M150.1 326.2h0M171.2 350.7h0M163.8 354.9h0M164.8 356.9h0M155.4 350h0M172.1 350.5h0M133.9 349.1h0M133.3 347.8h0M153 367.7h0M150.5 367.4h0M171.3 363.9h0M170.1 364.9h0M167.3 366.7h0M142.3 364.3h0M157.3 330.8h0M158.4 329.7h0M174.4 331.4h0M174.7 331.9h0M173.7 350.5h0M151.2 366.1h0M162 330.2h0M171.5 326.2h0M171 327h0M172.9 332.5h0M171.9 340.8h0M173.8 369.2h0M153.2 347.9h0M151.8 350.2h0M148.7 356.7h0M142.1 329.3h0M144.4 329.2h0M162.6 335.4h0M166.8 349.3h0M165.5 349.7h0M148.8 347.4h0" stroke-width="5.5"/>
</g><g filter="url(#b)" stroke="#3b30a2" opacity="0.8">
<path d="M169.3 368.1h0M169 367.7h0M150.9 325.4h0M175.5 362h0M165.8 350.8h0M166.1 351.7h0M177.4 330.6h0M180.6 351.8h0M183.4 351h0M183.1 350.7h0M158.1 348.4h0M172.7 333.9h0M170.4 352.9h0M149.4 334.1h0M138.9 354.5h0M145.2 361.2h0M146 361.4h0M135.6 348.3h0M183.6 342.6h0M141.5 356.4h0M170.8 356.3h0M150.1 367.5h0M149.8 367.9h0M148.5 367.5h0M170.2 336.7h0M171.4 339.4h0M171.4 364h0M157.5 329h0M150.2 369.1h0M145.9 371.3h0M158.1 339.6h0M155.7 336.3h0M150 332h0M148.5 368.5h0M157.1 332.6h0M178.3 356.8h0M177.9 356h0M141.6 333.4h0M142.8 331.3h0M161.8 327.2h0M162.8 330.6h0M138.1 347.5h0M150.1 340.2h0M144 330h0M142.8 331.2h0M142.1 334.8h0M159.4 354.4h0M139.6 354.1h0M140.2 355.8h0M140.9 356.6h0M175 332.2h0M152 353.5h0M150.6 352.7h0M159.1 361.4h0M157.1 333h0M170.8 336.4h0M161.7 328.5h0M161.3 332.1h0M139.6 338.6h0M162.5 352.8h0M139.4 339h0M142.9 363.6h0M182.5 348h0M135.7 345.7h0M142.4 330.6h0M139.7 332.2h0M179.9 355.4h0M144.6 335.3h0M172.7 341.9h0M152.9 324.8h0M180.1 342.5h0M174.8 366.4h0M152.4 350.6h0M184.6 345.8h0M148.7 328.3h0M148.5 328h0M172.6 335.5h0M164.1 339.3h0M179.2 330.8h0M140.7 337.4h0M156.1 346.3h0M155.8 347.7h0M167.4 355.7h0M166.6 323.2h0M162 356.1h0M173.9 365.3h0M145.4 329.5h0M180.1 358.7h0M177.5 337.4h0M154.8 358.3h0M155.4 360.3h0M167.7 349.7h0M174.6 361.8h0M166.3 342h0M166.3 344.4h0M163.5 366.4h0M151.1 331.3h0M150.4 332.5h0M164.8 325.4h0M165.3 326.9h0M147.6 348.8h0M171.2 346.8h0M172.4 345.5h0M171.8 346h0M169.7 326.1h0M173 325.5h0M148.2 363.3h0" stroke-width="1.0" stroke-opacity="0.7"/>
<path d="M168.8 328.9h0M166.1 367.3h0M149.8 325.5h0M182.6 348.2h0M181.5 345.5h0M180 344h0M143.6 350.2h0M172.7 352.4h0M175.7 329.6h0M175.7 333.8h0M161.9 358.3h0M161.1 357.2h0M181.4 349.2h0M163.8 371.4h0M172.8 333.5h0M173.5 332.7h0M169 345.7h0M150.4 356.2h0M145.1 362.1h0M145.1 361.5h0M178.6 360h0M136.9 342.6h0M140.3 356.2h0M141 359h0M169.8 329.6h0M140.3 356.7h0M137.7 357.2h0M148.6 339.6h0M170.8 336.8h0M139.3 340.7h0M156.1 327.9h0M155.7 328.1h0M157.3 328.3h0M165.5 366.2h0M165.5 367.3h0M166.4 330.6h0M164.7 330.5h0M139.2 337.5h0M139.5 335.3h0M175.1 361h0M180 341.2h0M182 339.6h0M180.3 336.2h0M173.2 361.8h0M151.5 341.7h0M159.6 322.9h0M170.6 366.5h0M183.3 337.2h0M158.9 331h0M179.1 356.3h0M145 331.8h0M163.4 329.4h0M138.5 348.2h0M156.6 369.4h0M169.2 345.8h0M143.4 333.2h0M175.2 329.1h0M172.9 333.6h0M183.5 340.3h0M162.8 328.4h0M142 338h0M164.5 351.4h0M147 368.2h0M143.4 364.4h0M144.3 364.2h0M184.2 346.5h0M183.6 347.6h0M184 349.5h0M141.1 330.2h0M139 335.1h0M169.1 330.6h0M170.1 328.9h0M176.5 340.8h0M176.3 328h0M170 367.6h0M171.3 368.1h0M171.8 368.4h0M171.2 370.3h0M163.4 370.3h0M164.3 369.6h0M173.9 366h0M146.4 362.3h0M167.2 326.2h0M168.2 325.5h0M146.2 346h0M147.7 356.5h0M143.9 329.2h0M144.1 329.5h0M164.6 339.1h0M183.4 329.5h0M182 329.6h0M176.1 365.1h0M175.5 367.5h0M152.2 361.7h0M148.6 351.8h0M139.8 335.9h0M138.2 338.5h0M160.1 338.1h0M160.6 338h0M166.2 363h0M155.9 346.8h0M167.8 356.5h0M143.9 344.6h0M145.5 330.4h0M175.1 359.3h0M173.3 337.5h0M179.1 358.8h0M167.5 329.6h0M164.7 329.8h0M163.9 329.5h0M180.2 343.6h0M182.4 353.5h0M172.7 359.4h0M142.8 363.1h0M165.8 368.3h0M148.4 333.9h0M174.2 346.1h0M179.4 354.7h0" stroke-width="2.0" stroke-opacity="0.8"/>
<path d="M173.2 353.3h0M175.9 331h0M178 349.6h0M155.6 350.3h0M175.2 331.1h0M141.5 358.6h0M160.1 371.1h0M170 346h0M167.6 345.7h0M181.5 358.4h0M182.7 355.9h0M138.4 337.1h0M172.1 356.9h0M138.5 357.2h0M172 336.1h0M140.9 339.6h0M146.4 369.9h0M147 371.3h0M164.6 367.3h0M163.9 331.4h0M165.6 331.7h0M138.6 337.6h0M143.2 363.4h0M151.9 369.2h0M147.3 331h0M148.6 329.7h0M157.1 331.5h0M172.3 332.4h0M179.3 356.3h0M147.6 337.8h0M149.9 359.7h0M182.7 349h0M155.4 369h0M155.1 369.3h0M163.2 331.4h0M156.7 371.2h0M160.2 353.3h0M177 349h0M176.9 347.8h0M165.4 370.6h0M158.1 333.8h0M171.4 335.2h0M136.4 340.9h0M184.7 339.6h0M140.7 338.5h0M165.7 355.5h0M147.6 368.5h0M138.4 342.3h0M148.3 333.8h0M139.4 338.4h0M166.5 351.1h0M169.4 327.9h0M172.4 341.7h0M180.7 342.2h0M152.7 348.4h0M166.9 325.6h0M148.5 349.7h0M157.8 370.4h0M166.3 370.5h0M170.6 338.6h0M172.9 334.4h0M148.3 359.8h0M144.4 329.3h0M162.9 344.2h0M163.7 341.6h0M173.5 364.7h0M151 362.1h0M160.5 338.1h0M166.7 355h0M175.3 363.1h0M176.6 363.4h0M168.8 340.9h0M173 335.8h0M181.2 345.3h0M165.7 344.9h0M154.8 330.6h0M154.2 330.6h0M157.2 330.4h0M177 360.8h0M154.3 360h0M172.6 326.2h0M172.4 325.8h0" stroke-width="3.1" stroke-opacity="0.9"/>
<path d="M169.9 369.6h0M150.1 326.2h0M171.2 350.7h0M163.8 354.9h0M164.8 356.9h0M155.4 350h0M172.1 350.5h0M133.9 349.1h0M133.3 347.8h0M153 367.7h0M150.5 367.4h0M171.3 363.9h0M170.1 364.9h0M167.3 366.7h0M142.3 364.3h0M157.3 330.8h0M158.4 329.7h0M174.4 331.4h0M174.7 331.9h0M173.7 350.5h0M151.2 366.1h0M162 330.2h0M171.5 326.2h0M171 327h0M172.9 332.5h0M171.9 340.8h0M173.8 369.2h0M153.2 347.9h0M151.8 350.2h0M148.7 356.7h0M142.1 329.3h0M144.4 329.2h0M162.6 335.4h0M166.8 349.3h0M165.5 349.7h0M148.8 347.4h0" stroke-width="4.2" stroke-opacity="1"/>
</g></g>
<circle cx="160.5" cy="347.3" r="25.1" stroke="#aaa5d6" stroke-width="0.6"/>
<radialGradient id="pg34"><stop offset="0.75" stop-color="#eeedf7"/><stop offset="1" stop-color="#cdcae8"/></radialGradient>
<clipPath id="pc34"><circle cx="214.1" cy="347.3" r="25.3"/></clipPath>
<circle cx="214.1" cy="347.3" r="25.3" fill="url(#pg34)" stroke="none"/>
<g clip-path="url(#pc34)" stroke-linecap="round">
<g filter="url(#b8)" stroke="#8a83d0" opacity="0.45">
<path d="M235 340.3h0M205.2 368.3h0M204.5 369.7h0M224.4 368h0M221 367.3h0M216.6 372h0M202.7 358.6h0M198.1 330.3h0M229.2 332.4h0M212.5 351.8h0M215.4 340.9h0M192.4 353h0M219.9 326.3h0M223.7 367.2h0M227 326.3h0M190.1 348.8h0M191.3 347.6h0M237.5 342.2h0M191.3 342.9h0M191.1 344h0M194.8 358.5h0M195.4 357.5h0M218.8 364.8h0M218 369.5h0M216.3 370h0M231.1 336.6h0M229.8 338.1h0M230.1 336.6h0M230.6 332.4h0M217.6 371.9h0M214.7 372h0M232 342.9h0M190.9 351.4h0M227.3 366.3h0M210.1 365.4h0M210.9 365h0M211.5 326.3h0M240.4 343h0M237.1 342.8h0M225.6 343.5h0M232.5 331.9h0M233.5 330.5h0M220.5 352.3h0M220.4 352.6h0M189.1 342.1h0M188.9 342.7h0M234.7 359.1h0M232.5 342.4h0M220.1 341.4h0M193.3 357.5h0M204.8 327.1h0M233.8 346.4h0M227.1 360.1h0M228.4 358.1h0M198.4 345.4h0M200.1 346.8h0M213.5 351.1h0M211 349.3h0M209.3 348.4h0M232.5 355.5h0M210 362h0M192.1 355.9h0M236.1 358.7h0M218.6 325.8h0M219.3 325.9h0M220.9 323.8h0M237.2 338.3h0M236.6 336.2h0M222.8 338.7h0" stroke-width="2.1"/>
<path d="M204.3 368.1h0M205.7 369.2h0M204.4 358.5h0M203.3 358.7h0M203.2 358h0M230.2 330.5h0M217.6 362.9h0M219.2 363.1h0M227.8 327.4h0M226.2 327.2h0M190.3 348.7h0M236.2 341.7h0M198.4 331.1h0M220.7 363.3h0M221.2 365.3h0M216.9 366.7h0M232 338h0M232.1 347.5h0M217.7 372.4h0M232 343.9h0M232.4 343.2h0M218.3 352.9h0M227.2 328.9h0M228.8 328.1h0M229.9 327.4h0M206.5 364.4h0M238 351.3h0M211.2 324.9h0M209.2 325.8h0M209.9 326.2h0M236.8 344.2h0M238.9 343.2h0M242.4 341.1h0M205.9 328.4h0M215.3 369.2h0M220.8 348.4h0M232.3 333.7h0M209.5 371.7h0M204.7 326.4h0M226.9 367.3h0M191.8 346.9h0M191.5 346.5h0M197.8 343.5h0M198.7 347.2h0M203.1 366.9h0M235.1 358.4h0M209.8 322.7h0M209.5 323.4h0M236.9 337h0M236.9 338.7h0M224.8 352.4h0M226.1 353.1h0" stroke-width="2.8"/>
<path d="M221 350.1h0M224.8 368.2h0M203.2 368.5h0M230.1 332.1h0M211 351h0M227.6 329.8h0M224.4 366.2h0M227.8 350h0M227.2 326.2h0M228.2 325.4h0M221 364.3h0M232.5 350h0M190.8 351.1h0M190.7 349.7h0M220.8 351.8h0M222.9 349.6h0M228.9 364.6h0M205.9 367.2h0M211.4 324.1h0M210.9 324.7h0M210.5 325h0M229.7 329.7h0M218.4 351.1h0M192.2 343.1h0M234.9 358.7h0M232.2 342.3h0M227.2 358.7h0M193.7 356.4h0M232.8 356.5h0M209.3 325.1h0M209 322.6h0M234 360.7h0" stroke-width="3.7"/>
<path d="M221.8 348.6h0M214.5 342.5h0M216.1 342.5h0M215.7 340.8h0M217.9 367.8h0M221.7 349.3h0M238.6 349.9h0M237.3 345h0M237.3 343.3h0M219.1 349.6h0M227.3 359.2h0M234.7 355.3h0" stroke-width="4.7"/>
</g><g filter="url(#b)" stroke="#3b30a2" opacity="0.8">
<path d="M235 340.3h0M205.2 368.3h0M204.5 369.7h0M224.4 368h0M221 367.3h0M216.6 372h0M202.7 358.6h0M198.1 330.3h0M229.2 332.4h0M212.5 351.8h0M215.4 340.9h0M192.4 353h0M219.9 326.3h0M223.7 367.2h0M227 326.3h0M190.1 348.8h0M191.3 347.6h0M237.5 342.2h0M191.3 342.9h0M191.1 344h0M194.8 358.5h0M195.4 357.5h0M218.8 364.8h0M218 369.5h0M216.3 370h0M231.1 336.6h0M229.8 338.1h0M230.1 336.6h0M230.6 332.4h0M217.6 371.9h0M214.7 372h0M232 342.9h0M190.9 351.4h0M227.3 366.3h0M210.1 365.4h0M210.9 365h0M211.5 326.3h0M240.4 343h0M237.1 342.8h0M225.6 343.5h0M232.5 331.9h0M233.5 330.5h0M220.5 352.3h0M220.4 352.6h0M189.1 342.1h0M188.9 342.7h0M234.7 359.1h0M232.5 342.4h0M220.1 341.4h0M193.3 357.5h0M204.8 327.1h0M233.8 346.4h0M227.1 360.1h0M228.4 358.1h0M198.4 345.4h0M200.1 346.8h0M213.5 351.1h0M211 349.3h0M209.3 348.4h0M232.5 355.5h0M210 362h0M192.1 355.9h0M236.1 358.7h0M218.6 325.8h0M219.3 325.9h0M220.9 323.8h0M237.2 338.3h0M236.6 336.2h0M222.8 338.7h0" stroke-width="0.8" stroke-opacity="0.7"/>
<path d="M204.3 368.1h0M205.7 369.2h0M204.4 358.5h0M203.3 358.7h0M203.2 358h0M230.2 330.5h0M217.6 362.9h0M219.2 363.1h0M227.8 327.4h0M226.2 327.2h0M190.3 348.7h0M236.2 341.7h0M198.4 331.1h0M220.7 363.3h0M221.2 365.3h0M216.9 366.7h0M232 338h0M232.1 347.5h0M217.7 372.4h0M232 343.9h0M232.4 343.2h0M218.3 352.9h0M227.2 328.9h0M228.8 328.1h0M229.9 327.4h0M206.5 364.4h0M238 351.3h0M211.2 324.9h0M209.2 325.8h0M209.9 326.2h0M236.8 344.2h0M238.9 343.2h0M242.4 341.1h0M205.9 328.4h0M215.3 369.2h0M220.8 348.4h0M232.3 333.7h0M209.5 371.7h0M204.7 326.4h0M226.9 367.3h0M191.8 346.9h0M191.5 346.5h0M197.8 343.5h0M198.7 347.2h0M203.1 366.9h0M235.1 358.4h0M209.8 322.7h0M209.5 323.4h0M236.9 337h0M236.9 338.7h0M224.8 352.4h0M226.1 353.1h0" stroke-width="1.5" stroke-opacity="0.7"/>
<path d="M221 350.1h0M224.8 368.2h0M203.2 368.5h0M230.1 332.1h0M211 351h0M227.6 329.8h0M224.4 366.2h0M227.8 350h0M227.2 326.2h0M228.2 325.4h0M221 364.3h0M232.5 350h0M190.8 351.1h0M190.7 349.7h0M220.8 351.8h0M222.9 349.6h0M228.9 364.6h0M205.9 367.2h0M211.4 324.1h0M210.9 324.7h0M210.5 325h0M229.7 329.7h0M218.4 351.1h0M192.2 343.1h0M234.9 358.7h0M232.2 342.3h0M227.2 358.7h0M193.7 356.4h0M232.8 356.5h0M209.3 325.1h0M209 322.6h0M234 360.7h0" stroke-width="2.4" stroke-opacity="0.9"/>
<path d="M221.8 348.6h0M214.5 342.5h0M216.1 342.5h0M215.7 340.8h0M217.9 367.8h0M221.7 349.3h0M238.6 349.9h0M237.3 345h0M237.3 343.3h0M219.1 349.6h0M227.3 359.2h0M234.7 355.3h0" stroke-width="3.4" stroke-opacity="1"/>
</g></g>
<circle cx="214.1" cy="347.3" r="25" stroke="#c2bfe2" stroke-width="0.6"/>
<text transform="translate(2.6 389.8)scale(1 1.02)" font-weight="bold" font-size="14.2">J</text>
<text transform="translate(53.3 402)scale(1 1.04)" text-anchor="middle">shNC</text>
<text transform="translate(106.9 402)scale(1 1.04)" text-anchor="middle">shFUT8#1</text>
<text transform="translate(160.1 390.8)scale(1 1.04)" text-anchor="middle">shNC</text>
<text transform="translate(160.1 402)scale(1 1.04)" text-anchor="middle">+NaLac</text>
<text transform="translate(214.4 390.8)scale(1 1.04)" text-anchor="middle">shFUT8#1</text>
<text transform="translate(214.4 402)scale(1 1.04)" text-anchor="middle">+NaLac</text>
<text transform="translate(21.6 430.4)rotate(-90)scale(1 1.04)" text-anchor="middle">786-O</text>
<clipPath id="mc41"><rect x="28.5" y="404.5" width="51" height="51"/></clipPath>
<rect x="28.5" y="404.5" width="51" height="51" fill="#e9e9ef" stroke="none"/>
<g clip-path="url(#mc41)" stroke-linecap="round" filter="url(#b6)">
<path d="M68.5 429.1l5.7 -4.3M56.9 409.3l6.5 -3.6M78.4 442.1l-6.7 -5M56.3 436l7.7 -1M60.3 422.7l4.4 5.2M71.2 439.3l4.3 -2.7M49 453.7l4.9 0.3M64.6 413.6l2.4 3.6M61.1 409.4l2.8 -3.2M54.7 426.6l3.9 6.6M62.4 444.2l6.5 0.5M73.3 451.8l4.5 -2.2M56.8 448.2l5.8 -2.7M67.5 442.6l6.3 -3.2M68.8 428.3l6.5 -2.7M28.7 445.5l6.5 3.3M33.1 411l7 -3.8M61 420.9l2.7 -4M61.2 404.3l1.5 4.3M75.4 442.7l6.4 -2M47.4 417.2l6.2 2.2M72.2 450.5l4.8 -3.9M44.8 417.8l-3.2 -7.8M53.4 412.8l0.4 -7.6M77.2 414.6l3.1 -5.1M73.9 446.9l4.4 -5.1M49.6 432.9l4.5 -1.5M54.6 428.3l-0.2 -5.2M33.2 409.6l5.7 -0.4M70 452.9l4.6 -0.4M45.6 418.3l-4.6 -1M58 432.4l1.5 -4.4M47.2 413.2l4 -4M61.4 437.1l3.6 -0.8M50.6 409.9l-3.1 -4.9M60.8 437.3l2.9 -2.3M27.2 444.7l3.2 -7.8M58 412.3l-4.5 -4.9M27.6 421.3l3.5 7.4M53.7 423.6l2.8 -3.9M62.1 420.6l4.2 -5.2M77.4 444.6l-3.3 -2.9M76.6 432.1l1 -3.7M37.4 445.7l4.1 -5.3M73.1 409.7l-4.1 -7.3M70.7 450.8l2.9 -5.9M44.6 433.1l-2.6 -7.1M68.4 446.8l-5.1 -4.3M56 442.7l2.2 -5.9M32 434.7l3.9 -1.5M51.8 433.5l3.8 -1.9M63 436l2.5 -4.1M64.5 407.2l6 -5.3" stroke="#ab99da" stroke-width="1.8" opacity="0.55"/>
<path d="M44.8 415.9l6.4 0.7M46 439.4l4.1 4.9M70.6 417.4l1.5 -3.8M31.8 413.2l-4.4 -3.6M28.5 448.1l4 0.7M75.7 441.1l-3.6 -6.3M69.6 456.4l4.4 -5.6M43.6 452.8l-2 -5M58.9 409.4l8.2 2.3M75.8 440l1.4 -5.9M63.6 419.7l0.2 -6M33.7 428.5l8.2 0.4M38 447.6l0.9 -4.3M70.9 431l4.2 -0.6M27.9 449.6l4 -6.1M35.6 433.6l4.7 -4.4M55.3 443.2l4.4 -4M31.3 425.6l3 -4.3M38.8 454.7l-0.7 -8.3M70.4 451.9l7.6 -1.6M35.8 453l2.5 -5.3M52.8 419.8l0.7 -4.8M42.7 449.2l-3.3 -6.5M77.6 417.9l3.3 4.4M27.1 439.4l4.1 -3.7M33.2 425.6l8.3 0.8M70.7 451.9l6.8 -3.4M70.6 408.3l-5.7 -5.9M45.4 451l4.1 4.5M40.3 447.9l3.8 -6.5M43.4 454.8l7.4 -3.7M57.6 452.3l-5.6 -3.9M69.7 456l2.9 -4.7M45.5 426l-4.4 -2.5M60.6 429.1l4.2 -3.8M51.4 444.2l3.3 -1.8M45.4 419.2l0.5 -3.8M47.2 426.7l6.8 -3.4M55.9 440.8l7.7 -2.8M34.5 443.1l4 1.8M44.3 445.9l4.1 0.6M38.3 429.1l4.5 -3.8M71.5 423.1l-3.8 -6.3M52.6 412.8l-5.9 -5.5M60.5 406.2l-4.3 -2.1M44.2 431.3l1.6 7.8M76.8 441.5l4.9 -5.6M66.5 421.9l5.2 5.1M42.4 455.7l-5.8 -1.9M32.1 438.3l3.4 -1.8M58.8 453.9l3.3 -3.1M78.1 443.4l-4.7 -6" stroke="#ab99da" stroke-width="3.0" opacity="0.55"/>
<path d="M47.5 416.2l1 0.1M47.9 441.7l0.7 0.8M71.1 427.1l0.9 -0.7M60.4 407.4l1 -0.6M71.1 416.2l0.2 -0.6M76 440.3l-1.1 -0.8M58.7 435.7l1.2 -0.2M62.1 424.7l0.7 0.8M29.9 411.6l-0.7 -0.6M72.5 438.5l0.7 -0.4M29.8 448.4l0.6 0.1M74.2 438.6l-0.6 -1M71.3 454.1l0.7 -0.9M51.3 453.8l0.8 0.1M42.6 450.3l-0.3 -0.8M65.4 414.8l0.4 0.6M62 408.3l0.4 -0.5M62.8 410.5l1.3 0.4M56.5 429.5l0.6 1M76.3 438.1l0.2 -0.9M65.4 444.5l1 0.1M75.6 450.7l0.7 -0.4M59.8 446.8l0.9 -0.4M63.7 417.7l0 -1M36.1 428.6l1.3 0.1M70.6 441l1 -0.5M38.3 446.2l0.1 -0.7M72.7 430.7l0.7 -0.1M29.4 447.2l0.6 -1M37.6 431.7l0.8 -0.7M57.5 441.2l0.7 -0.6M71.3 427.2l1 -0.4M32 447.1l1 0.5M32.3 424.2l0.5 -0.7M36.8 409l1.1 -0.6M38.5 450.7l-0.1 -1.3M73.3 451.3l1.2 -0.3M37.2 450.2l0.4 -0.8M53.2 417.2l0.1 -0.8M41.6 447.1l-0.5 -1M62.5 418.8l0.4 -0.6M79.2 420.1l0.5 0.7M28.7 437.9l0.7 -0.6M61.7 405.9l0.2 0.7M37 425.9l1.3 0.1M77.3 442.1l1 -0.3M74.5 450l1.1 -0.5M68.3 405.9l-0.9 -0.9M50.8 418.4l1 0.4M74.1 448.9l0.8 -0.6M47.3 453.1l0.7 0.7M43.7 415.1l-0.5 -1.2M53.6 408.9l0.1 -1.2M41.5 445.8l0.6 -1M78.5 412.4l0.5 -0.8M76.4 444l0.7 -0.8M45.8 453.6l1.2 -0.6M50.9 432.5l0.7 -0.2M54.5 425.7l0 -0.8M35.6 409.4l0.9 -0.1M71.4 452.8l0.7 -0.1M43 417.7l-0.7 -0.2M54.5 450.2l-0.9 -0.6M58.6 430.6l0.2 -0.7M48.8 411.6l0.6 -0.6M71.3 453.5l0.5 -0.7M44.1 425.2l-0.7 -0.4M63.3 436.7l0.6 -0.1M48.8 407.2l-0.5 -0.8M62 427.8l0.7 -0.6M53.1 443.3l0.5 -0.3M62 436.3l0.5 -0.4M45.6 418.1l0.1 -0.6M50 425.3l1.1 -0.5M28.5 441.7l0.5 -1.3M55.9 410l-0.7 -0.8M59.7 439.4l1.2 -0.5M35.6 443.6l0.6 0.3M29.5 425.2l0.6 1.2M46 446.2l0.7 0.1M40.8 426.9l0.7 -0.6M55.2 421.5l0.4 -0.6M64.3 417.8l0.7 -0.8M75.9 443.3l-0.5 -0.5M77 430.4l0.2 -0.6M39.1 443.4l0.7 -0.9M71.2 406.4l-0.7 -1.2M69.4 419.6l-0.6 -1M50 410.4l-0.9 -0.9M71.5 449.2l0.5 -0.9M58.4 405.2l-0.7 -0.3M44.8 434.2l0.2 1.2M79.3 438.6l0.8 -0.9M69.2 424.5l0.8 0.8M39.8 454.9l-0.9 -0.3M43.2 429.2l-0.4 -1.1M67 445.7l-0.8 -0.7M57 440.1l0.3 -0.9M34 437.3l0.5 -0.3M60.1 452.6l0.5 -0.5M34.1 433.9l0.6 -0.2M52.9 432.9l0.6 -0.3M64 434.5l0.4 -0.7M75.5 440l-0.8 -1M66.9 405l1 -0.8" stroke="#6a4ab4" stroke-width="1.5" opacity="0.6"/>
</g>
<path d="M58.1 416.5h0M43 448.8h0M38.5 446.3h0M52.5 439.3h0M48.7 438.7h0M64 426.2h0M44.2 426.5h0M66 406h0M39.7 422.7h0M63.7 430.4h0M40.5 448.6h0M57.7 449.1h0M48.1 452.1h0M58 422.5h0M37 444.7h0M38 445.8h0M69.3 412h0M65.2 439.9h0M34.1 442.7h0M76 421.9h0M55.5 425.6h0M41.2 413.4h0M62 452.9h0M35.7 406.6h0M56 418.5h0M72 419.9h0M30.6 420.7h0M49.6 426.7h0M49.6 419.5h0M76.7 406.2h0M40.5 445.7h0M39.4 415.8h0M48.6 436.5h0M69.9 444.1h0M38.2 451.2h0M38.1 445.1h0M71.6 411.2h0M48 415.9h0M52.1 443.8h0M68.8 442.6h0M31 419.7h0M74.7 441.6h0M66.9 414h0M37.1 429.5h0M59.4 411.6h0M72.4 433.6h0M75 449.9h0M49.1 419h0M70.5 429.9h0M58.9 440.8h0M77.4 430.7h0M52 447.5h0M33.3 427h0M40.3 435.4h0M69.8 426.4h0M39.7 411.4h0M73.7 434.2h0M75.3 418.7h0M43.5 414.3h0M60.7 433h0" stroke="#2a2438" stroke-width="0.9" stroke-linecap="round" opacity=".8"/>
<rect x="28.5" y="404.5" width="51" height="51" stroke="#222" stroke-width=".8"/>
<clipPath id="mc42"><rect x="81.5" y="404.5" width="51" height="51"/></clipPath>
<rect x="81.5" y="404.5" width="51" height="51" fill="#ebedf0" stroke="none"/>
<g clip-path="url(#mc42)" stroke-linecap="round" filter="url(#b6)">
<path d="M84.2 426.7l3.4 -1.3M83.4 448.7l-3 -6.3M115.8 434.9l5.8 -6.1M120.4 436.9l6.8 -1.6M97.2 410.7l-2 -4.2M109.6 415.1l6 -3.8M83.1 423l0.1 -4.8M126.3 424.6l-0.1 -8.1M99.9 415.5l3.9 0.4M112.1 447.4l2.7 -4.9M108.3 421.4l1.2 -6.6M102 454.6l5.2 -2.9M119.2 433.3l2.3 -2.6M131.2 452.4l-4.6 -6.2M85.3 430.2l5.5 -2.9M105 416.6l-3.7 -2.5M114.2 429.9l0.9 -6M125.9 449l3.6 -1.4M91.1 412.3l0.2 -5.7M116.4 440.4l4.5 -3.2M92.9 416.7l2.7 -5.1M97.2 452.5l-6 -1.9M101.2 441.2l1 -4.9M86.3 426.3l-2.1 3.2M127.2 452.9l3.7 -7M127.4 440.1l-6.8 0.5" stroke="#ab99da" stroke-width="1.8" opacity="0.55"/>
<path d="M112.7 409.1l2.9 -6.6M83.3 416.9l-0.8 -4.5M127.3 424.1l6 -4.9M113.7 425.5l0.4 -4.8M134.8 439.7l-5.8 -5.1M94.7 435.4l-1.3 -4.6M131.1 430.2l2.4 2.6M125.9 423.1l0 -6.7M124.4 453l3.8 -0.4M97.6 436.1l2.2 -3.2M89.5 411l5.8 0.6M120.4 455.4l7.6 -3M105.6 418l1.3 -5.2M119.6 429.8l3.7 -4.2M106.4 443.5l6.9 -4.7M116.7 408.6l6 -2.4M86.7 455.1l5.7 -3.1M85.9 451.5l3.5 -3.2M105.1 434l-4.5 0.6" stroke="#ab99da" stroke-width="3.0" opacity="0.55"/>
<path d="M114.2 405.5l0.5 -1.1M85.7 426.1l0.5 -0.2M82.8 414.6l-0.1 -0.7M82.4 446.8l-0.5 -1M130.4 421.6l1 -0.8M118.3 432.2l0.9 -1M122.7 436.3l1.1 -0.3M96.5 409.2l-0.3 -0.7M113.9 423.3l0.1 -0.8M111.9 413.7l1 -0.6M132.9 438l-0.9 -0.8M83.1 420.3l0 -0.8M126.2 421.8l0 -1.3M94 432.9l-0.2 -0.7M101.1 415.6l0.6 0.1M113.2 445.5l0.4 -0.8M132.2 431.4l0.4 0.4M108.8 418.8l0.2 -1.1M104.9 453l0.8 -0.5M125.9 421l0 -1.1M119.9 432.6l0.4 -0.4M129.9 450.6l-0.7 -1M126.3 452.8l0.6 -0.1M88.2 428.6l0.9 -0.5M102.8 415.1l-0.6 -0.4M114.5 427.8l0.1 -1M98.4 435l0.4 -0.5M127.6 448.4l0.6 -0.2M92.5 411.3l0.9 0.1M91.2 410l0 -0.9M118.8 438.8l0.7 -0.5M93.8 414.9l0.4 -0.8M93.8 451.5l-1 -0.3M122.8 454.5l1.2 -0.5M106.1 416.2l0.2 -0.8M121.7 427.4l0.6 -0.7M109.4 441.5l1.1 -0.7M119.8 407.4l1 -0.4M88.6 454l0.9 -0.5M87.5 450l0.6 -0.5M103.6 434.2l-0.7 0.1M101.7 438.8l0.2 -0.8M85.5 427.4l-0.3 0.5M128.4 450.7l0.6 -1.1M123.9 440.4l-1.1 0.1" stroke="#6a4ab4" stroke-width="1.5" opacity="0.6"/>
</g>
<path d="M97.2 438h0M128.5 412.1h0M88.2 410.7h0M109.6 418.8h0M112.1 440.7h0M92.5 436.6h0M95.4 429.4h0M126.9 447h0M87 426.3h0M96.1 405.7h0M120.3 436.7h0M95.3 441.8h0M109.5 426.5h0M83 409.2h0M125.8 449.8h0M109.2 446.4h0M111 412.8h0M88.7 420.6h0M126.6 444.5h0M124.7 449.5h0M92.8 417.7h0M87.5 443.7h0M125.8 425.4h0M112.9 413.1h0M128.1 447.9h0M130.3 445.2h0M125.7 406.7h0M118.6 421.8h0M128.1 444.8h0M124.8 445.2h0M95.6 444.1h0M87.8 448.2h0M124.6 416.4h0M122.5 428.1h0M97.5 444.5h0M93.7 406.7h0M92 421.6h0M124.9 452.9h0M96.2 436.9h0M102.1 453.6h0M108.8 451.5h0M88.2 453h0M91.2 452.7h0M95.5 410.8h0M103.8 441.2h0M97.9 435.2h0M107.6 424.4h0M110.8 418h0M117.2 405.6h0M127.9 431.9h0M117.8 441.9h0M115.4 423.3h0M85.9 438h0M98.7 420.9h0M124.1 440.8h0M97.2 420.7h0M102.5 425.2h0M97 411.7h0M103.1 451.6h0M115.7 449.7h0M112.7 420.2h0M109.3 405.5h0M96.6 426.6h0M110.9 437.6h0M105.3 427.2h0M93 428.7h0M126.7 444.5h0M90.8 409.7h0M107.8 436.5h0M98.9 445.6h0" stroke="#2a2438" stroke-width="0.9" stroke-linecap="round" opacity=".8"/>
<rect x="81.5" y="404.5" width="51" height="51" stroke="#222" stroke-width=".8"/>
<clipPath id="mc43"><rect x="135.5" y="404.5" width="51" height="51"/></clipPath>
<rect x="135.5" y="404.5" width="51" height="51" fill="#e6e4ef" stroke="none"/>
<g clip-path="url(#mc43)" stroke-linecap="round" filter="url(#b6)">
<path d="M158.1 405.1l5.6 0.8M147.9 451.3l5.4 -2.9M150.8 434.6l3.3 -6.2M170.3 405.5l3.3 2.1M167.3 415.5l4.3 -6.2M157.3 402.3l1.6 8.2M182.8 453l6.2 -4.9M159.6 456l2.6 -7.4M143.4 417.6l-6.4 -5.1M166.9 419.3l-4.2 -3M159.4 448.8l4.4 4.7M165.5 416.8l3.6 -4M139.5 435.9l5.7 -4.1M147.3 455.1l-1.7 -6.3M184.2 437.4l3.2 -3.6M151.4 424.7l-1.6 -5.5M177.3 426.2l-1.6 -6.8M173.6 415l4.9 3.1M183.9 418.5l-4.2 -1.4M171.4 417.1l5.4 0.8M156 426.8l5.9 3.3M160 426.3l6.4 5.2M179.9 455.3l2.4 -7M155.4 436.1l7 -3M139.9 430.2l2.6 -6.1M148.9 411.4l5.1 -3.3M178.8 445l7.8 1.6M154.6 408.1l5.2 -4.8M136.7 428l3.7 -3.4M142 434.8l-0.2 5M183.7 430.3l4.7 -5.5M174.6 422.2l5.6 1.3M180.1 437.1l5.3 -5M179.9 433.2l5.1 -3.9M164.8 419.9l5.6 1.8M136.5 429.4l3.9 -1.4M154.2 456.4l0.8 -7.5M146.5 408l2.7 -5.2M137.7 444.5l7.7 0.4M139.3 432.2l5.8 -0.7M171 433.4l-1.2 -5.2M184.4 414.2l0.1 -4M139.8 413.1l0.6 -7.6M159.3 432.4l2.3 -3.1M168.4 455.5l5.6 -4.1M170.6 420.6l-2.5 -3.8M148.7 434.6l8.2 1.6M153 425.9l5.4 -4.5M182 417.4l3.7 1M167.7 446.6l3.5 -4.1M179.9 412.8l-5.5 -4.8M179.5 422.4l-0.4 -3.6M148.2 412.8l5 -3.1M170.2 404.7l4.1 0.8M162 440.9l-1.2 4.9M171.9 439.2l5.1 0.2M179.6 452.6l-2.8 -7.8M184.4 433.3l3.7 -5.3M164.2 447l1.6 -3.6M163.8 447.1l6.6 -3.8M141.2 419.7l5 -1.1M174.7 435.5l4.1 -6.5M148.8 410.6l3.8 -1.3M137.4 434.4l-0.3 -4.3M133.2 414l7.6 1.2" stroke="#ab99da" stroke-width="1.8" opacity="0.55"/>
<path d="M134 440.1l6.9 -0.3M162.2 446.7l2.5 -7.3M137.7 432l5.4 -2.6M160.2 435.3l2.3 -3M163.2 454.6l4.2 -5.1M175.1 409.3l0.4 -4.4M162.6 413.1l2.2 -5.6M145.3 450.1l-1.5 -6.9M182 417l4.9 -2.3M157.1 407.8l3.6 -0.3M175.9 413.4l-2.8 -2.1M148 441.7l2.4 -3M144.6 439.9l4.6 3.7M170.2 423.7l-1.3 -8M175.6 437.5l6 -3.9M182.4 443.7l-3.8 -7.1M146.5 436.6l2.4 -3.7M143.4 416.4l6 -5.6M176.8 432.1l3.2 -2.7M159.2 448.2l2.3 -3.9M150.7 405.2l3.3 2.9M179.6 427.5l-1 -3.6M149.5 411.8l3.1 -7.2M166.8 418.9l4.5 -6M173.5 423.6l5.5 3.7M175.3 411.9l3.5 1M159.2 432.5l3.9 -2.6M155.7 440.5l3.7 -2.6M151.4 446.4l4.3 -2.9M137 423.6l8.1 -1.8M157.2 415.7l0.7 -4.7M153.3 422.6l-3.4 -6.6M157.3 436.4l1 -7.6M154.6 452.8l2.9 -2.1M144.4 425.3l1.6 -5.9M164.1 421.5l1.8 -6.4M171.8 403.2l1.2 3.6M134.9 447.2l4.1 -3.9M140.9 424.3l6.2 -0.7M150.6 421.2l-1.1 -5.7M161.5 444.7l8.2 1.1M176.3 436.6l3.9 7M170 448l5.1 -2.7M140.5 430.7l1.5 -3.3M134.2 434.1l3.7 0.5M173.7 428.8l1.4 -5.1M178 447.6l-3.4 -3.8M163.9 448l6.7 -1.4M160.9 410.4l7.2 -2.8M142.7 422.4l-4.8 -5.8M159 408.9l5.2 0.2M169 435.1l0.8 -4.1M179.8 427.1l0.5 -6.2M185.2 451.6l1.7 -7.7M135.6 435l1.3 -3.3M150.3 421.7l4.7 -5.9M173.9 424.4l7.5 1.4M169.9 443.2l6.1 -3.3M141.8 410.1l-0.1 -5M173.9 437.5l8.4 0.3M147.9 412.4l3.1 -4.1M160.7 443.5l1.5 -4.8M173.9 445.3l-0.7 -4.9M169.4 404.7l6.9 1.6M138.3 407.1l0.2 -5.2M137.1 406.5l4.2 -0.9M145.4 426.3l-5.3 -6.2M169.6 456.7l4.7 -6.7M174.9 431l7.4 2.8M144.1 419.9l6.1 -2.6M137 458.8l0.5 -7.7M184.1 430l3.7 3.6M134.1 408.5l4.5 1M135.7 440.1l5.9 0.2M149.4 449.4l0.7 -4.7" stroke="#ab99da" stroke-width="3.0" opacity="0.55"/>
<path d="M136.8 440l1.1 0M161.1 405.5l0.9 0.1M163.1 443.9l0.4 -1.2M140.1 430.8l0.9 -0.4M161.4 433.8l0.4 -0.5M150.7 449.8l0.9 -0.5M165.5 451.9l0.7 -0.8M152.5 431.3l0.5 -1M175.4 406.8l0.1 -0.7M163.8 410l0.3 -0.9M171.3 406.2l0.5 0.3M169.1 412.8l0.7 -1M158.1 406.4l0.3 1.3M185.9 450.7l1 -0.8M160.9 452.4l0.4 -1.2M140.4 415.1l-1 -0.8M165.6 418.3l-0.7 -0.5M144.6 446.9l-0.2 -1.1M183.6 416.2l0.8 -0.4M158.7 407.6l0.6 0M160.7 450.3l0.7 0.7M175 412.8l-0.5 -0.3M166.7 415.4l0.6 -0.6M141.1 434.7l0.9 -0.7M148.7 440.7l0.4 -0.5M146.2 441.2l0.7 0.6M169.7 420.3l-0.2 -1.3M178.3 435.8l1 -0.6M146.7 453.2l-0.3 -1M181.1 441.3l-0.6 -1.1M185.5 436l0.5 -0.6M151 423l-0.2 -0.9M176.7 423.7l-0.3 -1.1M176.4 416.8l0.8 0.5M147.8 434.7l0.4 -0.6M146.3 413.7l1 -0.9M181.6 417.8l-0.7 -0.2M178 431.2l0.5 -0.4M173.6 417.4l0.9 0.1M158.8 428.4l0.9 0.5M160.3 446.3l0.4 -0.6M161.9 427.9l1 0.8M151.8 406.2l0.5 0.5M179.3 426.4l-0.2 -0.6M180.6 453.2l0.4 -1.1M151.1 408.1l0.5 -1.2M168.4 416.7l0.7 -1M176.1 425.3l0.9 0.6M157.4 435.3l1.1 -0.5M177 412.4l0.6 0.2M141.2 427.3l0.4 -1M160.3 431.8l0.6 -0.4M150.5 410.4l0.8 -0.5M157.3 439.3l0.6 -0.4M181.5 445.6l1.2 0.3M157 405.9l0.8 -0.8M138 426.8l0.6 -0.5M141.9 436.7l0 0.8M152.9 445.4l0.7 -0.5M140.3 422.9l1.3 -0.3M157.4 414.3l0.1 -0.8M151.8 419.7l-0.5 -1.1M157.7 433.5l0.2 -1.2M155.5 452.1l0.5 -0.3M145.3 422.1l0.3 -0.9M164.8 419.2l0.3 -1M172.2 404.3l0.2 0.6M185.9 427.8l0.7 -0.9M136.1 446.1l0.7 -0.6M142.8 424.1l1 -0.1M176.3 422.6l0.9 0.2M182.3 435.1l0.9 -0.8M150 418l-0.2 -0.9M164.6 445.1l1.3 0.2M177.7 439.2l0.6 1.1M171.9 447l0.8 -0.4M181.8 431.7l0.8 -0.6M166.8 420.5l0.9 0.3M141 429.6l0.2 -0.5M136.2 434.3l0.6 0.1M138.4 428.7l0.6 -0.2M174.2 427.1l0.2 -0.8M176.3 445.7l-0.6 -0.6M166.5 447.5l1.1 -0.2M154.5 453.5l0.1 -1.2M162.9 409.6l1.1 -0.4M140.3 419.5l-0.8 -0.9M160.5 408.9l0.8 0M147.6 405.7l0.4 -0.8M141.8 444.8l1.2 0.1M169.3 433.7l0.1 -0.7M180 424.8l0.1 -1M185.8 448.7l0.3 -1.2M141.9 431.8l0.9 -0.1M136.3 433.2l0.2 -0.5M170.5 431.3l-0.2 -0.8M184.4 412.8l0 -0.6M140 409.5l0.1 -1.2M160.4 430.8l0.4 -0.5M170.9 453.7l0.9 -0.7M169.2 418.6l-0.4 -0.6M151.6 435.2l1.3 0.3M151.9 419.7l0.8 -0.9M155.9 423.5l0.9 -0.7M183.2 417.8l0.6 0.2M177.6 425.1l1.2 0.2M168.9 445.2l0.6 -0.7M178.3 411.5l-0.9 -0.8M172 442.1l1 -0.5M141.8 408.4l0 -0.8M176.2 437.6l1.3 0.1M149.6 410.1l0.5 -0.7M179.3 420.9l-0.1 -0.6M161.5 440.9l0.2 -0.8M150.4 411.4l0.8 -0.5M171.9 405l0.7 0.1M173.5 442.7l-0.1 -0.8M173.1 405.6l1.1 0.2M138.3 405.4l0 -0.8M161.5 443.2l-0.2 0.8M139.1 406.1l0.7 -0.1M173.3 439.3l0.8 0M143 423.5l-0.8 -1M171.9 453.5l0.8 -1.1M178.6 449.7l-0.4 -1.3M185.4 431.9l0.6 -0.9M165 445.1l0.3 -0.6M166.7 445.5l1.1 -0.6M143.8 419.2l0.8 -0.2M177.2 431.9l1.2 0.4M176.9 431.9l0.6 -1M147.4 418.4l1 -0.4M150.2 410.2l0.6 -0.2M137.2 455.7l0.1 -1.2M137.2 432.3l0 -0.7M186.2 432l0.6 0.6M137.1 414.6l1.2 0.2M136.1 409l0.7 0.2M137.6 440.2l0.9 0M149.6 448l0.1 -0.8" stroke="#6a4ab4" stroke-width="1.5" opacity="0.6"/>
</g>
<path d="M146.5 427.1h0M162 419.6h0M140.5 409.7h0M177.7 420.2h0M153.5 443h0M170.1 427.3h0M148.8 428h0M177.9 435.3h0M149.6 421.8h0M172.2 449.7h0M151.7 426.6h0M148.1 433h0M162.9 442.9h0M179.8 446.7h0M181.9 430.6h0M141.3 444.5h0M139 410.7h0M169 439.7h0M175.8 418.3h0M172.7 427.4h0M137.4 441.3h0M168.9 423.6h0M157 412.1h0M176.1 417.5h0M147.1 444.1h0M155.1 435.9h0M162.1 429.8h0M166.6 429.2h0M140.3 430.1h0M162.7 406.3h0M136.6 453.3h0M152.7 411h0M141.3 427.2h0M179.5 446h0M160.8 442h0M169.8 441.7h0M180.1 423.3h0M160.8 441.5h0M173.1 446h0M140.4 438.7h0M174.2 436.1h0M165.7 420.5h0M153.9 416.7h0M136.9 408.8h0M140 454.4h0M162.6 451h0M159.3 438.2h0M172.5 407.8h0M166.1 409.9h0M140.5 418.5h0" stroke="#2a2438" stroke-width="0.9" stroke-linecap="round" opacity=".8"/>
<rect x="135.5" y="404.5" width="51" height="51" stroke="#222" stroke-width=".8"/>
<clipPath id="mc44"><rect x="188.5" y="404.5" width="51" height="51"/></clipPath>
<rect x="188.5" y="404.5" width="51" height="51" fill="#eaeaef" stroke="none"/>
<g clip-path="url(#mc44)" stroke-linecap="round" filter="url(#b6)">
<path d="M207.3 433.2l4.1 -2.2M209.6 409.6l2.3 -6.4M222.9 436.7l-4.6 -4.2M230.2 443l-2.3 -7.3M230.8 449.2l1.2 -4.7M232.5 432l0.3 6.2M205.7 425.2l-3.9 -0.3M224.4 435l-0.3 -3.9M201.1 430.5l7.9 -1.4M202.8 433.3l3.2 -3M205.4 431.3l6.2 -2.5M192.9 410.3l-7.1 -4M236.6 453.6l-0.2 -7.6M198.3 420.5l-4.5 -5.1M233.5 433.6l-0.5 -7.5M227.9 429.5l6.6 -0.9M195.9 426.9l8.2 -1M202.1 441.5l5.8 -1.5M203.1 441.4l0.6 -7.3M233.1 415.3l7 -4.3M187.4 402.9l5.2 4.2M225.7 438.8l4.8 -4.2M194.6 435.3l-0.6 -8.1M186.6 418.3l5.1 -2.4M224.3 417l7.9 -0.5M219.7 415.2l-4.3 -6.8M217 426.8l-0.9 -3.8M233.6 423.8l2 -3M222 452.5l-2.3 -2.7M206.3 439.8l4.2 -5.3M235.3 420.6l3.5 -0.9M222.1 452l3.3 2.9M190.3 440.8l4.4 -1.8M189.1 454l4.5 -4M220.2 429.4l6.1 -4.6M195.4 436.8l1.7 -4.5M219.3 438.7l6.8 -0.5" stroke="#ab99da" stroke-width="1.8" opacity="0.55"/>
<path d="M188.2 415.4l1.5 -5.9M207.1 426.9l1.5 -3.6M194.4 410.1l-0.4 -4M217.5 453.8l5.9 0.3M200.2 418.3l2.9 -2.3M196.9 403.2l6 4M237.3 424.4l3.9 -3.5M189.8 427.4l3.4 -1.6M195.2 437.7l4.9 -0.9M190.3 421.6l-3 -6.3M221.9 411.1l0.2 -5.7M190.6 452.7l4.4 -4.3M193.5 455.1l4.2 -5M232.8 441.6l7 -4.5M212.1 419.2l-1.3 -6.8M235.3 439.3l0.3 -5.1M222.8 447.7l-2.1 -2.9M208.6 449.6l5.8 0.6M227.8 421.3l3.3 -2.9M198.1 421.4l-2.7 -7.5M235.3 405l4.6 4.3M234.8 422.9l3.6 -2.9M210.3 455.3l-4 -7.1M200.7 417.1l3.6 -1.6M190.6 416.2l-1.4 -3.3M187.3 420.2l6.4 1.9M194.1 409l5 -4.6M228.2 421.4l-4.7 -4.5M219.9 459l-0.1 -8.3M201.2 407.1l2.7 -2.9M219.6 422.6l3.7 6.4M207.4 427l5.5 -1M217.5 425.5l6.6 -3.3M222.7 425.1l3.6 -3.5M207.2 435.9l2.4 -4.1M232.9 419.5l5.8 1.7M198.2 450.5l4.9 -2.1M235.8 416.9l3.9 -3.7M232.6 408.4l7.7 0.6M230.9 458l-3.9 -6.5M197.1 445.5l6.2 0.8" stroke="#ab99da" stroke-width="3.0" opacity="0.55"/>
<path d="M208.5 432.6l0.7 -0.3M188.9 412.6l0.2 -0.9M207.7 425.3l0.2 -0.6M194.3 408.9l-0.1 -0.6M219.4 453.9l0.9 0M201.7 417.1l0.5 -0.4M210.8 406.3l0.4 -1M221.1 435l-0.7 -0.7M229.4 440.7l-0.4 -1.2M199.5 405l1 0.6M239 422.9l0.6 -0.6M190.9 426.9l0.5 -0.2M196.9 437.4l0.8 -0.1M189.4 419.5l-0.5 -1M231.3 447.2l0.2 -0.7M232.6 434.2l0 1M203.6 425l-0.6 0M222 408l0 -0.9M192.1 451.2l0.7 -0.7M224.3 433.5l0 -0.6M195.1 453.3l0.7 -0.8M205.4 429.8l1.3 -0.2M236.2 439.5l1.1 -0.7M211.7 417.3l-0.2 -1.1M203.7 432.4l0.5 -0.5M207.3 430.6l1 -0.4M235.4 437.4l0.1 -0.8M222.2 446.8l-0.3 -0.5M190 408.7l-1.1 -0.6M236.6 450.9l0 -1.2M196.9 418.8l-0.7 -0.8M211.3 449.9l0.9 0.1M233.4 431.1l-0.1 -1.2M229.7 429.2l1.1 -0.1M198.1 426.6l1.3 -0.2M229.3 420l0.5 -0.5M204.7 440.8l0.9 -0.2M203.4 438l0.1 -1.2M235.8 413.6l1.1 -0.7M197.1 418.6l-0.4 -1.2M237.2 406.8l0.7 0.7M236.4 421.6l0.6 -0.5M190.1 405.1l0.8 0.7M228 436.8l0.8 -0.7M208.6 452.3l-0.6 -1.1M194.3 432.5l-0.1 -1.3M202.5 416.4l0.6 -0.3M190 414.9l-0.2 -0.5M188.5 417.4l0.8 -0.4M190.2 421l1 0.3M195.9 407.3l0.8 -0.7M226.3 419.6l-0.8 -0.7M219.9 456l0 -1.3M202.4 405.8l0.4 -0.5M228.6 416.7l1.3 -0.1M217.3 411.5l-0.7 -1.1M216.7 425.7l-0.1 -0.6M234.5 422.4l0.3 -0.5M221 451.3l-0.4 -0.4M220.6 424.3l0.6 1M208.7 436.9l0.7 -0.8M236.7 420.3l0.6 -0.1M209.1 426.7l0.9 -0.2M219.7 424.4l1.1 -0.5M224 423.8l0.6 -0.6M208 434.5l0.4 -0.6M223.1 452.9l0.5 0.5M234.7 420l0.9 0.3M191.9 440.2l0.7 -0.3M191.4 452l0.7 -0.6M200.9 449.3l0.8 -0.3M237.8 415l0.6 -0.6M235.6 408.6l1.2 0.1M223.3 427.2l1 -0.7M195.9 435.5l0.3 -0.7M222.4 438.5l1.1 -0.1M229.1 454.9l-0.6 -1M200.1 445.9l1 0.1" stroke="#6a4ab4" stroke-width="1.5" opacity="0.6"/>
</g>
<path d="M199.7 409h0M227.8 438.2h0M190.3 407.8h0M210.2 437.5h0M195.5 439.6h0M206.4 437.3h0M202.9 417h0M196.7 439.1h0M220 408.9h0M195.1 446.5h0M202.3 451h0M237.4 445.2h0M196.3 410.6h0M230.1 425.9h0M191.1 410.6h0M203.4 417.7h0M191.3 440.6h0M192.3 419.6h0M223.7 442.2h0M228.2 417.1h0M197.8 435.9h0M229 441.7h0M225.8 425.8h0M224.6 450h0M219.7 412.6h0M230 407.2h0M190 420.1h0M207.8 453h0M225.6 426.8h0M217.6 425.9h0M233.6 435.8h0M207.3 451.3h0M229.5 425.6h0M236.6 408.3h0M232.4 427.6h0M213.4 448.6h0M210.2 426.8h0M201.1 439h0M224.6 438.4h0M197.3 448.3h0M213.6 411.1h0M199.7 411.6h0M196.5 430.7h0M226.3 439.7h0M237.1 453.9h0M220 447.5h0M234.2 430.5h0M230.7 433.1h0M226.5 445h0M234 430.4h0M193.4 408.5h0M224.1 435.3h0M230.9 414.1h0M229.6 454.1h0M213 410h0M223.2 409.4h0M228.4 445.3h0M208.1 449.8h0M208 445.9h0M203.9 440.9h0M194.9 422.1h0M208.9 449h0M229.9 410.6h0M212.1 446.9h0M237.5 428.1h0M197.4 444h0M198.9 434.7h0M204.9 408.8h0M190.6 425.8h0M191.8 436.8h0M226 441.3h0M214 436.2h0M232 420.9h0M219 413.7h0M222.9 454.4h0M205.8 439.2h0M197.1 454.5h0M192.5 417.8h0M209.7 442.9h0M215.9 409.6h0" stroke="#2a2438" stroke-width="0.9" stroke-linecap="round" opacity=".8"/>
<rect x="188.5" y="404.5" width="51" height="51" stroke="#222" stroke-width=".8"/>
<path d="M228.5 451.4L234.8 451.4" stroke-width="1.3"/>
</g>
<g>
<text transform="translate(191.6 11.3)scale(1 1.02)" font-weight="bold" font-size="14.2">C</text>
<text transform="translate(252.5 14.2)scale(1 1.04)" text-anchor="middle" font-size="9.7">786-O</text>
<path d="M226.4 29.4V112.2H279M223.1 112.2h3.3M223.1 91.6h3.3M223.1 71h3.3M223.1 50.4h3.3M223.1 29.8h3.3M236.9 112.2v3.3M252.3 112.2v3.3M268.4 112.2v3.3" stroke-width="0.8"/>
<text transform="translate(222.7 115.7)scale(1 1.04)" text-anchor="end">0</text>
<text transform="translate(222.7 95.1)scale(1 1.04)" text-anchor="end">1</text>
<text transform="translate(222.7 74.5)scale(1 1.04)" text-anchor="end">2</text>
<text transform="translate(222.7 53.9)scale(1 1.04)" text-anchor="end">3</text>
<text transform="translate(222.7 33.3)scale(1 1.04)" text-anchor="end">4</text>
<text transform="translate(210.1 78.2)rotate(-90)scale(1 1.04)" text-anchor="middle">Relative colony number</text>
<path d="M231.5 112.2V91.6H242.5V112.2" stroke="#666" stroke-width="0.9"/>
<path d="M237 89.1V93.7M234.9 89.1h4.2M234.9 93.7h4.2" stroke="#111" stroke-width="0.7"/>
<circle cx="235.5" cy="91.2" r="1.2" fill="#111" stroke="none"/>
<circle cx="238.6" cy="90" r="1.2" fill="#111" stroke="none"/>
<circle cx="237" cy="93.7" r="1.2" fill="#111" stroke="none"/>
<path d="M247.1 112.2V57.4H257.7V112.2" stroke="#f03535" stroke-width="0.9"/>
<path d="M252.4 52.5V62M250.3 52.5h4.2M250.3 62h4.2" stroke="#f03535" stroke-width="0.7"/>
<path d="M252.4 51.4l1.5 2.6h-3z" fill="#f03535" stroke="none"/>
<path d="M252.4 56.9l1.5 2.6h-3z" fill="#f03535" stroke="none"/>
<path d="M252.4 59.7l1.5 2.6h-3z" fill="#f03535" stroke="none"/>
<path d="M263.5 112.2V105.4H273.8V112.2" stroke="#3848c4" stroke-width="0.9"/>
<path d="M268.6 104.6V106.2M267.1 104.6h3M267.1 106.2h3" stroke="#3848c4" stroke-width="0.7"/>
<rect x="265" y="104.4" width="2" height="2" fill="#3848c4" stroke="none"/>
<rect x="267.6" y="103.8" width="2" height="2" fill="#3848c4" stroke="none"/>
<rect x="270.2" y="104.6" width="2" height="2" fill="#3848c4" stroke="none"/>
<path d="M237.2 28.4L268.4 28.4" stroke-width="0.8"/>
<text transform="translate(253.3 29.6)scale(1 1.1)" text-anchor="middle" font-size="10" font-family="DejaVu Sans, sans-serif" stroke-width=".35" letter-spacing="1.1">**</text>
<path d="M237.2 43.5L252.3 43.5" stroke-width="0.8"/>
<text transform="translate(246.2 44.7)scale(1 1.1)" text-anchor="middle" font-size="10" font-family="DejaVu Sans, sans-serif" stroke-width=".35" letter-spacing="1.1">****</text>
<text transform="translate(242.3 121.7)rotate(-45)scale(1 1.04)" text-anchor="end">Control</text>
<text transform="translate(257.8 121.7)rotate(-45)scale(1 1.04)" text-anchor="end">NaLac</text>
<text transform="translate(274 121.7)rotate(-45)scale(1 1.04)" text-anchor="end">NaOxa</text>
<text transform="translate(284.6 11.3)scale(1 1.02)" font-weight="bold" font-size="14.2">D</text>
<text transform="translate(353 14.2)scale(1 1.04)" text-anchor="middle" font-size="9.7">786-O</text>
<path d="M327.5 30V110.3H379.5M324.2 110.3h3.3M324.2 90.3h3.3M324.2 70.3h3.3M324.2 50.4h3.3M324.2 30.4h3.3M337.7 110.3v3.3M354.3 110.3v3.3M370.2 110.3v3.3" stroke-width="0.8"/>
<text transform="translate(323.2 113.8)scale(1 1.04)" text-anchor="end">0</text>
<text transform="translate(323.2 93.8)scale(1 1.04)" text-anchor="end">100</text>
<text transform="translate(323.2 73.8)scale(1 1.04)" text-anchor="end">200</text>
<text transform="translate(323.2 53.9)scale(1 1.04)" text-anchor="end">300</text>
<text transform="translate(323.2 33.9)scale(1 1.04)" text-anchor="end">400</text>
<text transform="translate(302.2 76.9)rotate(-90)scale(1 1.04)" text-anchor="middle">Number of migrated cells</text>
<path d="M332.5 110.3V79.5H343.1V110.3" stroke="#777" stroke-width="0.9"/>
<path d="M337.8 77.7V81.1M335.7 77.7h4.2M335.7 81.1h4.2" stroke="#111" stroke-width="0.7"/>
<circle cx="336.2" cy="78.3" r="1.2" fill="#111" stroke="none"/>
<circle cx="339.5" cy="78.9" r="1.2" fill="#111" stroke="none"/>
<circle cx="336.5" cy="80.7" r="1.2" fill="#111" stroke="none"/>
<path d="M349.2 110.3V52H359.6V110.3" stroke="#f03535" stroke-width="0.9"/>
<path d="M354.4 41.9V60.4M352.3 41.9h4.2M352.3 60.4h4.2" stroke="#f03535" stroke-width="0.7"/>
<path d="M354.4 40.9l1.5 2.6h-3z" fill="#f03535" stroke="none"/>
<path d="M354.4 53.9l1.5 2.6h-3z" fill="#f03535" stroke="none"/>
<path d="M354.4 57.9l1.5 2.6h-3z" fill="#f03535" stroke="none"/>
<path d="M365.3 110.3V104.9H375.6V110.3" stroke="#3848c4" stroke-width="0.9"/>
<path d="M370.4 103.1V106.5M368.9 103.1h3M368.9 106.5h3" stroke="#3848c4" stroke-width="0.7"/>
<rect x="366.6" y="104.1" width="2" height="2" fill="#3848c4" stroke="none"/>
<rect x="369.4" y="102.7" width="2" height="2" fill="#3848c4" stroke="none"/>
<rect x="372.2" y="103.9" width="2" height="2" fill="#3848c4" stroke="none"/>
<path d="M338.2 26.6L370.2 26.6" stroke-width="0.8"/>
<text transform="translate(354.8 27.8)scale(1 1.1)" text-anchor="middle" font-size="10" font-family="DejaVu Sans, sans-serif" stroke-width=".35" letter-spacing="1.1">**</text>
<path d="M338.2 36.1L353.8 36.1" stroke-width="0.8"/>
<text transform="translate(346.6 37.3)scale(1 1.1)" text-anchor="middle" font-size="10" font-family="DejaVu Sans, sans-serif" stroke-width=".35" letter-spacing="1.1">**</text>
<text transform="translate(342.5 119.7)rotate(-45)scale(1 1.04)" text-anchor="end">Control</text>
<text transform="translate(358.7 119.7)rotate(-45)scale(1 1.04)" text-anchor="end">NaLac</text>
<text transform="translate(374.7 119.7)rotate(-45)scale(1 1.04)" text-anchor="end">NaOxa</text>
<text transform="translate(636.2 13.9)scale(1 1.04)" text-anchor="middle" font-size="9.7">786-O</text>
<path d="M609.8 29.7V110.5H664.5M606.5 110.5h3.3M606.5 90.4h3.3M606.5 70.3h3.3M606.5 50.2h3.3M606.5 30.1h3.3M620.6 110.5v3.3M636.9 110.5v3.3M653.3 110.5v3.3" stroke-width="0.8"/>
<text transform="translate(605 114)scale(1 1.04)" text-anchor="end">0</text>
<text transform="translate(605 93.9)scale(1 1.04)" text-anchor="end">20</text>
<text transform="translate(605 73.8)scale(1 1.04)" text-anchor="end">40</text>
<text transform="translate(605 53.7)scale(1 1.04)" text-anchor="end">60</text>
<text transform="translate(605 33.6)scale(1 1.04)" text-anchor="end">80</text>
<text transform="translate(590.3 69)rotate(-90)scale(1 1.04)" text-anchor="middle" font-size="9.6">Wound clousure (%)</text>
<path d="M615.6 110.5V83.2H625.9V110.5" stroke="#111" stroke-width="0.9"/>
<path d="M620.8 78V89M618.7 78h4.2M618.7 89h4.2" stroke="#111" stroke-width="0.7"/>
<circle cx="620.8" cy="78.3" r="1.2" fill="#111" stroke="none"/>
<circle cx="620.8" cy="83.5" r="1.2" fill="#111" stroke="none"/>
<circle cx="620.8" cy="88.5" r="1.2" fill="#111" stroke="none"/>
<path d="M631.7 110.5V60.3H642.3V110.5" stroke="#f03535" stroke-width="0.9"/>
<path d="M637 50.9V67.3M634.9 50.9h4.2M634.9 67.3h4.2" stroke="#f03535" stroke-width="0.7"/>
<path d="M637 49.9l1.5 2.6h-3z" fill="#f03535" stroke="none"/>
<path d="M637 60.9l1.5 2.6h-3z" fill="#f03535" stroke="none"/>
<path d="M637 64.9l1.5 2.6h-3z" fill="#f03535" stroke="none"/>
<path d="M648.1 110.5V104.9H658.7V110.5" stroke="#3848c4" stroke-width="0.9"/>
<path d="M653.4 103.6V106.2M651.9 103.6h3M651.9 106.2h3" stroke="#3848c4" stroke-width="0.7"/>
<rect x="649.5" y="104" width="2" height="2" fill="#3848c4" stroke="none"/>
<rect x="652.4" y="102.8" width="2" height="2" fill="#3848c4" stroke="none"/>
<rect x="655.4" y="104" width="2" height="2" fill="#3848c4" stroke="none"/>
<path d="M621 31.2L653.3 31.2" stroke-width="0.8"/>
<text transform="translate(637.7 32.4)scale(1 1.1)" text-anchor="middle" font-size="10" font-family="DejaVu Sans, sans-serif" stroke-width=".35" letter-spacing="1.1">**</text>
<path d="M621 41.2L636.9 41.2" stroke-width="0.8"/>
<text transform="translate(629.5 42.4)scale(1 1.1)" text-anchor="middle" font-size="10" font-family="DejaVu Sans, sans-serif" stroke-width=".35" letter-spacing="1.1">**</text>
<text transform="translate(625.3 120.3)rotate(-45)scale(1 1.04)" text-anchor="end">Control</text>
<text transform="translate(641.3 120.3)rotate(-45)scale(1 1.04)" text-anchor="end">NaLac</text>
<text transform="translate(657.8 120.3)rotate(-45)scale(1 1.04)" text-anchor="end">NaOxa</text>
<text transform="translate(2.4 168.5)scale(1 1.02)" font-weight="bold" font-size="14.2">F</text>
<text transform="translate(84.9 164.6)scale(1 1.04)" text-anchor="middle" font-size="9.7">786-O</text>
<path d="M32.6 175.3V250.4H141.9M29.3 250.4h3.3M29.3 231.7h3.3M29.3 213h3.3M29.3 194.4h3.3M29.3 175.7h3.3M32.6 250.4v3.3M58.3 250.4v3.3M84.9 250.4v3.3M111.1 250.4v3.3M137.4 250.4v3.3" stroke-width="0.8"/>
<text transform="translate(28.3 253.9)scale(1 1.04)" text-anchor="end">0</text>
<text transform="translate(28.3 235.2)scale(1 1.04)" text-anchor="end">1</text>
<text transform="translate(28.3 216.5)scale(1 1.04)" text-anchor="end">2</text>
<text transform="translate(28.3 197.9)scale(1 1.04)" text-anchor="end">3</text>
<text transform="translate(28.3 179.2)scale(1 1.04)" text-anchor="end">4</text>
<text transform="translate(32.1 262.5)scale(1 1.04)" text-anchor="middle">0</text>
<text transform="translate(58.3 262.5)scale(1 1.04)" text-anchor="middle">24</text>
<text transform="translate(84.9 262.5)scale(1 1.04)" text-anchor="middle">48</text>
<text transform="translate(111.1 262.5)scale(1 1.04)" text-anchor="middle">72</text>
<text transform="translate(137.4 262.5)scale(1 1.04)" text-anchor="middle">96</text>
<text transform="translate(89.6 273.3)scale(1 1.04)" text-anchor="middle">Time (hours)</text>
<text transform="translate(18.9 211.2)rotate(-90)scale(1 1.04)" text-anchor="middle">OD (450 nm)</text>
<path d="M58.3 239.2L84.9 231.2L111.1 223.9L137.4 208.4" stroke="#111" stroke-width="0.8"/>
<path d="M84.9 227.4V234.9M83.5 227.4h2.8M83.5 234.9h2.8" stroke="#111" stroke-width="0.6"/>
<path d="M111.1 219.8V228M109.7 219.8h2.8M109.7 228h2.8" stroke="#111" stroke-width="0.6"/>
<path d="M137.4 204.6V212.1M136 204.6h2.8M136 212.1h2.8" stroke="#111" stroke-width="0.6"/>
<circle cx="58.3" cy="239.2" r="1.3" fill="#111" stroke="none"/>
<circle cx="84.9" cy="231.2" r="1.3" fill="#111" stroke="none"/>
<circle cx="111.1" cy="223.9" r="1.3" fill="#111" stroke="none"/>
<circle cx="137.4" cy="208.4" r="1.3" fill="#111" stroke="none"/>
<path d="M58.3 239.2L84.9 227.6L111.1 214.9L137.4 196.6" stroke="#f03535" stroke-width="0.8"/>
<path d="M84.9 225.4V229.9M83.5 225.4h2.8M83.5 229.9h2.8" stroke="#f03535" stroke-width="0.6"/>
<path d="M111.1 213.8V216M109.7 213.8h2.8M109.7 216h2.8" stroke="#f03535" stroke-width="0.6"/>
<path d="M137.4 194.4V198.8M136 194.4h2.8M136 198.8h2.8" stroke="#f03535" stroke-width="0.6"/>
<circle cx="58.3" cy="239.2" r="1.3" fill="#f03535" stroke="none"/>
<circle cx="84.9" cy="227.6" r="1.3" fill="#f03535" stroke="none"/>
<circle cx="111.1" cy="214.9" r="1.3" fill="#f03535" stroke="none"/>
<circle cx="137.4" cy="196.6" r="1.3" fill="#f03535" stroke="none"/>
<path d="M58.3 239.2L84.9 240.1L111.1 237.3L137.4 225.9" stroke="#3848c4" stroke-width="0.8"/>
<path d="M84.9 238.6V241.6M83.5 238.6h2.8M83.5 241.6h2.8" stroke="#3848c4" stroke-width="0.6"/>
<path d="M111.1 236.6V238.1M109.7 236.6h2.8M109.7 238.1h2.8" stroke="#3848c4" stroke-width="0.6"/>
<path d="M137.4 225.2V226.7M136 225.2h2.8M136 226.7h2.8" stroke="#3848c4" stroke-width="0.6"/>
<path d="M58.3 237.6l1.5 2.6h-3z" fill="#3848c4" stroke="none"/>
<path d="M84.9 238.6l1.5 2.6h-3z" fill="#3848c4" stroke="none"/>
<path d="M111.1 235.8l1.5 2.6h-3z" fill="#3848c4" stroke="none"/>
<path d="M137.4 224.4l1.5 2.6h-3z" fill="#3848c4" stroke="none"/>
<path d="M35.9 181.3L43.8 181.3" stroke="#111" stroke-width="0.8"/>
<circle cx="39.8" cy="181.3" r="1.45" fill="#111" stroke="none"/>
<text transform="translate(48.3 183)scale(1 1.04)" font-size="9.1">Control</text>
<path d="M35.9 189.4L43.8 189.4" stroke="#f03535" stroke-width="0.8"/>
<circle cx="39.8" cy="189.4" r="1.45" fill="#f03535" stroke="none"/>
<text transform="translate(48.3 192.3)scale(1 1.04)" font-size="9.1">NaLac</text>
<path d="M35.9 197.4L43.8 197.4" stroke="#3848c4" stroke-width="0.8"/>
<path d="M39.8 195.7l1.7 2.9h-3.3z" fill="#3848c4" stroke="none"/>
<text transform="translate(48.3 201.3)scale(1 1.04)" font-size="9.1">NaOxa</text>
<path d="M141.2 195.3L141.2 205.5" stroke-width="0.8"/>
<text transform="translate(150.7 199.8)rotate(-90)scale(1 1.1)" text-anchor="middle" font-size="10" font-family="DejaVu Sans, sans-serif" stroke-width=".35" letter-spacing="1.1">**</text>
<path d="M141.2 209.8L141.2 226.4" stroke-width="0.8"/>
<text transform="translate(150.7 217.6)rotate(-90)scale(1 1.1)" text-anchor="middle" font-size="10" font-family="DejaVu Sans, sans-serif" stroke-width=".35" letter-spacing="1.1">***</text>
<text transform="translate(161.8 168.5)scale(1 1.02)" font-weight="bold" font-size="14.2">G</text>
<text transform="translate(247.5 164.3)scale(1 1.04)" text-anchor="middle" font-size="9.7">786-O</text>
<path d="M195 175.3V249.8H305M191.7 249.8h3.3M191.7 231.3h3.3M191.7 212.8h3.3M191.7 194.2h3.3M191.7 175.7h3.3M195 249.8v3.3M221.2 249.8v3.3M248 249.8v3.3M274.3 249.8v3.3M300.6 249.8v3.3" stroke-width="0.8"/>
<text transform="translate(191 253.3)scale(1 1.04)" text-anchor="end">0</text>
<text transform="translate(191 234.8)scale(1 1.04)" text-anchor="end">1</text>
<text transform="translate(191 216.3)scale(1 1.04)" text-anchor="end">2</text>
<text transform="translate(191 197.7)scale(1 1.04)" text-anchor="end">3</text>
<text transform="translate(191 179.2)scale(1 1.04)" text-anchor="end">4</text>
<text transform="translate(195.5 262.5)scale(1 1.04)" text-anchor="middle">0</text>
<text transform="translate(221.2 262.5)scale(1 1.04)" text-anchor="middle">24</text>
<text transform="translate(248 262.5)scale(1 1.04)" text-anchor="middle">48</text>
<text transform="translate(274.3 262.5)scale(1 1.04)" text-anchor="middle">72</text>
<text transform="translate(300.6 262.5)scale(1 1.04)" text-anchor="middle">96</text>
<text transform="translate(252.4 273.3)scale(1 1.04)" text-anchor="middle">Time (hours)</text>
<text transform="translate(181.6 211.1)rotate(-90)scale(1 1.04)" text-anchor="middle">OD (450 nm)</text>
<path d="M221.2 235L248 226.7L274.3 210.9L300.6 202" stroke="#3a9a50" stroke-width="0.8"/>
<path d="M221.2 233.9V236.1M219.8 233.9h2.8M219.8 236.1h2.8" stroke="#3a9a50" stroke-width="0.6"/>
<path d="M248 224.8V228.5M246.6 224.8h2.8M246.6 228.5h2.8" stroke="#3a9a50" stroke-width="0.6"/>
<path d="M274.3 205.4V216.5M272.9 205.4h2.8M272.9 216.5h2.8" stroke="#3a9a50" stroke-width="0.6"/>
<path d="M300.6 197.9V206.1M299.2 197.9h2.8M299.2 206.1h2.8" stroke="#3a9a50" stroke-width="0.6"/>
<path d="M221.2 236.5l1.5 -2.6h-3z" fill="#3a9a50" stroke="none"/>
<path d="M248 228.2l1.5 -2.6h-3z" fill="#3a9a50" stroke="none"/>
<path d="M274.3 212.5l1.5 -2.6h-3z" fill="#3a9a50" stroke="none"/>
<path d="M300.6 203.6l1.5 -2.6h-3z" fill="#3a9a50" stroke="none"/>
<path d="M221.2 235.4L248 228.1L274.3 221.1L300.6 211.3" stroke="#f03535" stroke-width="0.8"/>
<path d="M221.2 233.5V237.2M219.8 233.5h2.8M219.8 237.2h2.8" stroke="#f03535" stroke-width="0.6"/>
<path d="M248 226.7V229.6M246.6 226.7h2.8M246.6 229.6h2.8" stroke="#f03535" stroke-width="0.6"/>
<path d="M274.3 218.9V223.3M272.9 218.9h2.8M272.9 223.3h2.8" stroke="#f03535" stroke-width="0.6"/>
<path d="M300.6 210.4V212.2M299.2 210.4h2.8M299.2 212.2h2.8" stroke="#f03535" stroke-width="0.6"/>
<rect x="220" y="234.2" width="2.4" height="2.4" fill="#f03535" stroke="none"/>
<rect x="246.8" y="226.9" width="2.4" height="2.4" fill="#f03535" stroke="none"/>
<rect x="273.1" y="219.9" width="2.4" height="2.4" fill="#f03535" stroke="none"/>
<rect x="299.4" y="210.1" width="2.4" height="2.4" fill="#f03535" stroke="none"/>
<path d="M221.2 235L248 222L274.3 205L300.6 194.2" stroke="#111" stroke-width="0.8"/>
<path d="M221.2 233.1V236.8M219.8 233.1h2.8M219.8 236.8h2.8" stroke="#111" stroke-width="0.6"/>
<path d="M248 219.2V224.8M246.6 219.2h2.8M246.6 224.8h2.8" stroke="#111" stroke-width="0.6"/>
<path d="M274.3 204.1V205.9M272.9 204.1h2.8M272.9 205.9h2.8" stroke="#111" stroke-width="0.6"/>
<path d="M300.6 193.5V195M299.2 193.5h2.8M299.2 195h2.8" stroke="#111" stroke-width="0.6"/>
<circle cx="221.2" cy="235" r="1.3" fill="#111" stroke="none"/>
<circle cx="248" cy="222" r="1.3" fill="#111" stroke="none"/>
<circle cx="274.3" cy="205" r="1.3" fill="#111" stroke="none"/>
<circle cx="300.6" cy="194.2" r="1.3" fill="#111" stroke="none"/>
<path d="M221.2 234.1L248 209.1L274.3 193.3L300.6 183.9" stroke="#3848c4" stroke-width="0.8"/>
<path d="M221.2 232.6V235.5M219.8 232.6h2.8M219.8 235.5h2.8" stroke="#3848c4" stroke-width="0.6"/>
<path d="M248 205.9V212.2M246.6 205.9h2.8M246.6 212.2h2.8" stroke="#3848c4" stroke-width="0.6"/>
<path d="M274.3 190V196.6M272.9 190h2.8M272.9 196.6h2.8" stroke="#3848c4" stroke-width="0.6"/>
<path d="M300.6 180.7V187M299.2 180.7h2.8M299.2 187h2.8" stroke="#3848c4" stroke-width="0.6"/>
<path d="M221.2 232.5l1.5 2.6h-3z" fill="#3848c4" stroke="none"/>
<path d="M248 207.5l1.5 2.6h-3z" fill="#3848c4" stroke="none"/>
<path d="M274.3 191.8l1.5 2.6h-3z" fill="#3848c4" stroke="none"/>
<path d="M300.6 182.3l1.5 2.6h-3z" fill="#3848c4" stroke="none"/>
<path d="M197.4 175.9L207.3 175.9" stroke="#3a9a50" stroke-width="0.8"/>
<path d="M202.4 177.6l1.7 -2.9h-3.3z" fill="#3a9a50" stroke="none"/>
<text transform="translate(209.8 179.3)scale(1 1.04)" font-size="9.7">shFUT8#1+NaLac</text>
<path d="M197.4 186L207.3 186" stroke="#3848c4" stroke-width="0.8"/>
<path d="M202.4 184.3l1.7 2.9h-3.3z" fill="#3848c4" stroke="none"/>
<text transform="translate(209.8 188.8)scale(1 1.04)" font-size="9.7">shNC+NaLac</text>
<path d="M197.4 196.6L207.3 196.6" stroke="#f03535" stroke-width="0.8"/>
<rect x="201" y="195.2" width="2.8" height="2.8" fill="#f03535" stroke="none"/>
<text transform="translate(209.8 199.3)scale(1 1.04)" font-size="9.7">shFUT8#1</text>
<path d="M197.4 206.7L207.3 206.7" stroke="#111" stroke-width="0.8"/>
<circle cx="202.4" cy="206.7" r="1.45" fill="#111" stroke="none"/>
<text transform="translate(209.8 210.2)scale(1 1.04)" font-size="9.7">shNC</text>
<path d="M304.6 182.2L304.6 192.1" stroke-width="0.8"/>
<text transform="translate(314.1 186.6)rotate(-90)scale(1 1.1)" text-anchor="middle" font-size="10" font-family="DejaVu Sans, sans-serif" stroke-width=".35" letter-spacing="1.1">**</text>
<path d="M304.6 195.2L304.6 211.7" stroke-width="0.8"/>
<text transform="translate(314.1 202.9)rotate(-90)scale(1 1.1)" text-anchor="middle" font-size="10" font-family="DejaVu Sans, sans-serif" stroke-width=".35" letter-spacing="1.1">***</text>
<path d="M313.8 201L313.8 211.7" stroke-width="0.8"/>
<text transform="translate(323.9 205.8)rotate(-90)scale(1 1.1)" text-anchor="middle" font-size="10" font-family="DejaVu Sans, sans-serif" stroke-width=".35" letter-spacing="1.1">**</text>
<text transform="translate(641.9 164.3)scale(1 1.04)" text-anchor="middle" font-size="9.7">786-O</text>
<path d="M609.1 184.6V262.3H681M605.8 262.3h3.3M605.8 243h3.3M605.8 223.6h3.3M605.8 204.3h3.3M605.8 185h3.3M621.1 262.3v3.3M638.2 262.3v3.3M655.2 262.3v3.3M672.4 262.3v3.3" stroke-width="0.8"/>
<text transform="translate(605.3 265.8)scale(1 1.04)" text-anchor="end">0</text>
<text transform="translate(605.3 246.5)scale(1 1.04)" text-anchor="end">20</text>
<text transform="translate(605.3 227.1)scale(1 1.04)" text-anchor="end">40</text>
<text transform="translate(605.3 207.8)scale(1 1.04)" text-anchor="end">60</text>
<text transform="translate(605.3 188.5)scale(1 1.04)" text-anchor="end">80</text>
<text transform="translate(590.5 221.4)rotate(-90)scale(1 1.04)" text-anchor="middle" font-size="9.6">Wound clousure (%)</text>
<path d="M615.5 262.3V228.5H626.7V262.3" stroke="#111" stroke-width="0.9"/>
<path d="M621.1 221.7V235.7M619 221.7h4.2M619 235.7h4.2" stroke="#111" stroke-width="0.7"/>
<circle cx="621.1" cy="222" r="1.2" fill="#111" stroke="none"/>
<circle cx="621.1" cy="228.8" r="1.2" fill="#111" stroke="none"/>
<circle cx="621.1" cy="235.5" r="1.2" fill="#111" stroke="none"/>
<path d="M632.4 262.3V255.6H643.8V262.3" stroke="#f03535" stroke-width="0.9"/>
<path d="M638.2 254V257.2M636.7 254h3M636.7 257.2h3" stroke="#f03535" stroke-width="0.7"/>
<rect x="634.5" y="254.8" width="2" height="2" fill="#f03535" stroke="none"/>
<rect x="637.2" y="252.8" width="2" height="2" fill="#f03535" stroke="none"/>
<rect x="640.2" y="254.8" width="2" height="2" fill="#f03535" stroke="none"/>
<path d="M649.6 262.3V204.3H660.8V262.3" stroke="#3848c4" stroke-width="0.9"/>
<path d="M655.2 197V211M653.1 197h4.2M653.1 211h4.2" stroke="#3848c4" stroke-width="0.7"/>
<path d="M655.2 195.9l1.5 2.6h-3z" fill="#3848c4" stroke="none"/>
<path d="M655.2 204.4l1.5 2.6h-3z" fill="#3848c4" stroke="none"/>
<path d="M655.2 208.9l1.5 2.6h-3z" fill="#3848c4" stroke="none"/>
<path d="M666.6 262.3V235.5H678.5V262.3" stroke="#3a9a50" stroke-width="0.9"/>
<path d="M672.5 229.9V239.5M670.4 229.9h4.2M670.4 239.5h4.2" stroke="#3a9a50" stroke-width="0.7"/>
<path d="M672.5 232.1l1.5 -2.6h-3z" fill="#3a9a50" stroke="none"/>
<path d="M670.5 238.1l1.5 -2.6h-3z" fill="#3a9a50" stroke="none"/>
<path d="M674.5 238.1l1.5 -2.6h-3z" fill="#3a9a50" stroke="none"/>
<path d="M621.1 179.1L654.9 179.1" stroke-width="0.8"/>
<text transform="translate(638.5 180.3)scale(1 1.1)" text-anchor="middle" font-size="10" font-family="DejaVu Sans, sans-serif" stroke-width=".35" letter-spacing="1.1">**</text>
<path d="M621.1 188.2L635.1 188.2" stroke-width="0.8"/>
<text transform="translate(628.6 189.4)scale(1 1.1)" text-anchor="middle" font-size="10" font-family="DejaVu Sans, sans-serif" stroke-width=".35" letter-spacing="1.1">**</text>
<path d="M641.2 188.2L669.8 188.2" stroke-width="0.8"/>
<text transform="translate(656 189.4)scale(1 1.1)" text-anchor="middle" font-size="10" font-family="DejaVu Sans, sans-serif" stroke-width=".35" letter-spacing="1.1">**</text>
<text transform="translate(608.8 275.3)scale(1 1.04)" text-anchor="end">NaLac</text>
<text transform="translate(621.1 275.3)scale(1 1.04)" text-anchor="middle">-</text>
<text transform="translate(638.2 275.3)scale(1 1.04)" text-anchor="middle">-</text>
<text transform="translate(655.2 275.3)scale(1 1.04)" text-anchor="middle">+</text>
<text transform="translate(672.4 275.3)scale(1 1.04)" text-anchor="middle">+</text>
<text transform="translate(608.8 285.9)scale(1 1.04)" text-anchor="end">shFUT8#1</text>
<text transform="translate(621.1 285.9)scale(1 1.04)" text-anchor="middle">-</text>
<text transform="translate(638.2 285.9)scale(1 1.04)" text-anchor="middle">+</text>
<text transform="translate(655.2 285.9)scale(1 1.04)" text-anchor="middle">-</text>
<text transform="translate(672.4 285.9)scale(1 1.04)" text-anchor="middle">+</text>
<text transform="translate(250.6 305.6)scale(1 1.02)" font-weight="bold" font-size="14.2">K</text>
<text transform="translate(326.6 316.6)scale(1 1.04)" text-anchor="middle" font-size="9.7">786-O</text>
<path d="M295 331.4V419.6H369.3M291.7 419.6h3.3M291.7 397.7h3.3M291.7 375.7h3.3M291.7 353.8h3.3M291.7 331.8h3.3M306.1 419.6v3.3M323.3 419.6v3.3M340.7 419.6v3.3M357.6 419.6v3.3" stroke-width="0.8"/>
<text transform="translate(290.7 423.1)scale(1 1.04)" text-anchor="end">0</text>
<text transform="translate(290.7 401.2)scale(1 1.04)" text-anchor="end">1</text>
<text transform="translate(290.7 379.2)scale(1 1.04)" text-anchor="end">2</text>
<text transform="translate(290.7 357.3)scale(1 1.04)" text-anchor="end">3</text>
<text transform="translate(290.7 335.3)scale(1 1.04)" text-anchor="end">4</text>
<text transform="translate(277.4 372.8)rotate(-90)scale(1 1.04)" text-anchor="middle" font-size="9.7">Relative colony number</text>
<path d="M300.4 419.6V397.2H312V419.6" stroke="#111" stroke-width="0.9"/>
<path d="M306.2 392.5V401.5M304.1 392.5h4.2M304.1 401.5h4.2" stroke="#111" stroke-width="0.7"/>
<circle cx="306.2" cy="392.8" r="1.2" fill="#111" stroke="none"/>
<circle cx="304.3" cy="400.3" r="1.2" fill="#111" stroke="none"/>
<circle cx="308" cy="399.5" r="1.2" fill="#111" stroke="none"/>
<path d="M317.4 419.6V413.3H329.4V419.6" stroke="#f03535" stroke-width="0.9"/>
<path d="M323.4 411.5V415M321.9 411.5h3M321.9 415h3" stroke="#f03535" stroke-width="0.7"/>
<rect x="319.5" y="412.5" width="2" height="2" fill="#f03535" stroke="none"/>
<rect x="322.4" y="410.7" width="2" height="2" fill="#f03535" stroke="none"/>
<rect x="325.5" y="412.2" width="2" height="2" fill="#f03535" stroke="none"/>
<path d="M335.1 419.6V358.4H346.8V419.6" stroke="#3848c4" stroke-width="0.9"/>
<path d="M341 354.6V363.7M338.9 354.6h4.2M338.9 363.7h4.2" stroke="#3848c4" stroke-width="0.7"/>
<path d="M339.3 354.9l1.5 2.6h-3z" fill="#3848c4" stroke="none"/>
<path d="M342.8 355.9l1.5 2.6h-3z" fill="#3848c4" stroke="none"/>
<path d="M341 361.4l1.5 2.6h-3z" fill="#3848c4" stroke="none"/>
<path d="M352.1 419.6V403.7H363.8V419.6" stroke="#3a9a50" stroke-width="0.9"/>
<path d="M358 401V406.3M355.9 401h4.2M355.9 406.3h4.2" stroke="#3a9a50" stroke-width="0.7"/>
<path d="M356 403.6l1.5 -2.6h-3z" fill="#3a9a50" stroke="none"/>
<path d="M360 405.1l1.5 -2.6h-3z" fill="#3a9a50" stroke="none"/>
<path d="M356.5 407.1l1.5 -2.6h-3z" fill="#3a9a50" stroke="none"/>
<path d="M306.8 332.3L341 332.3" stroke-width="0.8"/>
<text transform="translate(324.4 333.5)scale(1 1.1)" text-anchor="middle" font-size="10" font-family="DejaVu Sans, sans-serif" stroke-width=".35" letter-spacing="1.1">****</text>
<path d="M306.8 341.6L321.2 341.6" stroke-width="0.8"/>
<text transform="translate(314.6 342.8)scale(1 1.1)" text-anchor="middle" font-size="10" font-family="DejaVu Sans, sans-serif" stroke-width=".35" letter-spacing="1.1">***</text>
<path d="M327.3 341.6L358.5 341.6" stroke-width="0.8"/>
<text transform="translate(340.4 342.8)scale(1 1.1)" text-anchor="middle" font-size="10" font-family="DejaVu Sans, sans-serif" stroke-width=".35" letter-spacing="1.1">*</text>
<text transform="translate(294.3 434.1)scale(1 1.04)" text-anchor="end">NaLac</text>
<text transform="translate(306.1 434.1)scale(1 1.04)" text-anchor="middle">-</text>
<text transform="translate(323.3 434.1)scale(1 1.04)" text-anchor="middle">-</text>
<text transform="translate(340.7 434.1)scale(1 1.04)" text-anchor="middle">+</text>
<text transform="translate(357.6 434.1)scale(1 1.04)" text-anchor="middle">+</text>
<text transform="translate(294.3 446)scale(1 1.04)" text-anchor="end">shFUT8#1</text>
<text transform="translate(306.1 446)scale(1 1.04)" text-anchor="middle">-</text>
<text transform="translate(323.3 446)scale(1 1.04)" text-anchor="middle">+</text>
<text transform="translate(340.7 446)scale(1 1.04)" text-anchor="middle">-</text>
<text transform="translate(357.6 446)scale(1 1.04)" text-anchor="middle">+</text>
<text transform="translate(371.8 305.6)scale(1 1.02)" font-weight="bold" font-size="14.2">L</text>
<text transform="translate(449.6 316.6)scale(1 1.04)" text-anchor="middle" font-size="9.7">786-O</text>
<path d="M418.7 331V419H492.7M415.4 419h3.3M415.4 397.1h3.3M415.4 375.2h3.3M415.4 353.3h3.3M415.4 331.4h3.3M430 419v3.3M447.2 419v3.3M464.5 419v3.3M481.5 419v3.3" stroke-width="0.8"/>
<text transform="translate(414.8 422.5)scale(1 1.04)" text-anchor="end">0</text>
<text transform="translate(414.8 400.6)scale(1 1.04)" text-anchor="end">100</text>
<text transform="translate(414.8 378.7)scale(1 1.04)" text-anchor="end">200</text>
<text transform="translate(414.8 356.8)scale(1 1.04)" text-anchor="end">300</text>
<text transform="translate(414.8 334.9)scale(1 1.04)" text-anchor="end">400</text>
<text transform="translate(392 371.7)rotate(-90)scale(1 1.04)" text-anchor="middle">Number of migrated cells</text>
<path d="M424.3 419V390H435.9V419" stroke="#111" stroke-width="0.9"/>
<path d="M430.1 386V393.5M428 386h4.2M428 393.5h4.2" stroke="#111" stroke-width="0.7"/>
<circle cx="430.1" cy="386.3" r="1.2" fill="#111" stroke="none"/>
<circle cx="430.1" cy="390.3" r="1.2" fill="#111" stroke="none"/>
<circle cx="430.1" cy="393" r="1.2" fill="#111" stroke="none"/>
<path d="M441.2 419V411.9H452.9V419" stroke="#f03535" stroke-width="0.9"/>
<path d="M447 409.8V414M445.5 409.8h3M445.5 414h3" stroke="#f03535" stroke-width="0.7"/>
<rect x="443.3" y="411.5" width="2" height="2" fill="#f03535" stroke="none"/>
<rect x="446" y="409.3" width="2" height="2" fill="#f03535" stroke="none"/>
<rect x="449" y="410.8" width="2" height="2" fill="#f03535" stroke="none"/>
<path d="M458.6 419V358.4H470.3V419" stroke="#3848c4" stroke-width="0.9"/>
<path d="M464.5 352.2V364.5M462.4 352.2h4.2M462.4 364.5h4.2" stroke="#3848c4" stroke-width="0.7"/>
<path d="M464.5 351.4l1.5 2.6h-3z" fill="#3848c4" stroke="none"/>
<path d="M462.5 360.4l1.5 2.6h-3z" fill="#3848c4" stroke="none"/>
<path d="M466.3 358.4l1.5 2.6h-3z" fill="#3848c4" stroke="none"/>
<path d="M476 419V401.3H487.6V419" stroke="#3a9a50" stroke-width="0.9"/>
<path d="M481.8 399.3V403.3M479.7 399.3h4.2M479.7 403.3h4.2" stroke="#3a9a50" stroke-width="0.7"/>
<path d="M479 402.6l1.5 -2.6h-3z" fill="#3a9a50" stroke="none"/>
<path d="M481.8 401.4l1.5 -2.6h-3z" fill="#3a9a50" stroke="none"/>
<path d="M484.6 403.1l1.5 -2.6h-3z" fill="#3a9a50" stroke="none"/>
<path d="M430 332.4L464.1 332.4" stroke-width="0.8"/>
<text transform="translate(447.6 333.6)scale(1 1.1)" text-anchor="middle" font-size="10" font-family="DejaVu Sans, sans-serif" stroke-width=".35" letter-spacing="1.1">****</text>
<path d="M430 341.6L443.7 341.6" stroke-width="0.8"/>
<text transform="translate(437.4 342.8)scale(1 1.1)" text-anchor="middle" font-size="10" font-family="DejaVu Sans, sans-serif" stroke-width=".35" letter-spacing="1.1">***</text>
<path d="M449.8 341.6L478 341.6" stroke-width="0.8"/>
<text transform="translate(464.4 342.8)scale(1 1.1)" text-anchor="middle" font-size="10" font-family="DejaVu Sans, sans-serif" stroke-width=".35" letter-spacing="1.1">*</text>
<text transform="translate(418.1 433.3)scale(1 1.04)" text-anchor="end">NaLac</text>
<text transform="translate(430 433.3)scale(1 1.04)" text-anchor="middle">-</text>
<text transform="translate(447.2 433.3)scale(1 1.04)" text-anchor="middle">-</text>
<text transform="translate(464.5 433.3)scale(1 1.04)" text-anchor="middle">+</text>
<text transform="translate(481.5 433.3)scale(1 1.04)" text-anchor="middle">+</text>
<text transform="translate(418.1 445.3)scale(1 1.04)" text-anchor="end">shFUT8#1</text>
<text transform="translate(430 445.3)scale(1 1.04)" text-anchor="middle">-</text>
<text transform="translate(447.2 445.3)scale(1 1.04)" text-anchor="middle">+</text>
<text transform="translate(464.5 445.3)scale(1 1.04)" text-anchor="middle">-</text>
<text transform="translate(481.5 445.3)scale(1 1.04)" text-anchor="middle">+</text>
<text transform="translate(496 305.6)scale(1 1.02)" font-weight="bold" font-size="14.2">M</text>
<path d="M541.2 325.1V416.1H678.4M537.9 416.1h3.3M537.9 398h3.3M537.9 379.9h3.3M537.9 361.7h3.3M537.9 343.6h3.3M537.9 325.5h3.3M541.2 416.1v3.3M564 416.1v3.3M586.8 416.1v3.3M609.6 416.1v3.3M632.3 416.1v3.3M655.1 416.1v3.3M677.9 416.1v3.3" stroke-width="0.8"/>
<text transform="translate(536.2 419.5)scale(1 1.04)" text-anchor="end" font-size="9.1">0</text>
<text transform="translate(536.2 401.3)scale(1 1.04)" text-anchor="end" font-size="9.1">400</text>
<text transform="translate(536.2 383.2)scale(1 1.04)" text-anchor="end" font-size="9.1">800</text>
<text transform="translate(536.2 365.1)scale(1 1.04)" text-anchor="end" font-size="9.1">1200</text>
<text transform="translate(536.2 347)scale(1 1.04)" text-anchor="end" font-size="9.1">1600</text>
<text transform="translate(536.2 328.9)scale(1 1.04)" text-anchor="end" font-size="9.1">2000</text>
<text transform="translate(541.2 427.7)scale(1 1.04)" text-anchor="middle">9</text>
<text transform="translate(564 427.7)scale(1 1.04)" text-anchor="middle">12</text>
<text transform="translate(586.8 427.7)scale(1 1.04)" text-anchor="middle">15</text>
<text transform="translate(609.6 427.7)scale(1 1.04)" text-anchor="middle">18</text>
<text transform="translate(632.3 427.7)scale(1 1.04)" text-anchor="middle">21</text>
<text transform="translate(655.1 427.7)scale(1 1.04)" text-anchor="middle">24</text>
<text transform="translate(677.9 427.7)scale(1 1.04)" text-anchor="middle">27</text>
<text transform="translate(609.6 438.3)scale(1 1.04)" text-anchor="middle">Time (days)</text>
<text transform="translate(511.4 372)rotate(-90)scale(1 1.04)" text-anchor="middle" font-size="9.7">Tumor volume (mm<tspan font-size="6" dy="-3.2">3</tspan><tspan dy="3.2">)</tspan></text>
<path d="M548.8 414.5L571.6 412.9L594.4 412.7L617.2 413.7L639.9 413.2L662.7 412" stroke="#3a9a50" stroke-width="0.8"/>
<path d="M548.8 413.8V415.2M547.4 413.8h2.8M547.4 415.2h2.8" stroke="#3a9a50" stroke-width="0.6"/>
<path d="M571.6 412V413.8M570.2 412h2.8M570.2 413.8h2.8" stroke="#3a9a50" stroke-width="0.6"/>
<path d="M594.4 410.9V414.5M593 410.9h2.8M593 414.5h2.8" stroke="#3a9a50" stroke-width="0.6"/>
<path d="M617.2 411.3V416.2M615.8 411.3h2.8M615.8 416.2h2.8" stroke="#3a9a50" stroke-width="0.6"/>
<path d="M639.9 410.9V415.4M638.5 410.9h2.8M638.5 415.4h2.8" stroke="#3a9a50" stroke-width="0.6"/>
<path d="M662.7 408.6V415.4M661.3 408.6h2.8M661.3 415.4h2.8" stroke="#3a9a50" stroke-width="0.6"/>
<path d="M548.8 416.1l1.5 -2.6h-3z" fill="#3a9a50" stroke="none"/>
<path d="M571.6 414.5l1.5 -2.6h-3z" fill="#3a9a50" stroke="none"/>
<path d="M594.4 414.3l1.5 -2.6h-3z" fill="#3a9a50" stroke="none"/>
<path d="M617.2 415.3l1.5 -2.6h-3z" fill="#3a9a50" stroke="none"/>
<path d="M639.9 414.7l1.5 -2.6h-3z" fill="#3a9a50" stroke="none"/>
<path d="M662.7 413.6l1.5 -2.6h-3z" fill="#3a9a50" stroke="none"/>
<path d="M548.8 414.7L571.6 411.6L594.4 409.3L617.2 409.3L639.9 406.8L662.7 403.2" stroke="#3848c4" stroke-width="0.8"/>
<path d="M548.8 414.1V415.4M547.4 414.1h2.8M547.4 415.4h2.8" stroke="#3848c4" stroke-width="0.6"/>
<path d="M571.6 410.4V412.7M570.2 410.4h2.8M570.2 412.7h2.8" stroke="#3848c4" stroke-width="0.6"/>
<path d="M594.4 406.6V412M593 406.6h2.8M593 412h2.8" stroke="#3848c4" stroke-width="0.6"/>
<path d="M617.2 405.2V413.4M615.8 405.2h2.8M615.8 413.4h2.8" stroke="#3848c4" stroke-width="0.6"/>
<path d="M639.9 401.8V411.8M638.5 401.8h2.8M638.5 411.8h2.8" stroke="#3848c4" stroke-width="0.6"/>
<path d="M662.7 395.9V410.4M661.3 395.9h2.8M661.3 410.4h2.8" stroke="#3848c4" stroke-width="0.6"/>
<path d="M548.8 413.2l1.5 2.6h-3z" fill="#3848c4" stroke="none"/>
<path d="M571.6 410l1.5 2.6h-3z" fill="#3848c4" stroke="none"/>
<path d="M594.4 407.7l1.5 2.6h-3z" fill="#3848c4" stroke="none"/>
<path d="M617.2 407.7l1.5 2.6h-3z" fill="#3848c4" stroke="none"/>
<path d="M639.9 405.3l1.5 2.6h-3z" fill="#3848c4" stroke="none"/>
<path d="M662.7 401.6l1.5 2.6h-3z" fill="#3848c4" stroke="none"/>
<path d="M548.8 415L571.6 412.5L594.4 410L617.2 408.4L639.9 403.2L662.7 395.5" stroke="#f03535" stroke-width="0.8"/>
<path d="M548.8 414.3V415.6M547.4 414.3h2.8M547.4 415.6h2.8" stroke="#f03535" stroke-width="0.6"/>
<path d="M571.6 411.3V413.6M570.2 411.3h2.8M570.2 413.6h2.8" stroke="#f03535" stroke-width="0.6"/>
<path d="M594.4 407.7V412.2M593 407.7h2.8M593 412.2h2.8" stroke="#f03535" stroke-width="0.6"/>
<path d="M617.2 405.2V411.6M615.8 405.2h2.8M615.8 411.6h2.8" stroke="#f03535" stroke-width="0.6"/>
<path d="M639.9 397.8V408.6M638.5 397.8h2.8M638.5 408.6h2.8" stroke="#f03535" stroke-width="0.6"/>
<path d="M662.7 388.2V402.7M661.3 388.2h2.8M661.3 402.7h2.8" stroke="#f03535" stroke-width="0.6"/>
<rect x="547.6" y="413.8" width="2.4" height="2.4" fill="#f03535" stroke="none"/>
<rect x="570.4" y="411.3" width="2.4" height="2.4" fill="#f03535" stroke="none"/>
<rect x="593.2" y="408.8" width="2.4" height="2.4" fill="#f03535" stroke="none"/>
<rect x="616" y="407.2" width="2.4" height="2.4" fill="#f03535" stroke="none"/>
<rect x="638.7" y="402" width="2.4" height="2.4" fill="#f03535" stroke="none"/>
<rect x="661.5" y="394.3" width="2.4" height="2.4" fill="#f03535" stroke="none"/>
<path d="M548.8 414.1L571.6 411.6L594.4 403.2L617.2 389.8L639.9 371.5L662.7 347.5" stroke="#111" stroke-width="0.8"/>
<path d="M548.8 413.2V415M547.4 413.2h2.8M547.4 415h2.8" stroke="#111" stroke-width="0.6"/>
<path d="M571.6 409.8V413.4M570.2 409.8h2.8M570.2 413.4h2.8" stroke="#111" stroke-width="0.6"/>
<path d="M594.4 397.8V408.6M593 397.8h2.8M593 408.6h2.8" stroke="#111" stroke-width="0.6"/>
<path d="M617.2 379.9V399.8M615.8 379.9h2.8M615.8 399.8h2.8" stroke="#111" stroke-width="0.6"/>
<path d="M639.9 357.9V385.1M638.5 357.9h2.8M638.5 385.1h2.8" stroke="#111" stroke-width="0.6"/>
<path d="M662.7 334.3V360.6M661.3 334.3h2.8M661.3 360.6h2.8" stroke="#111" stroke-width="0.6"/>
<circle cx="548.8" cy="414.1" r="1.2" fill="#111" stroke="none"/>
<circle cx="571.6" cy="411.6" r="1.2" fill="#111" stroke="none"/>
<circle cx="594.4" cy="403.2" r="1.2" fill="#111" stroke="none"/>
<circle cx="617.2" cy="389.8" r="1.2" fill="#111" stroke="none"/>
<circle cx="639.9" cy="371.5" r="1.2" fill="#111" stroke="none"/>
<circle cx="662.7" cy="347.5" r="1.2" fill="#111" stroke="none"/>
<path d="M544.9 326.7L554.7 326.7" stroke="#111" stroke-width="0.8"/>
<circle cx="549.8" cy="326.7" r="1.45" fill="#111" stroke="none"/>
<text transform="translate(556.6 329.1)scale(1 1.04)" font-size="9.35">Control</text>
<path d="M544.9 336.8L554.7 336.8" stroke="#f03535" stroke-width="0.8"/>
<circle cx="549.8" cy="336.8" r="1.45" fill="#f03535" stroke="none"/>
<text transform="translate(556.6 340.2)scale(1 1.04)" font-size="9.35">NaOxa</text>
<path d="M544.9 347.5L554.7 347.5" stroke="#3848c4" stroke-width="0.8"/>
<path d="M549.8 345.8l1.7 2.9h-3.3z" fill="#3848c4" stroke="none"/>
<text transform="translate(556.6 351.1)scale(1 1.04)" font-size="9.35">FDW028</text>
<path d="M544.9 358L554.7 358" stroke="#3a9a50" stroke-width="0.8"/>
<path d="M549.8 359.7l1.7 -2.9h-3.3z" fill="#3a9a50" stroke="none"/>
<text transform="translate(556.6 361.6)scale(1 1.04)" font-size="9.35">NaOxa+FDW028</text>
<path d="M667.3 404.2L667.3 412.1" stroke-width="0.8"/>
<text transform="translate(676.8 407.6)rotate(-90)scale(1 1.1)" text-anchor="middle" font-size="10" font-family="DejaVu Sans, sans-serif" stroke-width=".35" letter-spacing="1.1">*</text>
<path d="M676.4 395.6L676.4 412.1" stroke-width="0.8"/>
<text transform="translate(687 403.3)rotate(-90)scale(1 1.1)" text-anchor="middle" font-size="10" font-family="DejaVu Sans, sans-serif" stroke-width=".35" letter-spacing="1.1">***</text>
</g>
</svg></body></html>
